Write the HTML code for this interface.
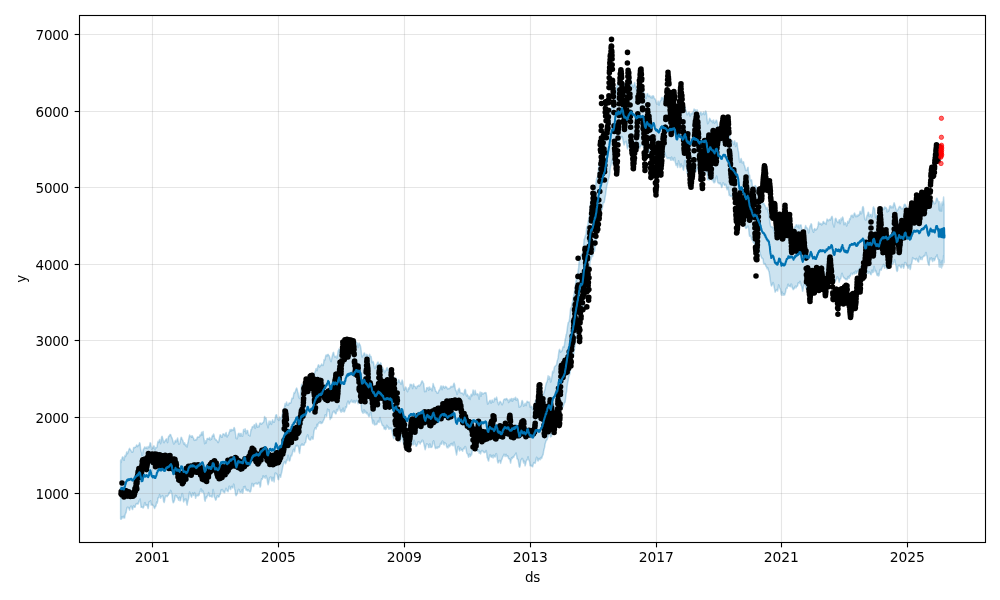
<!DOCTYPE html>
<html><head><meta charset="utf-8"><title>forecast</title>
<style>
html,body{margin:0;padding:0;background:#fff;}
svg{display:block;}
text{font-family:"DejaVu Sans","Liberation Sans",sans-serif;font-size:13.5px;letter-spacing:-0.22px;fill:#000;}
</style></head><body>
<svg width="1000" height="600" viewBox="0 0 1000 600">
<rect width="1000" height="600" fill="#fff"/>
<path d="M120.6,459.9 121.1,462.6 121.6,460.1 122.1,458.1 122.6,456.9 123.1,457.1 123.6,459.7 124.1,460.3 124.6,457.2 125.1,455.3 125.6,456.5 126.1,455.4 126.6,452.1 127.1,453.1 127.6,453.6 128.1,451.9 128.6,450.8 129.1,449.1 129.6,448.4 130.1,449.2 130.6,449.9 131.1,450.7 131.6,451.8 132.1,452.2 132.6,452.3 133.1,450.9 133.6,447.7 134.1,447.4 134.6,447.8 135.1,447.1 135.6,447.3 136.1,446.2 136.6,444.9 137.1,445.7 137.6,446.6 138.1,445.5 138.6,445.1 139.1,444.8 139.6,442.8 140.1,443.9 140.6,449.1 141.1,451.2 141.6,452.7 142.1,455.5 142.6,454.7 143.1,450.2 143.6,448.8 144.1,449.0 144.6,446.9 145.1,447.2 145.6,448.3 146.1,448.3 146.6,447.1 147.1,448.5 147.6,448.6 148.1,446.5 148.6,447.4 149.1,447.6 149.6,445.8 150.1,442.8 150.6,443.1 151.1,446.5 151.6,449.2 152.1,448.7 152.6,447.4 153.1,448.1 153.6,446.0 154.1,445.9 154.6,449.4 155.1,449.9 155.6,447.5 156.1,447.6 156.6,447.8 157.1,446.4 157.6,443.3 158.1,441.3 158.6,442.6 159.1,441.5 159.6,439.5 160.1,441.1 160.6,443.7 161.1,441.6 161.6,436.9 162.1,436.3 162.6,438.1 163.1,439.9 163.6,442.3 164.1,442.8 164.6,441.3 165.1,441.1 165.6,440.0 166.1,439.1 166.6,438.9 167.1,441.4 167.6,442.6 168.1,438.6 168.6,436.3 169.1,436.5 169.6,435.4 170.1,434.4 170.6,434.6 171.1,436.1 171.6,437.5 172.1,438.1 172.6,440.0 173.1,441.8 173.6,443.9 174.1,443.8 174.6,443.0 175.1,440.9 175.6,440.4 176.1,441.9 176.6,441.5 177.1,439.5 177.6,437.9 178.1,440.7 178.6,443.9 179.1,444.0 179.6,443.7 180.1,442.4 180.6,439.5 181.1,437.3 181.6,437.7 182.1,439.4 182.6,440.0 183.1,441.3 183.6,443.5 184.1,444.5 184.6,442.8 185.1,444.2 185.6,445.8 186.1,444.7 186.6,446.4 187.1,447.0 187.6,444.1 188.1,442.0 188.6,439.5 189.1,437.2 189.6,435.1 190.1,436.5 190.6,436.6 191.1,436.0 191.6,437.3 192.1,435.7 192.6,436.5 193.1,437.6 193.6,438.3 194.1,440.1 194.6,440.4 195.1,440.2 195.6,439.7 196.1,439.5 196.6,439.8 197.1,437.8 197.6,436.9 198.1,437.0 198.6,437.0 199.1,437.2 199.6,436.2 200.1,434.7 200.6,435.8 201.1,434.3 201.6,432.2 202.1,435.0 202.6,432.7 203.1,431.5 203.6,437.6 204.1,439.5 204.6,443.7 205.1,443.2 205.6,440.7 206.1,443.0 206.6,440.8 207.1,438.5 207.6,438.5 208.1,438.5 208.6,439.2 209.1,438.7 209.6,437.4 210.1,440.0 210.6,439.7 211.1,438.6 211.6,439.1 212.1,436.3 212.6,435.4 213.1,436.3 213.6,434.1 214.1,435.5 214.6,438.3 215.1,438.9 215.6,440.0 216.1,439.6 216.6,440.5 217.1,440.9 217.6,441.6 218.1,442.6 218.6,441.8 219.1,440.0 219.6,436.9 220.1,434.8 220.6,434.9 221.1,436.3 221.6,437.3 222.1,437.3 222.6,435.3 223.1,433.8 223.6,434.1 224.1,434.3 224.6,435.2 225.1,436.0 225.6,433.7 226.1,432.5 226.6,435.5 227.1,437.0 227.6,435.2 228.1,435.5 228.6,434.5 229.1,432.3 229.6,431.8 230.1,429.6 230.6,430.7 231.1,431.1 231.6,429.4 232.1,429.6 232.6,430.5 233.1,430.5 233.6,429.0 234.1,427.4 234.6,428.5 235.1,431.2 235.6,434.5 236.1,438.5 236.6,438.5 237.1,438.8 237.6,437.3 238.1,434.2 238.6,433.4 239.1,433.2 239.6,434.7 240.1,436.3 240.6,433.6 241.1,433.3 241.6,435.6 242.1,436.1 242.6,436.3 243.1,433.0 243.6,429.4 244.1,430.7 244.6,431.4 245.1,428.7 245.6,430.7 246.1,433.8 246.6,432.5 247.1,430.6 247.6,430.5 248.1,433.2 248.6,435.3 249.1,435.3 249.6,435.8 250.1,436.0 250.6,432.1 251.1,429.5 251.6,429.4 252.1,427.2 252.6,426.5 253.1,426.9 253.6,426.7 254.1,425.0 254.6,424.8 255.1,428.4 255.6,427.6 256.1,423.2 256.6,424.3 257.1,426.7 257.6,427.3 258.1,426.0 258.6,426.8 259.1,426.8 259.6,423.7 260.1,423.0 260.6,423.3 261.1,424.1 261.6,424.3 262.1,423.0 262.6,422.9 263.1,422.6 263.6,422.1 264.1,419.9 264.6,416.4 265.1,417.9 265.6,418.0 266.1,418.1 266.6,421.9 267.1,424.4 267.6,425.8 268.1,427.8 268.6,423.9 269.1,421.1 269.6,424.6 270.1,423.2 270.6,421.2 271.1,422.5 271.6,424.4 272.1,421.9 272.6,419.8 273.1,421.1 273.6,422.0 274.1,422.3 274.6,421.3 275.1,418.6 275.6,415.9 276.1,414.8 276.6,414.8 277.1,417.1 277.6,419.4 278.1,418.9 278.6,420.3 279.1,420.5 279.6,416.9 280.1,418.1 280.6,418.9 281.1,417.8 281.6,417.4 282.1,415.1 282.6,413.2 283.1,410.4 283.6,408.6 284.1,410.1 284.6,406.5 285.1,403.6 285.6,405.9 286.1,404.3 286.6,402.0 287.1,404.8 287.6,405.1 288.1,404.3 288.6,404.9 289.1,402.9 289.6,402.9 290.1,403.3 290.6,403.3 291.1,402.0 291.6,399.6 292.1,398.1 292.6,398.5 293.1,398.3 293.6,394.9 294.1,392.5 294.6,393.2 295.1,392.4 295.6,390.6 296.1,389.0 296.6,388.0 297.1,389.1 297.6,391.5 298.1,393.1 298.6,396.6 299.1,397.8 299.6,398.4 300.1,397.4 300.6,392.0 301.1,388.5 301.6,384.3 302.1,384.8 302.6,388.1 303.1,389.8 303.6,387.4 304.1,386.7 304.6,387.9 305.1,386.8 305.6,383.9 306.1,381.7 306.6,381.6 307.1,379.9 307.6,379.3 308.1,378.0 308.6,380.4 309.1,383.7 309.6,383.8 310.1,383.6 310.6,383.4 311.1,381.9 311.6,379.3 312.1,378.0 312.6,380.4 313.1,381.4 313.6,378.1 314.1,374.8 314.6,372.9 315.1,371.8 315.6,370.2 316.1,368.4 316.6,370.3 317.1,370.8 317.6,367.5 318.1,365.5 318.6,364.8 319.1,366.2 319.6,367.2 320.1,366.0 320.6,365.4 321.1,365.5 321.6,364.0 322.1,365.0 322.6,365.4 323.1,365.4 323.6,363.2 324.1,359.5 324.6,360.4 325.1,359.5 325.6,356.3 326.1,354.9 326.6,355.7 327.1,356.0 327.6,354.6 328.1,354.3 328.6,355.3 329.1,355.7 329.6,356.9 330.1,358.7 330.6,360.7 331.1,361.6 331.6,359.3 332.1,356.6 332.6,354.8 333.1,352.6 333.6,352.4 334.1,355.2 334.6,356.7 335.1,357.1 335.6,356.5 336.1,356.1 336.6,357.9 337.1,357.9 337.6,354.5 338.1,351.1 338.6,350.1 339.1,348.7 339.6,350.0 340.1,354.1 340.6,354.7 341.1,356.4 341.6,356.5 342.1,353.7 342.6,353.7 343.1,353.6 343.6,354.8 344.1,355.4 344.6,355.7 345.1,354.7 345.6,351.8 346.1,349.4 346.6,346.2 347.1,345.4 347.6,345.4 348.1,346.1 348.6,346.8 349.1,347.6 349.6,348.4 350.1,347.2 350.6,346.3 351.1,345.4 351.6,346.0 352.1,347.3 352.6,346.3 353.1,346.0 353.6,349.1 354.1,347.7 354.6,343.7 355.1,342.4 355.6,340.6 356.1,342.1 356.6,343.5 357.1,342.8 357.6,345.0 358.1,347.6 358.6,344.7 359.1,343.0 359.6,344.6 360.1,344.9 360.6,347.0 361.1,349.9 361.6,354.4 362.1,357.1 362.6,356.0 363.1,355.5 363.6,354.6 364.1,353.1 364.6,353.1 365.1,355.7 365.6,357.0 366.1,355.6 366.6,354.4 367.1,354.7 367.6,355.5 368.1,357.1 368.6,358.9 369.1,355.9 369.6,354.2 370.1,355.9 370.6,356.4 371.1,356.5 371.6,360.2 372.1,362.8 372.6,361.4 373.1,361.5 373.6,363.0 374.1,365.9 374.6,368.3 375.1,368.5 375.6,366.5 376.1,365.2 376.6,364.5 377.1,364.0 377.6,362.3 378.1,362.1 378.6,364.5 379.1,364.3 379.6,364.4 380.1,364.1 380.6,362.8 381.1,363.7 381.6,366.9 382.1,369.0 382.6,367.7 383.1,368.7 383.6,369.9 384.1,371.3 384.6,372.8 385.1,370.8 385.6,370.9 386.1,370.2 386.6,368.3 387.1,367.6 387.6,369.0 388.1,370.6 388.6,370.4 389.1,370.2 389.6,371.9 390.1,371.8 390.6,369.2 391.1,371.0 391.6,374.2 392.1,375.5 392.6,375.4 393.1,377.6 393.6,381.9 394.1,382.5 394.6,382.1 395.1,379.1 395.6,377.5 396.1,378.9 396.6,380.8 397.1,382.3 397.6,382.4 398.1,381.9 398.6,379.8 399.1,380.3 399.6,382.2 400.1,382.5 400.6,383.5 401.1,384.4 401.6,382.3 402.1,380.1 402.6,381.4 403.1,384.3 403.6,388.1 404.1,390.3 404.6,389.5 405.1,389.0 405.6,386.9 406.1,387.6 406.6,389.5 407.1,391.0 407.6,391.7 408.1,389.4 408.6,387.7 409.1,389.1 409.6,387.6 410.1,384.3 410.6,384.7 411.1,384.7 411.6,384.6 412.1,386.2 412.6,388.6 413.1,386.0 413.6,384.0 414.1,385.9 414.6,386.2 415.1,386.7 415.6,387.1 416.1,388.6 416.6,388.1 417.1,386.2 417.6,386.1 418.1,385.8 418.6,385.3 419.1,386.0 419.6,385.9 420.1,384.8 420.6,384.6 421.1,383.0 421.6,381.7 422.1,380.9 422.6,381.7 423.1,382.7 423.6,383.4 424.1,387.3 424.6,391.7 425.1,390.9 425.6,391.5 426.1,391.6 426.6,387.8 427.1,388.0 427.6,388.4 428.1,387.4 428.6,390.2 429.1,389.7 429.6,387.0 430.1,389.2 430.6,388.8 431.1,388.4 431.6,389.7 432.1,390.9 432.6,387.6 433.1,383.6 433.6,385.3 434.1,386.9 434.6,387.1 435.1,389.1 435.6,391.2 436.1,391.2 436.6,392.2 437.1,393.2 437.6,393.2 438.1,393.1 438.6,391.4 439.1,390.1 439.6,390.0 440.1,388.4 440.6,387.1 441.1,385.9 441.6,386.9 442.1,389.7 442.6,387.6 443.1,386.0 443.6,386.5 444.1,387.6 444.6,388.3 445.1,387.0 445.6,386.4 446.1,387.0 446.6,387.0 447.1,388.3 447.6,388.9 448.1,388.5 448.6,388.8 449.1,388.8 449.6,388.3 450.1,388.0 450.6,386.9 451.1,386.3 451.6,386.9 452.1,386.4 452.6,386.5 453.1,386.8 453.6,384.1 454.1,383.2 454.6,384.7 455.1,387.8 455.6,390.4 456.1,390.7 456.6,392.3 457.1,394.5 457.6,393.1 458.1,389.7 458.6,389.8 459.1,388.2 459.6,389.4 460.1,392.6 460.6,392.8 461.1,392.9 461.6,393.1 462.1,392.9 462.6,393.6 463.1,393.8 463.6,394.9 464.1,393.1 464.6,390.1 465.1,389.4 465.6,390.2 466.1,394.7 466.6,396.0 467.1,394.2 467.6,395.3 468.1,395.8 468.6,398.5 469.1,397.3 469.6,396.3 470.1,399.4 470.6,397.0 471.1,394.2 471.6,394.5 472.1,395.9 472.6,393.7 473.1,389.9 473.6,391.6 474.1,395.0 474.6,393.9 475.1,390.3 475.6,392.5 476.1,394.6 476.6,394.3 477.1,394.7 477.6,393.7 478.1,394.2 478.6,396.9 479.1,399.2 479.6,395.1 480.1,392.1 480.6,395.8 481.1,396.1 481.6,392.6 482.1,392.9 482.6,394.1 483.1,394.0 483.6,393.5 484.1,393.2 484.6,392.8 485.1,393.0 485.6,392.5 486.1,392.9 486.6,396.0 487.1,400.8 487.6,404.1 488.1,403.6 488.6,403.1 489.1,401.8 489.6,400.7 490.1,400.2 490.6,401.4 491.1,403.2 491.6,401.8 492.1,400.0 492.6,400.8 493.1,402.2 493.6,401.9 494.1,400.4 494.6,398.2 495.1,398.6 495.6,399.5 496.1,398.9 496.6,397.1 497.1,399.2 497.6,402.2 498.1,403.1 498.6,404.7 499.1,403.3 499.6,402.2 500.1,401.4 500.6,401.8 501.1,402.7 501.6,403.9 502.1,404.8 502.6,403.9 503.1,402.8 503.6,400.1 504.1,399.4 504.6,399.1 505.1,399.1 505.6,399.9 506.1,398.5 506.6,398.5 507.1,399.7 507.6,399.4 508.1,400.2 508.6,402.5 509.1,401.8 509.6,400.4 510.1,399.1 510.6,399.5 511.1,401.1 511.6,398.4 512.1,398.6 512.6,401.2 513.1,399.9 513.6,398.7 514.1,398.2 514.6,399.3 515.1,398.6 515.6,397.2 516.1,400.3 516.6,400.1 517.1,398.4 517.6,399.3 518.1,399.9 518.6,403.1 519.1,407.2 519.6,407.1 520.1,406.1 520.6,406.5 521.1,405.6 521.6,402.1 522.1,400.5 522.6,401.3 523.1,403.9 523.6,406.2 524.1,405.7 524.6,404.5 525.1,403.2 525.6,404.7 526.1,405.6 526.6,403.0 527.1,401.2 527.6,401.7 528.1,402.3 528.6,402.3 529.1,402.0 529.6,404.3 530.1,407.2 530.6,407.0 531.1,406.3 531.6,406.4 532.1,408.3 532.6,409.5 533.1,408.5 533.6,406.4 534.1,404.1 534.6,403.9 535.1,402.4 535.6,400.2 536.1,400.4 536.6,402.7 537.1,403.2 537.6,403.7 538.1,403.6 538.6,401.9 539.1,400.4 539.6,400.0 540.1,402.4 540.6,402.7 541.1,401.4 541.6,401.1 542.1,399.1 542.6,396.4 543.1,394.6 543.6,393.6 544.1,392.3 544.6,390.6 545.1,388.7 545.6,385.9 546.1,384.0 546.6,382.3 547.1,382.1 547.6,379.0 548.1,375.8 548.6,379.2 549.1,378.9 549.6,376.4 550.1,378.4 550.6,382.1 551.1,381.3 551.6,378.2 552.1,375.3 552.6,371.3 553.1,372.8 553.6,372.5 554.1,368.2 554.6,366.7 555.1,366.2 555.6,365.8 556.1,365.2 556.6,364.4 557.1,361.2 557.6,359.7 558.1,357.9 558.6,353.9 559.1,350.4 559.6,349.4 560.1,350.8 560.6,352.2 561.1,351.5 561.6,350.7 562.1,350.8 562.6,348.3 563.1,346.7 563.6,346.4 564.1,347.1 564.6,343.6 565.1,339.8 565.6,337.9 566.1,334.9 566.6,333.8 567.1,330.1 567.6,326.2 568.1,323.0 568.6,322.2 569.1,321.6 569.6,318.4 570.1,313.4 570.6,308.2 571.1,308.0 571.6,306.5 572.1,303.0 572.6,301.7 573.1,298.5 573.6,296.3 574.1,294.5 574.6,290.8 575.1,286.9 575.6,283.9 576.1,280.9 576.6,278.5 577.1,277.5 577.6,274.6 578.1,271.2 578.6,267.9 579.1,261.2 579.6,258.1 580.1,258.1 580.6,255.9 581.1,255.8 581.6,254.5 582.1,253.8 582.6,253.9 583.1,252.1 583.6,246.1 584.1,239.4 584.6,238.6 585.1,236.6 585.6,235.4 586.1,234.0 586.6,228.1 587.1,226.3 587.6,226.8 588.1,222.3 588.6,219.8 589.1,217.6 589.6,213.2 590.1,208.5 590.6,201.8 591.1,200.8 591.6,202.7 592.1,203.8 592.6,203.6 593.1,200.1 593.6,195.6 594.1,192.0 594.6,190.2 595.1,188.4 595.6,186.4 596.1,181.8 596.6,178.8 597.1,177.7 597.6,176.6 598.1,174.1 598.6,167.8 599.1,164.9 599.6,161.5 600.1,158.0 600.6,155.3 601.1,155.4 601.6,155.8 602.1,150.6 602.6,147.6 603.1,147.8 603.6,146.7 604.1,144.6 604.6,141.4 605.1,138.1 605.6,136.3 606.1,135.0 606.6,131.2 607.1,126.4 607.6,126.0 608.1,123.7 608.6,121.1 609.1,119.9 609.6,117.3 610.1,116.2 610.6,113.1 611.1,109.3 611.6,105.4 612.1,103.0 612.6,105.0 613.1,108.1 613.6,108.7 614.1,107.7 614.6,102.9 615.1,96.4 615.6,93.4 616.1,90.7 616.6,88.0 617.1,85.4 617.6,84.5 618.1,82.1 618.6,80.2 619.1,80.6 619.6,82.2 620.1,83.1 620.6,82.3 621.1,80.2 621.6,77.3 622.1,79.7 622.6,80.5 623.1,81.6 623.6,84.2 624.1,83.2 624.6,84.4 625.1,87.4 625.6,86.2 626.1,87.2 626.6,88.5 627.1,87.3 627.6,87.9 628.1,87.2 628.6,88.3 629.1,86.3 629.6,83.9 630.1,86.2 630.6,83.0 631.1,80.1 631.6,83.1 632.1,85.0 632.6,85.3 633.1,87.3 633.6,86.6 634.1,84.4 634.6,82.4 635.1,84.7 635.6,87.6 636.1,88.5 636.6,89.9 637.1,87.8 637.6,89.0 638.1,91.3 638.6,90.3 639.1,87.9 639.6,86.6 640.1,87.3 640.6,87.4 641.1,86.9 641.6,87.6 642.1,88.7 642.6,88.4 643.1,88.1 643.6,90.8 644.1,94.5 644.6,93.4 645.1,94.7 645.6,98.0 646.1,98.5 646.6,96.4 647.1,93.9 647.6,93.6 648.1,95.4 648.6,96.6 649.1,95.7 649.6,95.4 650.1,96.7 650.6,97.6 651.1,96.2 651.6,97.8 652.1,98.1 652.6,96.1 653.1,95.7 653.6,96.2 654.1,98.1 654.6,98.4 655.1,99.3 655.6,99.9 656.1,102.1 656.6,103.9 657.1,103.9 657.6,103.9 658.1,101.1 658.6,103.4 659.1,105.2 659.6,102.6 660.1,101.2 660.6,100.6 661.1,100.3 661.6,97.4 662.1,97.7 662.6,98.8 663.1,97.4 663.6,100.2 664.1,102.1 664.6,100.1 665.1,97.1 665.6,97.8 666.1,100.8 666.6,101.4 667.1,100.5 667.6,100.3 668.1,100.4 668.6,101.1 669.1,102.8 669.6,103.3 670.1,101.5 670.6,100.6 671.1,101.9 671.6,101.1 672.1,100.3 672.6,103.1 673.1,103.2 673.6,101.5 674.1,100.5 674.6,100.0 675.1,100.5 675.6,103.3 676.1,109.5 676.6,113.8 677.1,114.0 677.6,111.2 678.1,108.2 678.6,105.7 679.1,105.6 679.6,107.8 680.1,108.0 680.6,108.7 681.1,108.5 681.6,105.8 682.1,106.5 682.6,107.5 683.1,107.4 683.6,109.5 684.1,109.1 684.6,106.6 685.1,107.7 685.6,110.1 686.1,110.6 686.6,112.8 687.1,114.9 687.6,113.8 688.1,113.8 688.6,112.6 689.1,112.1 689.6,114.3 690.1,116.1 690.6,115.3 691.1,113.3 691.6,113.4 692.1,113.9 692.6,112.9 693.1,112.2 693.6,110.7 694.1,109.0 694.6,110.0 695.1,110.4 695.6,109.9 696.1,112.1 696.6,112.5 697.1,109.8 697.6,111.1 698.1,115.0 698.6,115.6 699.1,115.6 699.6,115.1 700.1,112.9 700.6,112.2 701.1,112.3 701.6,114.9 702.1,113.8 702.6,113.6 703.1,113.8 703.6,111.9 704.1,113.9 704.6,114.6 705.1,113.6 705.6,111.0 706.1,111.7 706.6,114.3 707.1,119.7 707.6,123.7 708.1,123.1 708.6,122.3 709.1,120.2 709.6,118.3 710.1,118.9 710.6,120.3 711.1,120.9 711.6,121.4 712.1,120.6 712.6,122.7 713.1,122.5 713.6,120.0 714.1,122.4 714.6,123.4 715.1,121.6 715.6,122.1 716.1,120.3 716.6,120.2 717.1,121.8 717.6,124.8 718.1,129.1 718.6,128.2 719.1,126.8 719.6,126.4 720.1,127.3 720.6,130.3 721.1,129.4 721.6,129.5 722.1,129.1 722.6,126.0 723.1,124.2 723.6,126.9 724.1,128.8 724.6,127.1 725.1,126.8 725.6,128.3 726.1,127.8 726.6,127.9 727.1,133.5 727.6,134.0 728.1,132.4 728.6,134.4 729.1,134.8 729.6,135.7 730.1,139.2 730.6,140.6 731.1,140.7 731.6,140.4 732.1,140.6 732.6,141.4 733.1,143.2 733.6,144.6 734.1,143.5 734.6,140.8 735.1,142.6 735.6,146.6 736.1,145.3 736.6,142.7 737.1,142.9 737.6,147.4 738.1,150.2 738.6,152.5 739.1,157.6 739.6,161.9 740.1,162.3 740.6,160.1 741.1,158.5 741.6,160.2 742.1,162.9 742.6,162.8 743.1,161.8 743.6,162.0 744.1,164.8 744.6,165.8 745.1,167.7 745.6,170.4 746.1,170.6 746.6,170.6 747.1,169.8 747.6,167.6 748.1,167.4 748.6,173.0 749.1,175.1 749.6,175.0 750.1,179.4 750.6,180.8 751.1,179.8 751.6,179.9 752.1,183.1 752.6,187.4 753.1,189.5 753.6,188.7 754.1,188.1 754.6,186.5 755.1,185.5 755.6,186.1 756.1,186.6 756.6,188.9 757.1,190.8 757.6,190.2 758.1,191.8 758.6,193.7 759.1,192.3 759.6,193.6 760.1,194.3 760.6,196.0 761.1,199.8 761.6,201.4 762.1,203.1 762.6,203.9 763.1,203.8 763.6,203.1 764.1,203.8 764.6,205.3 765.1,205.7 765.6,207.4 766.1,209.0 766.6,208.4 767.1,207.4 767.6,209.5 768.1,212.1 768.6,213.6 769.1,215.8 769.6,219.9 770.1,223.5 770.6,226.0 771.1,227.0 771.6,226.8 772.1,226.8 772.6,227.3 773.1,228.2 773.6,229.3 774.1,230.8 774.6,233.3 775.1,234.8 775.6,235.4 776.1,235.5 776.6,235.2 777.1,234.3 777.6,235.1 778.1,235.3 778.6,232.4 779.1,230.0 779.6,232.4 780.1,233.4 780.6,232.8 781.1,235.6 781.6,235.2 782.1,234.9 782.6,237.7 783.1,238.7 783.6,238.1 784.1,238.2 784.6,237.5 785.1,236.8 785.6,235.0 786.1,231.9 786.6,230.8 787.1,231.3 787.6,230.8 788.1,230.0 788.6,227.3 789.1,227.8 789.6,232.6 790.1,232.8 790.6,229.8 791.1,227.2 791.6,227.8 792.1,227.9 792.6,229.1 793.1,230.1 793.6,230.5 794.1,232.1 794.6,228.2 795.1,226.3 795.6,227.1 796.1,224.9 796.6,224.7 797.1,225.6 797.6,227.0 798.1,225.4 798.6,225.0 799.1,228.2 799.6,226.9 800.1,224.9 800.6,224.9 801.1,225.0 801.6,228.4 802.1,232.7 802.6,234.1 803.1,235.7 803.6,233.8 804.1,229.6 804.6,229.5 805.1,227.8 805.6,225.6 806.1,227.1 806.6,227.5 807.1,228.3 807.6,228.8 808.1,230.4 808.6,232.9 809.1,231.5 809.6,228.0 810.1,225.8 810.6,225.5 811.1,223.7 811.6,224.6 812.1,228.6 812.6,230.0 813.1,231.5 813.6,232.3 814.1,229.5 814.6,228.6 815.1,229.2 815.6,230.1 816.1,229.8 816.6,229.1 817.1,228.8 817.6,227.3 818.1,225.4 818.6,221.9 819.1,223.2 819.6,224.0 820.1,223.4 820.6,224.1 821.1,223.5 821.6,225.0 822.1,224.4 822.6,223.7 823.1,221.7 823.6,221.5 824.1,223.5 824.6,223.0 825.1,223.3 825.6,223.4 826.1,224.4 826.6,221.3 827.1,219.0 827.6,219.9 828.1,220.7 828.6,220.7 829.1,219.6 829.6,219.4 830.1,219.2 830.6,220.1 831.1,218.2 831.6,216.8 832.1,216.4 832.6,218.7 833.1,224.0 833.6,225.6 834.1,227.0 834.6,224.5 835.1,219.4 835.6,218.2 836.1,218.8 836.6,220.5 837.1,221.7 837.6,222.0 838.1,222.7 838.6,222.0 839.1,220.0 839.6,219.7 840.1,223.8 840.6,222.2 841.1,218.2 841.6,220.1 842.1,219.4 842.6,217.1 843.1,218.1 843.6,222.0 844.1,224.8 844.6,223.4 845.1,222.6 845.6,223.6 846.1,224.2 846.6,226.0 847.1,224.9 847.6,221.6 848.1,221.2 848.6,223.0 849.1,221.7 849.6,218.8 850.1,219.7 850.6,217.7 851.1,215.6 851.6,215.9 852.1,215.1 852.6,215.9 853.1,217.5 853.6,216.2 854.1,213.7 854.6,213.0 855.1,214.5 855.6,216.4 856.1,216.8 856.6,216.2 857.1,214.9 857.6,216.4 858.1,215.8 858.6,214.8 859.1,215.2 859.6,213.8 860.1,211.2 860.6,212.4 861.1,213.9 861.6,213.5 862.1,210.6 862.6,207.0 863.1,206.6 863.6,208.2 864.1,213.7 864.6,218.2 865.1,219.5 865.6,219.9 866.1,219.8 866.6,217.3 867.1,215.1 867.6,214.8 868.1,212.3 868.6,212.5 869.1,216.6 869.6,216.5 870.1,214.6 870.6,214.5 871.1,214.7 871.6,217.0 872.1,216.7 872.6,212.7 873.1,207.7 873.6,206.9 874.1,208.3 874.6,208.6 875.1,213.6 875.6,217.7 876.1,215.2 876.6,215.1 877.1,217.4 877.6,215.9 878.1,216.8 878.6,216.3 879.1,213.8 879.6,212.8 880.1,211.3 880.6,212.2 881.1,210.7 881.6,207.7 882.1,207.4 882.6,208.4 883.1,208.8 883.6,209.6 884.1,209.4 884.6,207.1 885.1,207.1 885.6,208.2 886.1,207.8 886.6,208.5 887.1,212.0 887.6,211.6 888.1,209.7 888.6,211.2 889.1,209.7 889.6,206.7 890.1,205.7 890.6,206.6 891.1,208.0 891.6,207.0 892.1,206.3 892.6,207.5 893.1,207.9 893.6,204.4 894.1,202.8 894.6,204.1 895.1,205.8 895.6,207.7 896.1,209.2 896.6,211.3 897.1,210.8 897.6,210.2 898.1,209.4 898.6,208.1 899.1,207.0 899.6,206.4 900.1,207.2 900.6,206.8 901.1,208.4 901.6,208.8 902.1,208.7 902.6,208.6 903.1,208.6 903.6,207.3 904.1,205.0 904.6,204.2 905.1,204.2 905.6,205.3 906.1,206.1 906.6,208.9 907.1,210.6 907.6,210.6 908.1,210.9 908.6,210.1 909.1,209.3 909.6,210.3 910.1,210.5 910.6,210.1 911.1,210.4 911.6,209.3 912.1,206.2 912.6,202.7 913.1,202.2 913.6,202.7 914.1,203.5 914.6,203.1 915.1,201.8 915.6,203.1 916.1,202.8 916.6,201.6 917.1,203.7 917.6,205.5 918.1,204.8 918.6,204.2 919.1,202.9 919.6,203.2 920.1,203.7 920.6,202.6 921.1,201.3 921.6,200.5 922.1,200.5 922.6,200.5 923.1,201.8 923.6,201.6 924.1,198.1 924.6,196.2 925.1,195.6 925.6,195.1 926.1,197.2 926.6,199.5 927.1,200.6 927.6,203.3 928.1,205.4 928.6,204.2 929.1,202.3 929.6,200.8 930.1,202.1 930.6,201.0 931.1,201.3 931.6,204.8 932.1,203.6 932.6,201.9 933.1,201.2 933.6,201.5 934.1,203.4 934.6,203.8 935.1,203.4 935.6,202.8 936.1,200.1 936.6,198.2 937.1,198.2 937.6,200.0 938.1,201.0 938.6,202.4 939.1,209.9 939.6,201.8 940.1,211.1 940.6,207.3 941.1,203.9 941.6,211.1 942.1,202.0 942.6,205.1 943.1,203.0 943.6,197.1 944.1,204.6 944.1,262.8 943.6,255.5 943.1,262.3 942.6,265.9 942.1,260.4 941.6,268.0 941.1,262.2 940.6,263.1 940.1,267.2 939.6,260.1 939.1,266.7 938.6,259.4 938.1,259.2 937.6,257.6 937.1,254.8 936.6,256.4 936.1,256.5 935.6,257.0 935.1,259.0 934.6,260.2 934.1,260.6 933.6,258.4 933.1,259.7 932.6,261.6 932.1,258.5 931.6,257.9 931.1,259.7 930.6,259.6 930.1,257.9 929.6,260.4 929.1,265.4 928.6,264.5 928.1,263.4 927.6,261.1 927.1,256.8 926.6,254.9 926.1,252.5 925.6,252.8 925.1,255.6 924.6,256.0 924.1,255.5 923.6,256.7 923.1,256.7 922.6,257.2 922.1,259.7 921.6,258.1 921.1,257.3 920.6,259.4 920.1,258.9 919.6,256.3 919.1,258.1 918.6,262.1 918.1,261.7 917.6,261.0 917.1,259.4 916.6,258.4 916.1,258.9 915.6,259.9 915.1,259.4 914.6,258.7 914.1,258.7 913.6,258.9 913.1,258.0 912.6,257.6 912.1,261.6 911.6,263.7 911.1,264.3 910.6,268.1 910.1,269.5 909.6,266.5 909.1,265.4 908.6,266.7 908.1,268.2 907.6,266.4 907.1,265.3 906.6,265.5 906.1,263.2 905.6,262.8 905.1,262.4 904.6,262.8 904.1,266.8 903.6,268.2 903.1,266.5 902.6,264.4 902.1,264.5 901.6,266.8 901.1,267.9 900.6,267.3 900.1,266.1 899.6,265.4 899.1,266.0 898.6,265.5 898.1,266.2 897.6,270.5 897.1,271.5 896.6,270.5 896.1,266.7 895.6,264.3 895.1,261.6 894.6,259.8 894.1,261.9 893.6,262.3 893.1,263.7 892.6,264.2 892.1,264.2 891.6,265.0 891.1,265.0 890.6,264.3 890.1,264.7 889.6,264.8 889.1,263.9 888.6,264.7 888.1,266.9 887.6,267.9 887.1,269.0 886.6,268.2 886.1,266.1 885.6,265.4 885.1,266.6 884.6,268.3 884.1,265.3 883.6,264.3 883.1,266.2 882.6,266.3 882.1,267.7 881.6,268.8 881.1,270.2 880.6,269.4 880.1,269.5 879.6,271.4 879.1,275.3 878.6,275.9 878.1,273.6 877.6,275.4 877.1,275.4 876.6,273.7 876.1,271.0 875.6,270.6 875.1,271.7 874.6,268.5 874.1,266.3 873.6,270.0 873.1,272.4 872.6,272.7 872.1,269.9 871.6,271.3 871.1,274.7 870.6,274.4 870.1,273.5 869.6,272.0 869.1,272.1 868.6,272.0 868.1,273.4 867.6,272.1 867.1,270.5 866.6,273.1 866.1,275.0 865.6,275.5 865.1,274.0 864.6,272.7 864.1,273.4 863.6,270.6 863.1,267.6 862.6,268.0 862.1,268.4 861.6,268.1 861.1,266.8 860.6,267.6 860.1,268.1 859.6,268.4 859.1,270.3 858.6,270.3 858.1,271.8 857.6,271.4 857.1,271.1 856.6,273.2 856.1,273.3 855.6,271.1 855.1,271.8 854.6,273.9 854.1,272.4 853.6,272.7 853.1,273.7 852.6,274.6 852.1,274.0 851.6,273.2 851.1,273.3 850.6,275.4 850.1,276.5 849.6,275.5 849.1,278.3 848.6,277.7 848.1,276.4 847.6,278.8 847.1,279.8 846.6,279.7 846.1,278.5 845.6,279.5 845.1,279.0 844.6,278.1 844.1,278.2 843.6,277.2 843.1,276.9 842.6,275.0 842.1,273.2 841.6,274.1 841.1,277.4 840.6,278.9 840.1,278.7 839.6,280.8 839.1,282.2 838.6,279.6 838.1,278.1 837.6,277.2 837.1,276.9 836.6,278.9 836.1,279.3 835.6,280.8 835.1,282.0 834.6,280.0 834.1,281.1 833.6,280.9 833.1,278.3 832.6,277.4 832.1,277.4 831.6,277.3 831.1,277.9 830.6,277.8 830.1,275.5 829.6,274.0 829.1,273.8 828.6,275.2 828.1,276.5 827.6,277.5 827.1,277.4 826.6,277.8 826.1,278.7 825.6,281.9 825.1,281.6 824.6,277.7 824.1,278.0 823.6,279.3 823.1,278.6 822.6,278.7 822.1,282.3 821.6,282.9 821.1,282.3 820.6,282.9 820.1,280.4 819.6,280.4 819.1,281.9 818.6,279.1 818.1,281.2 817.6,282.4 817.1,280.0 816.6,281.9 816.1,285.3 815.6,286.6 815.1,287.1 814.6,287.4 814.1,286.6 813.6,286.5 813.1,287.1 812.6,285.3 812.1,282.9 811.6,281.6 811.1,280.0 810.6,280.4 810.1,282.7 809.6,285.6 809.1,286.4 808.6,287.4 808.1,288.5 807.6,287.7 807.1,287.7 806.6,288.9 806.1,288.8 805.6,286.7 805.1,284.3 804.6,283.3 804.1,284.5 803.6,286.1 803.1,289.3 802.6,291.2 802.1,288.5 801.6,285.9 801.1,285.3 800.6,282.9 800.1,281.3 799.6,281.9 799.1,283.5 798.6,282.8 798.1,282.9 797.6,286.0 797.1,286.2 796.6,286.5 796.1,287.8 795.6,286.1 795.1,286.5 794.6,288.4 794.1,287.9 793.6,289.2 793.1,289.6 792.6,288.3 792.1,287.4 791.6,284.4 791.1,284.0 790.6,286.6 790.1,286.7 789.6,285.5 789.1,286.3 788.6,285.9 788.1,284.1 787.6,285.6 787.1,288.4 786.6,288.1 786.1,288.7 785.6,292.0 785.1,293.5 784.6,295.1 784.1,294.8 783.6,293.7 783.1,295.3 782.6,293.5 782.1,291.9 781.6,295.3 781.1,293.9 780.6,289.9 780.1,288.8 779.6,287.7 779.1,285.8 778.6,284.9 778.1,288.4 777.6,291.0 777.1,289.5 776.6,290.2 776.1,290.2 775.6,291.3 775.1,292.2 774.6,289.2 774.1,286.8 773.6,283.7 773.1,282.4 772.6,283.9 772.1,284.9 771.6,286.0 771.1,285.2 770.6,282.1 770.1,279.1 769.6,275.2 769.1,271.7 768.6,270.8 768.1,269.0 767.6,267.6 767.1,268.8 766.6,266.9 766.1,266.6 765.6,265.4 765.1,263.4 764.6,263.7 764.1,264.1 763.6,263.4 763.1,259.4 762.6,258.3 762.1,258.5 761.6,257.7 761.1,256.2 760.6,254.9 760.1,253.7 759.6,252.0 759.1,248.8 758.6,247.7 758.1,247.7 757.6,245.0 757.1,244.0 756.6,244.7 756.1,246.3 755.6,246.7 755.1,244.8 754.6,243.9 754.1,242.5 753.6,242.8 753.1,242.1 752.6,239.5 752.1,240.0 751.6,239.4 751.1,237.4 750.6,236.2 750.1,235.5 749.6,236.3 749.1,233.6 748.6,228.1 748.1,226.1 747.6,226.3 747.1,227.3 746.6,227.9 746.1,228.5 745.6,228.0 745.1,226.5 744.6,225.1 744.1,222.5 743.6,220.4 743.1,220.6 742.6,219.1 742.1,216.6 741.6,214.4 741.1,214.3 740.6,217.6 740.1,218.3 739.6,217.5 739.1,214.5 738.6,210.7 738.1,206.0 737.6,201.5 737.1,201.8 736.6,202.4 736.1,200.1 735.6,199.9 735.1,200.9 734.6,200.7 734.1,200.2 733.6,197.4 733.1,196.4 732.6,197.1 732.1,197.0 731.6,196.0 731.1,195.5 730.6,196.2 730.1,195.8 729.6,194.8 729.1,195.2 728.6,190.7 728.1,187.0 727.6,189.2 727.1,189.8 726.6,188.0 726.1,185.6 725.6,184.2 725.1,184.8 724.6,185.5 724.1,184.4 723.6,183.2 723.1,182.9 722.6,183.1 722.1,186.8 721.6,187.4 721.1,185.0 720.6,184.4 720.1,182.8 719.6,183.7 719.1,183.7 718.6,183.1 718.1,183.0 717.6,182.0 717.1,177.3 716.6,176.0 716.1,178.8 715.6,177.9 715.1,181.6 714.6,182.8 714.1,181.4 713.6,182.6 713.1,179.4 712.6,177.8 712.1,180.6 711.6,178.5 711.1,176.5 710.6,175.9 710.1,175.5 709.6,178.2 709.1,180.1 708.6,179.3 708.1,179.4 707.6,179.4 707.1,174.1 706.6,170.5 706.1,170.2 705.6,171.5 705.1,173.0 704.6,170.7 704.1,167.5 703.6,169.2 703.1,170.9 702.6,170.9 702.1,171.5 701.6,170.1 701.1,170.0 700.6,170.8 700.1,171.4 699.6,172.1 699.1,172.0 698.6,169.6 698.1,167.3 697.6,168.9 697.1,168.9 696.6,169.5 696.1,171.7 695.6,170.2 695.1,166.7 694.6,166.7 694.1,168.8 693.6,167.5 693.1,167.1 692.6,167.9 692.1,166.9 691.6,168.4 691.1,171.9 690.6,172.7 690.1,172.1 689.6,171.6 689.1,171.3 688.6,169.8 688.1,169.0 687.6,173.4 687.1,173.3 686.6,168.5 686.1,166.9 685.6,164.8 685.1,160.3 684.6,161.3 684.1,167.0 683.6,170.2 683.1,169.6 682.6,165.9 682.1,165.9 681.6,166.7 681.1,163.7 680.6,165.4 680.1,167.6 679.6,165.2 679.1,163.1 678.6,160.8 678.1,164.4 677.6,167.5 677.1,163.8 676.6,164.4 676.1,165.5 675.6,163.4 675.1,161.6 674.6,157.6 674.1,157.9 673.6,160.5 673.1,159.9 672.6,159.9 672.1,158.0 671.6,157.0 671.1,160.3 670.6,160.0 670.1,157.7 669.6,158.4 669.1,158.4 668.6,157.7 668.1,158.7 667.6,158.3 667.1,158.4 666.6,157.1 666.1,156.0 665.6,156.0 665.1,153.0 664.6,155.5 664.1,157.3 663.6,156.2 663.1,156.1 662.6,155.7 662.1,155.3 661.6,155.0 661.1,154.6 660.6,155.2 660.1,158.6 659.6,160.9 659.1,159.2 658.6,159.3 658.1,160.3 657.6,158.7 657.1,157.3 656.6,155.6 656.1,157.6 655.6,159.7 655.1,157.0 654.6,155.2 654.1,153.2 653.6,150.3 653.1,150.6 652.6,151.5 652.1,154.5 651.6,155.5 651.1,154.3 650.6,155.2 650.1,154.7 649.6,152.1 649.1,150.2 648.6,152.9 648.1,152.1 647.6,150.7 647.1,149.7 646.6,149.9 646.1,154.7 645.6,156.2 645.1,156.6 644.6,153.6 644.1,148.5 643.6,147.7 643.1,145.8 642.6,144.6 642.1,145.2 641.6,144.5 641.1,145.3 640.6,146.1 640.1,146.9 639.6,148.4 639.1,145.3 638.6,142.6 638.1,143.3 637.6,145.3 637.1,146.3 636.6,144.4 636.1,146.8 635.6,149.0 635.1,147.9 634.6,144.9 634.1,142.1 633.6,142.5 633.1,143.6 632.6,141.2 632.1,140.5 631.6,142.7 631.1,141.2 630.6,140.9 630.1,142.8 629.6,141.7 629.1,141.1 628.6,143.3 628.1,146.9 627.6,148.9 627.1,147.4 626.6,144.2 626.1,141.3 625.6,141.6 625.1,141.8 624.6,142.8 624.1,145.1 623.6,143.3 623.1,140.6 622.6,138.1 622.1,136.6 621.6,137.6 621.1,136.4 620.6,137.0 620.1,139.1 619.6,141.3 619.1,141.5 618.6,138.7 618.1,139.3 617.6,141.3 617.1,141.4 616.6,141.6 616.1,146.8 615.6,150.4 615.1,152.4 614.6,156.0 614.1,158.8 613.6,162.7 613.1,164.9 612.6,162.4 612.1,159.9 611.6,161.1 611.1,164.7 610.6,166.5 610.1,169.7 609.6,174.5 609.1,177.0 608.6,178.7 608.1,179.9 607.6,182.9 607.1,184.8 606.6,186.7 606.1,190.5 605.6,194.4 605.1,197.4 604.6,200.4 604.1,202.5 603.6,202.3 603.1,203.2 602.6,206.4 602.1,209.5 601.6,209.4 601.1,210.9 600.6,215.8 600.1,216.7 599.6,215.6 599.1,216.7 598.6,222.5 598.1,227.7 597.6,230.1 597.1,233.0 596.6,237.4 596.1,240.8 595.6,241.4 595.1,246.2 594.6,251.2 594.1,250.5 593.6,249.8 593.1,253.8 592.6,256.6 592.1,255.3 591.6,256.2 591.1,258.8 590.6,259.8 590.1,261.9 589.6,267.3 589.1,272.4 588.6,274.7 588.1,278.8 587.6,283.3 587.1,283.8 586.6,285.9 586.1,288.3 585.6,290.0 585.1,293.1 584.6,296.2 584.1,297.8 583.6,303.1 583.1,308.8 582.6,309.9 582.1,313.7 581.6,313.9 581.1,313.3 580.6,316.3 580.1,318.1 579.6,319.7 579.1,320.0 578.6,322.4 578.1,326.2 577.6,329.0 577.1,332.5 576.6,335.2 576.1,339.2 575.6,343.2 575.1,345.1 574.6,348.2 574.1,351.5 573.6,354.9 573.1,357.6 572.6,357.6 572.1,361.8 571.6,365.2 571.1,365.0 570.6,368.8 570.1,372.9 569.6,374.9 569.1,375.7 568.6,377.7 568.1,381.1 567.6,382.9 567.1,386.7 566.6,391.6 566.1,393.9 565.6,398.5 565.1,402.2 564.6,402.6 564.1,403.7 563.6,405.1 563.1,406.9 562.6,406.8 562.1,406.4 561.6,406.8 561.1,408.1 560.6,410.1 560.1,408.6 559.6,407.4 559.1,408.8 558.6,410.7 558.1,413.3 557.6,414.8 557.1,417.2 556.6,423.4 556.1,423.6 555.6,420.6 555.1,422.8 554.6,425.5 554.1,424.4 553.6,424.0 553.1,427.0 552.6,427.0 552.1,431.1 551.6,436.3 551.1,436.3 550.6,437.0 550.1,434.9 549.6,433.3 549.1,430.8 548.6,431.5 548.1,436.7 547.6,437.7 547.1,439.6 546.6,440.2 546.1,440.8 545.6,442.4 545.1,444.0 544.6,447.4 544.1,449.1 543.6,451.2 543.1,454.8 542.6,455.3 542.1,457.0 541.6,458.5 541.1,457.4 540.6,458.1 540.1,459.8 539.6,459.2 539.1,458.4 538.6,459.6 538.1,461.1 537.6,460.2 537.1,457.8 536.6,457.2 536.1,458.7 535.6,461.7 535.1,463.4 534.6,462.7 534.1,462.5 533.6,463.2 533.1,464.7 532.6,466.7 532.1,466.6 531.6,465.9 531.1,465.2 530.6,465.7 530.1,465.7 529.6,461.8 529.1,460.5 528.6,459.4 528.1,456.8 527.6,458.5 527.1,459.9 526.6,460.2 526.1,461.5 525.6,464.0 525.1,465.8 524.6,462.1 524.1,461.0 523.6,463.0 523.1,460.8 522.6,458.6 522.1,458.4 521.6,459.6 521.1,459.7 520.6,461.9 520.1,465.9 519.6,467.2 519.1,466.3 518.6,462.7 518.1,459.9 517.6,458.9 517.1,458.9 516.6,455.3 516.1,452.9 515.6,453.9 515.1,454.5 514.6,455.5 514.1,456.0 513.6,457.4 513.1,456.6 512.6,457.7 512.1,458.7 511.6,457.6 511.1,460.2 510.6,463.0 510.1,460.8 509.6,458.7 509.1,459.0 508.6,458.5 508.1,456.7 507.6,455.7 507.1,456.5 506.6,456.0 506.1,454.2 505.6,455.1 505.1,456.6 504.6,454.8 504.1,454.2 503.6,455.7 503.1,456.1 502.6,457.1 502.1,458.9 501.6,459.5 501.1,461.6 500.6,463.4 500.1,460.8 499.6,460.4 499.1,460.4 498.6,461.9 498.1,463.0 497.6,461.6 497.1,457.8 496.6,454.0 496.1,453.6 495.6,455.0 495.1,457.0 494.6,456.8 494.1,455.7 493.6,455.0 493.1,458.0 492.6,456.6 492.1,455.3 491.6,457.2 491.1,456.9 490.6,456.4 490.1,454.6 489.6,455.5 489.1,458.3 488.6,461.1 488.1,460.3 487.6,458.3 487.1,457.4 486.6,452.5 486.1,450.5 485.6,452.2 485.1,452.1 484.6,452.6 484.1,452.7 483.6,451.5 483.1,451.9 482.6,450.6 482.1,450.4 481.6,450.8 481.1,452.0 480.6,453.9 480.1,451.6 479.6,452.0 479.1,453.1 478.6,449.7 478.1,451.2 477.6,451.3 477.1,448.6 476.6,449.6 476.1,449.7 475.6,450.8 475.1,450.6 474.6,448.2 474.1,447.4 473.6,448.5 473.1,449.4 472.6,449.2 472.1,451.8 471.6,454.9 471.1,454.2 470.6,455.9 470.1,456.5 469.6,454.0 469.1,455.4 468.6,457.2 468.1,455.5 467.6,453.6 467.1,453.8 466.6,452.4 466.1,449.5 465.6,446.8 465.1,446.5 464.6,447.5 464.1,448.9 463.6,448.4 463.1,449.2 462.6,451.3 462.1,449.7 461.6,450.0 461.1,450.0 460.6,447.9 460.1,448.8 459.6,450.9 459.1,449.4 458.6,446.4 458.1,446.5 457.6,447.9 457.1,451.8 456.6,455.0 456.1,452.8 455.6,450.0 455.1,447.3 454.6,444.1 454.1,442.0 453.6,442.6 453.1,445.8 452.6,445.1 452.1,443.3 451.6,444.9 451.1,443.6 450.6,443.9 450.1,445.7 449.6,446.7 449.1,445.3 448.6,445.3 448.1,447.8 447.6,447.1 447.1,447.6 446.6,446.6 446.1,443.9 445.6,443.5 445.1,443.1 444.6,442.6 444.1,444.9 443.6,444.0 443.1,441.8 442.6,441.1 442.1,441.4 441.6,444.2 441.1,443.5 440.6,443.3 440.1,445.0 439.6,446.5 439.1,447.3 438.6,447.6 438.1,446.8 437.6,447.4 437.1,448.4 436.6,447.3 436.1,447.8 435.6,448.7 435.1,447.6 434.6,445.1 434.1,442.3 433.6,440.8 433.1,441.7 432.6,444.1 432.1,446.8 431.6,447.3 431.1,447.4 430.6,447.3 430.1,443.9 429.6,444.0 429.1,447.5 428.6,447.6 428.1,444.7 427.6,444.2 427.1,444.1 426.6,443.8 426.1,445.5 425.6,448.2 425.1,449.7 424.6,447.0 424.1,444.8 423.6,442.7 423.1,441.0 422.6,440.3 422.1,440.2 421.6,441.9 421.1,441.9 420.6,442.5 420.1,443.9 419.6,442.5 419.1,442.0 418.6,442.1 418.1,441.9 417.6,444.4 417.1,444.8 416.6,445.9 416.1,446.3 415.6,444.0 415.1,444.5 414.6,441.7 414.1,440.2 413.6,444.5 413.1,444.9 412.6,444.5 412.1,443.3 411.6,440.9 411.1,441.2 410.6,442.1 410.1,444.9 409.6,443.1 409.1,440.2 408.6,443.2 408.1,448.2 407.6,449.0 407.1,448.8 406.6,450.0 406.1,447.4 405.6,445.3 405.1,443.0 404.6,443.4 404.1,444.4 403.6,443.6 403.1,441.9 402.6,438.8 402.1,438.8 401.6,437.5 401.1,435.5 400.6,439.3 400.1,441.6 399.6,441.3 399.1,440.1 398.6,438.2 398.1,438.6 397.6,438.4 397.1,437.9 396.6,436.8 396.1,435.6 395.6,436.4 395.1,435.9 394.6,435.1 394.1,437.9 393.6,438.4 393.1,436.2 392.6,433.8 392.1,431.3 391.6,428.8 391.1,428.0 390.6,428.8 390.1,428.4 389.6,428.1 389.1,429.3 388.6,428.5 388.1,426.8 387.6,427.2 387.1,425.4 386.6,425.3 386.1,429.2 385.6,429.5 385.1,427.4 384.6,428.9 384.1,428.9 383.6,425.8 383.1,425.4 382.6,425.7 382.1,424.8 381.6,423.3 381.1,421.9 380.6,420.6 380.1,417.4 379.6,418.6 379.1,422.4 378.6,422.0 378.1,421.0 377.6,421.8 377.1,423.8 376.6,424.5 376.1,424.3 375.6,424.3 375.1,424.8 374.6,425.0 374.1,422.4 373.6,420.3 373.1,423.8 372.6,423.1 372.1,419.7 371.6,417.7 371.1,413.3 370.6,412.3 370.1,414.1 369.6,415.5 369.1,416.8 368.6,416.1 368.1,414.7 367.6,413.7 367.1,412.4 366.6,413.8 366.1,412.7 365.6,411.1 365.1,412.8 364.6,412.6 364.1,409.7 363.6,410.2 363.1,413.3 362.6,412.6 362.1,411.8 361.6,410.4 361.1,404.9 360.6,397.9 360.1,397.0 359.6,400.0 359.1,399.8 358.6,402.2 358.1,403.8 357.6,401.8 357.1,401.3 356.6,400.2 356.1,400.7 355.6,401.9 355.1,403.0 354.6,402.1 354.1,400.4 353.6,402.2 353.1,402.5 352.6,401.9 352.1,401.9 351.6,399.9 351.1,400.8 350.6,402.1 350.1,401.8 349.6,403.4 349.1,404.1 348.6,402.7 348.1,401.0 347.6,402.0 347.1,403.6 346.6,406.9 346.1,407.8 345.6,406.9 345.1,409.9 344.6,411.3 344.1,411.9 343.6,411.6 343.1,408.0 342.6,410.0 342.1,411.4 341.6,410.0 341.1,412.3 340.6,411.2 340.1,410.3 339.6,408.2 339.1,405.7 338.6,407.5 338.1,409.6 337.6,411.0 337.1,409.5 336.6,409.6 336.1,413.7 335.6,413.8 335.1,412.8 334.6,412.6 334.1,410.9 333.6,411.3 333.1,412.0 332.6,412.8 332.1,415.0 331.6,417.9 331.1,417.6 330.6,417.9 330.1,419.6 329.6,415.5 329.1,409.7 328.6,409.9 328.1,411.2 327.6,408.9 327.1,412.6 326.6,416.5 326.1,415.7 325.6,414.8 325.1,414.9 324.6,417.8 324.1,419.1 323.6,420.2 323.1,421.1 322.6,422.6 322.1,422.9 321.6,423.5 321.1,422.4 320.6,421.9 320.1,423.4 319.6,422.1 319.1,422.5 318.6,423.0 318.1,424.2 317.6,426.4 317.1,424.3 316.6,426.1 316.1,429.1 315.6,427.7 315.1,428.0 314.6,429.1 314.1,430.7 313.6,434.2 313.1,439.1 312.6,439.1 312.1,437.3 311.6,437.0 311.1,438.5 310.6,439.9 310.1,439.9 309.6,439.8 309.1,439.1 308.6,438.9 308.1,435.4 307.6,434.8 307.1,436.5 306.6,436.3 306.1,439.7 305.6,442.6 305.1,442.5 304.6,443.3 304.1,445.1 303.6,445.1 303.1,445.3 302.6,444.9 302.1,443.8 301.6,445.1 301.1,445.4 300.6,445.2 300.1,449.6 299.6,453.4 299.1,451.7 298.6,447.7 298.1,446.5 297.6,445.4 297.1,445.2 296.6,446.2 296.1,445.6 295.6,446.2 295.1,448.8 294.6,451.8 294.1,450.8 293.6,449.3 293.1,450.6 292.6,452.2 292.1,454.5 291.6,455.9 291.1,455.3 290.6,456.8 290.1,459.9 289.6,461.0 289.1,460.6 288.6,457.8 288.1,455.2 287.6,458.8 287.1,460.5 286.6,460.0 286.1,462.5 285.6,463.7 285.1,462.3 284.6,461.9 284.1,462.6 283.6,463.3 283.1,465.5 282.6,467.4 282.1,470.6 281.6,472.8 281.1,474.6 280.6,477.3 280.1,476.1 279.6,474.9 279.1,476.2 278.6,479.7 278.1,479.4 277.6,477.0 277.1,474.7 276.6,473.5 276.1,473.9 275.6,473.0 275.1,473.2 274.6,477.6 274.1,481.9 273.6,479.7 273.1,477.2 272.6,478.8 272.1,481.1 271.6,480.2 271.1,477.1 270.6,476.9 270.1,477.5 269.6,477.8 269.1,480.4 268.6,483.0 268.1,484.8 267.6,482.7 267.1,479.0 266.6,477.2 266.1,475.6 265.6,476.1 265.1,478.4 264.6,476.8 264.1,476.4 263.6,477.5 263.1,475.8 262.6,478.2 262.1,479.4 261.6,478.8 261.1,481.2 260.6,486.0 260.1,487.2 259.6,483.7 259.1,482.3 258.6,483.0 258.1,483.7 257.6,483.5 257.1,484.2 256.6,483.1 256.1,483.7 255.6,483.3 255.1,483.5 254.6,484.1 254.1,484.0 253.6,486.5 253.1,485.9 252.6,483.6 252.1,483.4 251.6,485.6 251.1,489.3 250.6,491.4 250.1,492.0 249.6,491.7 249.1,491.1 248.6,490.4 248.1,489.8 247.6,490.9 247.1,490.3 246.6,489.3 246.1,490.4 245.6,488.3 245.1,486.2 244.6,488.1 244.1,486.7 243.6,486.7 243.1,492.1 242.6,493.2 242.1,489.6 241.6,491.2 241.1,492.5 240.6,491.7 240.1,492.7 239.6,491.0 239.1,489.6 238.6,489.3 238.1,490.1 237.6,492.7 237.1,494.1 236.6,494.6 236.1,495.8 235.6,494.6 235.1,490.8 234.6,488.9 234.1,485.1 233.6,484.1 233.1,486.5 232.6,487.9 232.1,487.6 231.6,486.4 231.1,487.3 230.6,489.6 230.1,488.6 229.6,486.3 229.1,486.2 228.6,488.9 228.1,491.7 227.6,491.1 227.1,491.1 226.6,489.3 226.1,488.2 225.6,489.8 225.1,490.8 224.6,492.7 224.1,492.5 223.6,491.2 223.1,491.9 222.6,489.8 222.1,489.5 221.6,490.7 221.1,489.9 220.6,493.1 220.1,494.5 219.6,494.5 219.1,496.9 218.6,497.1 218.1,497.1 217.6,495.6 217.1,496.1 216.6,497.7 216.1,499.7 215.6,500.1 215.1,498.2 214.6,497.5 214.1,496.1 213.6,491.8 213.1,489.6 212.6,494.1 212.1,497.1 211.6,496.8 211.1,496.1 210.6,496.3 210.1,496.3 209.6,496.5 209.1,494.5 208.6,492.4 208.1,495.1 207.6,495.5 207.1,496.2 206.6,498.0 206.1,496.8 205.6,498.7 205.1,501.3 204.6,499.8 204.1,495.0 203.6,492.7 203.1,491.5 202.6,490.3 202.1,492.2 201.6,491.8 201.1,488.7 200.6,489.5 200.1,491.8 199.6,492.2 199.1,495.0 198.6,495.6 198.1,495.1 197.6,495.8 197.1,495.5 196.6,495.2 196.1,496.6 195.6,498.3 195.1,494.4 194.6,492.5 194.1,493.9 193.6,495.4 193.1,494.1 192.6,492.9 192.1,495.1 191.6,497.2 191.1,496.2 190.6,494.8 190.1,493.2 189.6,491.9 189.1,494.5 188.6,498.4 188.1,500.2 187.6,502.2 187.1,505.2 186.6,503.0 186.1,499.1 185.6,499.0 185.1,500.1 184.6,499.2 184.1,500.7 183.6,501.9 183.1,498.4 182.6,494.0 182.1,493.5 181.6,495.9 181.1,497.7 180.6,500.2 180.1,500.9 179.6,497.0 179.1,497.9 178.6,500.3 178.1,498.4 177.6,497.9 177.1,497.2 176.6,495.8 176.1,496.7 175.6,495.2 175.1,496.2 174.6,499.9 174.1,501.2 173.6,502.5 173.1,502.7 172.6,500.5 172.1,495.7 171.6,492.8 171.1,491.3 170.6,490.3 170.1,492.9 169.6,493.4 169.1,492.6 168.6,494.4 168.1,495.4 167.6,495.6 167.1,496.7 166.6,496.1 166.1,495.8 165.6,496.1 165.1,497.7 164.6,500.7 164.1,502.5 163.6,501.4 163.1,497.1 162.6,495.4 162.1,496.1 161.6,496.8 161.1,496.6 160.6,498.3 160.1,496.8 159.6,494.5 159.1,496.9 158.6,497.9 158.1,497.7 157.6,501.5 157.1,503.2 156.6,502.1 156.1,505.3 155.6,506.8 155.1,506.7 154.6,508.5 154.1,507.6 153.6,505.7 153.1,505.2 152.6,505.3 152.1,504.3 151.6,504.7 151.1,505.0 150.6,500.7 150.1,501.2 149.6,501.9 149.1,501.7 148.6,506.0 148.1,508.6 147.6,506.5 147.1,504.4 146.6,505.0 146.1,505.4 145.6,505.2 145.1,502.6 144.6,502.9 144.1,505.6 143.6,507.2 143.1,508.0 142.6,507.6 142.1,507.0 141.6,507.2 141.1,507.3 140.6,503.1 140.1,499.1 139.6,500.0 139.1,500.9 138.6,502.3 138.1,504.1 137.6,504.1 137.1,503.4 136.6,504.1 136.1,503.9 135.6,505.0 135.1,507.2 134.6,507.1 134.1,507.3 133.6,505.6 133.1,506.8 132.6,509.6 132.1,508.9 131.6,506.5 131.1,506.1 130.6,506.6 130.1,507.5 129.6,510.2 129.1,509.0 128.6,507.7 128.1,507.2 127.6,507.2 127.1,507.6 126.6,509.4 126.1,512.7 125.6,513.3 125.1,515.0 124.6,518.1 124.1,517.9 123.6,516.3 123.1,517.9 122.6,517.4 122.1,516.6 121.6,518.7 121.1,519.3 120.6,519.0Z" fill="#0072B2" fill-opacity="0.2" stroke="#0072B2" stroke-opacity="0.25" stroke-width="1.5" stroke-linejoin="round"/>
<g stroke="#808080" stroke-opacity="0.2" stroke-width="1.15" fill="none"><path d="M79.5,493.50H985.5"/><path d="M79.5,417.50H985.5"/><path d="M79.5,340.50H985.5"/><path d="M79.5,264.50H985.5"/><path d="M79.5,187.50H985.5"/><path d="M79.5,111.50H985.5"/><path d="M79.5,34.50H985.5"/><path d="M152.50,15.5V542.5"/><path d="M278.50,15.5V542.5"/><path d="M404.50,15.5V542.5"/><path d="M530.50,15.5V542.5"/><path d="M656.50,15.5V542.5"/><path d="M781.50,15.5V542.5"/><path d="M907.50,15.5V542.5"/></g>
<path d="M121.0,493.7h0M121.1,493.2h0M121.2,491.6h0M121.4,492.6h0M121.5,492.9h0M121.6,494.4h0M121.8,492.9h0M121.9,495.1h0M122.0,494.5h0M122.1,493.1h0M122.2,492.9h0M122.4,491.0h0M122.5,492.1h0M122.6,493.3h0M122.8,492.0h0M122.9,492.6h0M123.0,491.1h0M123.1,493.2h0M123.2,490.7h0M123.4,492.4h0M123.5,493.0h0M123.6,492.2h0M123.8,492.7h0M123.9,495.0h0M124.0,497.0h0M124.1,495.0h0M124.2,494.9h0M124.4,494.8h0M124.5,494.4h0M124.6,496.5h0M124.8,494.3h0M124.9,494.2h0M125.0,494.8h0M125.1,495.7h0M125.2,494.3h0M125.4,492.1h0M125.5,495.2h0M125.6,491.6h0M125.8,493.8h0M125.9,493.0h0M126.0,490.7h0M126.1,492.6h0M126.2,490.7h0M126.4,491.3h0M126.5,492.5h0M126.6,494.0h0M126.8,491.9h0M126.9,491.9h0M127.0,495.3h0M127.1,494.6h0M127.2,494.6h0M127.4,494.1h0M127.5,495.1h0M127.6,496.0h0M127.8,495.9h0M127.9,496.1h0M128.0,494.8h0M128.1,495.5h0M128.2,494.2h0M128.4,494.9h0M128.5,494.0h0M128.6,493.0h0M128.8,491.8h0M128.9,492.2h0M129.0,493.2h0M129.1,493.2h0M129.2,492.4h0M129.4,493.8h0M129.5,493.9h0M129.6,495.0h0M129.8,496.1h0M129.9,495.1h0M130.0,496.3h0M130.1,495.8h0M130.2,494.1h0M130.4,496.4h0M130.5,495.4h0M130.6,495.3h0M130.8,494.6h0M130.9,496.2h0M131.0,494.3h0M131.1,495.6h0M131.2,494.2h0M131.4,494.6h0M131.5,495.7h0M131.6,493.7h0M131.8,494.4h0M131.9,494.2h0M132.0,493.8h0M132.1,493.5h0M132.2,495.7h0M132.4,494.2h0M132.5,494.6h0M132.6,495.8h0M132.8,494.4h0M132.9,495.8h0M133.0,496.2h0M133.1,495.6h0M133.2,495.6h0M133.4,493.5h0M133.5,492.6h0M133.6,493.9h0M133.8,492.4h0M133.9,495.3h0M134.0,493.6h0M134.1,494.6h0M134.2,495.2h0M134.4,494.2h0M134.5,493.0h0M134.6,493.8h0M134.8,490.5h0M134.9,489.0h0M135.0,488.5h0M135.1,491.0h0M135.2,491.1h0M135.4,490.0h0M135.5,491.0h0M135.6,489.1h0M135.8,488.7h0M135.9,486.2h0M136.0,487.4h0M136.1,483.8h0M136.2,482.0h0M136.4,482.2h0M136.5,484.3h0M136.6,487.7h0M136.8,489.1h0M136.9,483.3h0M137.0,483.2h0M137.1,481.8h0M137.2,479.0h0M137.4,476.3h0M137.5,476.3h0M137.6,475.5h0M137.8,474.8h0M137.9,476.2h0M138.0,472.6h0M138.1,474.1h0M138.2,471.6h0M138.4,472.3h0M138.5,472.4h0M138.6,471.4h0M138.8,469.5h0M138.9,468.6h0M139.0,473.3h0M139.1,476.9h0M139.2,475.1h0M139.4,473.9h0M139.5,470.4h0M139.6,472.5h0M139.8,472.2h0M139.9,476.7h0M140.0,476.3h0M140.1,475.7h0M140.2,475.9h0M140.4,477.3h0M140.5,476.7h0M140.6,476.7h0M140.8,476.2h0M140.9,472.7h0M141.0,475.3h0M141.1,472.5h0M141.2,469.0h0M141.4,470.5h0M141.5,471.6h0M141.6,472.2h0M141.8,466.8h0M141.9,468.1h0M142.0,464.9h0M142.1,465.1h0M142.2,461.5h0M142.4,461.8h0M142.5,462.6h0M142.6,460.2h0M142.8,459.9h0M142.9,460.8h0M143.0,463.5h0M143.1,464.4h0M143.2,462.6h0M143.4,462.0h0M143.5,462.0h0M143.6,461.1h0M143.8,463.0h0M143.9,462.5h0M144.0,464.2h0M144.1,465.4h0M144.2,463.3h0M144.4,462.8h0M144.5,461.4h0M144.6,459.9h0M144.8,461.7h0M144.9,459.0h0M145.0,460.3h0M145.1,459.5h0M145.2,461.5h0M145.4,459.8h0M145.5,459.2h0M145.6,462.3h0M145.8,460.9h0M145.9,461.0h0M146.0,469.0h0M146.1,468.5h0M146.2,466.9h0M146.4,469.6h0M146.5,469.6h0M146.6,465.5h0M146.8,466.8h0M146.9,464.2h0M147.0,463.9h0M147.1,465.3h0M147.2,464.5h0M147.4,463.2h0M147.5,459.6h0M147.6,457.4h0M147.8,458.7h0M147.9,456.7h0M148.0,458.6h0M148.1,456.3h0M148.2,456.4h0M148.4,453.5h0M148.5,457.0h0M148.6,456.7h0M148.8,454.9h0M148.9,457.4h0M149.0,456.0h0M149.1,454.9h0M149.2,455.5h0M149.4,455.0h0M149.5,455.5h0M149.6,456.1h0M149.8,455.3h0M149.9,455.9h0M150.0,459.4h0M150.1,457.0h0M150.2,459.3h0M150.4,458.1h0M150.5,458.7h0M150.6,454.9h0M150.8,455.9h0M150.9,455.8h0M151.0,454.8h0M151.1,457.6h0M151.2,455.5h0M151.4,456.0h0M151.5,456.9h0M151.6,455.4h0M151.8,454.4h0M151.9,457.0h0M152.0,455.0h0M152.1,454.1h0M152.2,457.4h0M152.4,458.0h0M152.5,461.3h0M152.6,460.6h0M152.8,461.7h0M152.9,461.6h0M153.0,460.2h0M153.1,462.6h0M153.2,457.6h0M153.4,455.7h0M153.5,457.7h0M153.6,456.1h0M153.8,461.0h0M153.9,462.2h0M154.0,461.3h0M154.1,458.5h0M154.2,459.5h0M154.4,455.9h0M154.5,457.1h0M154.6,457.5h0M154.8,460.0h0M154.9,454.1h0M155.0,458.4h0M155.1,459.9h0M155.2,464.1h0M155.4,463.2h0M155.5,466.8h0M155.6,461.4h0M155.8,459.9h0M155.9,459.4h0M156.0,457.1h0M156.1,459.1h0M156.2,455.9h0M156.4,458.4h0M156.5,454.2h0M156.6,454.7h0M156.8,460.6h0M156.9,461.1h0M157.0,458.1h0M157.1,459.2h0M157.2,458.4h0M157.4,459.7h0M157.5,457.5h0M157.6,458.8h0M157.8,456.0h0M157.9,455.0h0M158.0,455.0h0M158.1,455.2h0M158.2,458.6h0M158.4,460.6h0M158.5,460.1h0M158.6,455.6h0M158.8,459.5h0M158.9,456.6h0M159.0,458.7h0M159.1,457.7h0M159.2,456.1h0M159.4,455.9h0M159.5,457.8h0M159.6,456.7h0M159.8,454.9h0M159.9,459.9h0M160.0,459.2h0M160.1,465.4h0M160.2,466.5h0M160.4,463.5h0M160.5,464.3h0M160.6,460.8h0M160.8,463.1h0M160.9,455.8h0M161.0,459.6h0M161.1,459.8h0M161.2,462.8h0M161.4,458.9h0M161.5,465.6h0M161.6,461.8h0M161.8,463.2h0M161.9,456.9h0M162.0,456.9h0M162.1,458.5h0M162.2,457.0h0M162.4,457.5h0M162.5,458.3h0M162.6,455.8h0M162.8,460.1h0M162.9,458.8h0M163.0,456.5h0M163.1,455.7h0M163.2,457.2h0M163.4,457.0h0M163.5,459.4h0M163.6,460.3h0M163.8,460.5h0M163.9,460.3h0M164.0,461.7h0M164.1,467.0h0M164.2,464.2h0M164.4,458.6h0M164.5,459.8h0M164.6,458.4h0M164.8,461.0h0M164.9,463.9h0M165.0,461.0h0M165.1,459.2h0M165.2,455.3h0M165.4,457.4h0M165.5,457.9h0M165.6,457.1h0M165.8,458.6h0M165.9,461.1h0M166.0,457.6h0M166.1,461.0h0M166.2,457.1h0M166.4,464.1h0M166.5,464.8h0M166.6,464.1h0M166.8,458.0h0M166.9,461.8h0M167.0,465.2h0M167.1,462.3h0M167.2,462.6h0M167.4,460.6h0M167.5,463.7h0M167.6,465.7h0M167.8,460.1h0M167.9,456.0h0M168.0,457.9h0M168.1,457.7h0M168.2,460.3h0M168.4,459.7h0M168.5,461.0h0M168.6,463.3h0M168.8,464.2h0M168.9,468.4h0M169.0,465.1h0M169.1,461.0h0M169.2,460.4h0M169.4,456.9h0M169.5,456.5h0M169.6,457.9h0M169.8,458.7h0M169.9,461.6h0M170.0,455.6h0M170.1,458.8h0M170.2,461.6h0M170.4,467.5h0M170.5,467.1h0M170.6,467.1h0M170.8,467.7h0M170.9,467.7h0M171.0,463.0h0M171.1,462.9h0M171.2,464.4h0M171.4,464.0h0M171.5,465.0h0M171.6,465.1h0M171.8,468.6h0M171.9,461.4h0M172.0,464.4h0M172.1,467.5h0M172.2,466.2h0M172.4,467.4h0M172.5,466.4h0M172.6,466.2h0M172.8,465.7h0M172.9,460.4h0M173.0,460.7h0M173.1,461.2h0M173.2,459.6h0M173.4,459.5h0M173.5,459.1h0M173.6,465.2h0M173.8,464.6h0M173.9,464.7h0M174.0,469.0h0M174.1,469.5h0M174.2,469.4h0M174.4,469.6h0M174.5,466.9h0M174.6,462.4h0M174.8,464.2h0M174.9,459.3h0M175.0,459.6h0M175.1,461.0h0M175.2,461.3h0M175.4,462.7h0M175.5,462.7h0M175.6,465.4h0M175.8,466.2h0M175.9,466.1h0M176.0,463.9h0M176.1,463.1h0M176.2,467.0h0M176.4,464.9h0M176.5,468.6h0M176.6,472.5h0M176.8,471.1h0M176.9,469.0h0M177.0,470.9h0M177.1,472.7h0M177.2,472.0h0M177.4,470.1h0M177.5,469.5h0M177.6,472.5h0M177.8,472.2h0M177.9,472.7h0M178.0,476.9h0M178.1,475.0h0M178.2,473.4h0M178.4,475.4h0M178.5,475.1h0M178.6,477.8h0M178.8,480.1h0M178.9,477.5h0M179.0,473.9h0M179.1,475.4h0M179.2,479.7h0M179.4,477.3h0M179.5,475.2h0M179.6,473.8h0M179.8,474.2h0M179.9,475.1h0M180.0,474.4h0M180.1,477.3h0M180.2,480.8h0M180.4,473.4h0M180.5,474.2h0M180.6,475.0h0M180.8,476.1h0M180.9,477.1h0M181.0,474.1h0M181.1,474.1h0M181.2,473.6h0M181.4,476.2h0M181.5,480.3h0M181.6,474.5h0M181.8,476.1h0M181.9,478.0h0M182.0,477.1h0M182.1,477.6h0M182.2,481.6h0M182.4,483.7h0M182.5,481.0h0M182.6,481.0h0M182.8,479.7h0M182.9,477.7h0M183.0,476.6h0M183.1,477.2h0M183.2,478.4h0M183.4,482.2h0M183.5,477.3h0M183.6,481.3h0M183.8,479.8h0M183.9,479.9h0M184.0,474.1h0M184.1,475.8h0M184.2,477.4h0M184.4,474.8h0M184.5,473.1h0M184.6,471.7h0M184.8,479.7h0M184.9,478.6h0M185.0,477.7h0M185.1,479.5h0M185.2,475.4h0M185.4,471.0h0M185.5,478.4h0M185.6,477.6h0M185.8,479.2h0M185.9,479.2h0M186.0,476.3h0M186.1,470.1h0M186.2,471.9h0M186.4,468.4h0M186.5,468.9h0M186.6,469.1h0M186.8,474.4h0M186.9,468.2h0M187.0,468.2h0M187.1,473.6h0M187.2,472.4h0M187.4,468.5h0M187.5,468.5h0M187.6,468.4h0M187.8,468.6h0M187.9,469.4h0M188.0,469.1h0M188.1,468.5h0M188.2,468.5h0M188.4,468.1h0M188.5,466.2h0M188.6,468.1h0M188.8,468.1h0M188.9,468.4h0M189.0,469.7h0M189.1,472.1h0M189.2,472.8h0M189.4,472.3h0M189.5,472.0h0M189.6,468.5h0M189.8,469.8h0M189.9,469.7h0M190.0,470.6h0M190.1,471.5h0M190.2,468.4h0M190.4,468.2h0M190.5,466.8h0M190.6,468.5h0M190.8,466.0h0M190.9,466.6h0M191.0,468.8h0M191.1,471.9h0M191.2,475.2h0M191.4,474.2h0M191.5,473.5h0M191.6,471.6h0M191.8,471.4h0M191.9,473.3h0M192.0,472.9h0M192.1,469.5h0M192.2,468.4h0M192.4,468.6h0M192.5,469.7h0M192.6,470.8h0M192.8,470.2h0M192.9,467.7h0M193.0,467.5h0M193.1,468.4h0M193.2,468.2h0M193.4,465.8h0M193.5,468.2h0M193.6,466.6h0M193.8,467.5h0M193.9,466.8h0M194.0,465.0h0M194.1,465.6h0M194.2,467.2h0M194.4,468.7h0M194.5,466.7h0M194.6,468.0h0M194.8,466.1h0M194.9,468.2h0M195.0,467.1h0M195.1,465.0h0M195.2,467.0h0M195.4,468.0h0M195.5,466.2h0M195.6,466.5h0M195.8,469.3h0M195.9,470.0h0M196.0,470.8h0M196.1,471.2h0M196.2,472.0h0M196.4,472.2h0M196.5,471.4h0M196.6,470.7h0M196.8,469.3h0M196.9,472.2h0M197.0,470.8h0M197.1,471.1h0M197.2,470.0h0M197.4,468.7h0M197.5,465.7h0M197.6,465.9h0M197.8,468.1h0M197.9,469.6h0M198.0,468.2h0M198.1,464.8h0M198.2,466.5h0M198.4,467.0h0M198.5,469.7h0M198.6,469.1h0M198.8,470.3h0M198.9,470.3h0M199.0,468.3h0M199.1,467.7h0M199.2,466.5h0M199.4,468.6h0M199.5,467.0h0M199.6,467.4h0M199.8,469.3h0M199.9,469.3h0M200.0,468.8h0M200.1,469.0h0M200.2,470.8h0M200.4,474.1h0M200.5,473.8h0M200.6,474.9h0M200.8,474.4h0M200.9,474.2h0M201.0,474.9h0M201.1,474.4h0M201.2,470.7h0M201.4,469.1h0M201.5,467.8h0M201.6,468.1h0M201.8,469.9h0M201.9,469.8h0M202.0,472.7h0M202.1,477.4h0M202.2,475.9h0M202.4,479.2h0M202.5,477.3h0M202.6,478.7h0M202.8,478.5h0M202.9,471.6h0M203.0,475.2h0M203.1,469.8h0M203.2,475.6h0M203.4,474.6h0M203.5,477.4h0M203.6,479.8h0M203.8,476.8h0M203.9,473.3h0M204.0,472.3h0M204.1,474.6h0M204.2,477.5h0M204.4,479.9h0M204.5,479.1h0M204.6,479.2h0M204.8,477.8h0M204.9,478.5h0M205.0,474.7h0M205.1,472.3h0M205.2,473.7h0M205.4,471.4h0M205.5,474.3h0M205.6,480.2h0M205.8,480.2h0M205.9,478.9h0M206.0,478.0h0M206.1,478.2h0M206.2,475.2h0M206.4,476.1h0M206.5,480.8h0M206.6,481.5h0M206.8,477.7h0M206.9,474.4h0M207.0,473.8h0M207.1,474.8h0M207.2,474.1h0M207.4,477.0h0M207.5,476.9h0M207.6,475.1h0M207.8,476.8h0M207.9,477.3h0M208.0,477.1h0M208.1,476.7h0M208.2,475.3h0M208.4,477.0h0M208.5,474.6h0M208.6,470.9h0M208.8,471.0h0M208.9,468.6h0M209.0,466.6h0M209.1,466.2h0M209.2,467.3h0M209.4,471.4h0M209.5,469.1h0M209.6,467.1h0M209.8,472.0h0M209.9,469.2h0M210.0,471.9h0M210.1,467.1h0M210.2,465.1h0M210.4,466.3h0M210.5,464.3h0M210.6,464.6h0M210.8,467.0h0M210.9,466.8h0M211.0,465.4h0M211.1,468.7h0M211.2,471.0h0M211.4,468.2h0M211.5,465.4h0M211.6,465.0h0M211.8,462.6h0M211.9,463.9h0M212.0,465.4h0M212.1,464.3h0M212.2,464.6h0M212.4,464.1h0M212.5,464.0h0M212.6,464.9h0M212.8,466.7h0M212.9,469.3h0M213.0,467.5h0M213.1,468.1h0M213.2,465.4h0M213.4,463.9h0M213.5,466.1h0M213.6,466.3h0M213.8,467.2h0M213.9,466.7h0M214.0,462.7h0M214.1,463.4h0M214.2,462.8h0M214.4,462.6h0M214.5,460.8h0M214.6,464.5h0M214.8,464.6h0M214.9,462.1h0M215.0,465.0h0M215.1,465.3h0M215.2,464.3h0M215.4,464.5h0M215.5,463.0h0M215.6,464.9h0M215.8,464.1h0M215.9,465.4h0M216.0,465.9h0M216.1,466.2h0M216.2,463.1h0M216.4,470.5h0M216.5,470.0h0M216.6,471.9h0M216.8,466.6h0M216.9,473.5h0M217.0,469.5h0M217.1,474.0h0M217.2,474.8h0M217.4,473.5h0M217.5,475.0h0M217.6,471.4h0M217.8,476.8h0M217.9,473.0h0M218.0,474.0h0M218.1,468.4h0M218.2,471.3h0M218.4,467.9h0M218.5,472.8h0M218.6,473.9h0M218.8,475.1h0M218.9,474.0h0M219.0,475.1h0M219.1,478.8h0M219.2,477.0h0M219.4,472.8h0M219.5,476.6h0M219.6,470.0h0M219.8,474.0h0M219.9,470.7h0M220.0,470.7h0M220.1,474.4h0M220.2,478.5h0M220.4,473.7h0M220.5,473.2h0M220.6,475.7h0M220.8,477.2h0M220.9,470.5h0M221.0,471.7h0M221.1,471.6h0M221.2,475.8h0M221.4,473.4h0M221.5,477.4h0M221.6,477.7h0M221.8,475.4h0M221.9,477.5h0M222.0,477.5h0M222.1,475.3h0M222.2,474.3h0M222.4,472.3h0M222.5,469.1h0M222.6,468.5h0M222.8,468.7h0M222.9,466.8h0M223.0,470.4h0M223.1,469.5h0M223.2,471.9h0M223.4,474.3h0M223.5,474.9h0M223.6,475.0h0M223.8,473.2h0M223.9,475.1h0M224.0,474.4h0M224.1,474.0h0M224.2,470.8h0M224.4,471.2h0M224.5,471.9h0M224.6,474.4h0M224.8,470.5h0M224.9,469.3h0M225.0,470.9h0M225.1,474.7h0M225.2,472.7h0M225.4,473.6h0M225.5,469.8h0M225.6,470.1h0M225.8,470.2h0M225.9,470.6h0M226.0,471.4h0M226.1,471.0h0M226.2,471.8h0M226.4,470.6h0M226.5,470.0h0M226.6,469.9h0M226.8,472.2h0M226.9,468.9h0M227.0,470.1h0M227.1,466.3h0M227.2,465.8h0M227.4,466.4h0M227.5,464.2h0M227.6,462.8h0M227.8,462.9h0M227.9,460.2h0M228.0,464.1h0M228.1,468.4h0M228.2,470.6h0M228.4,462.8h0M228.5,467.2h0M228.6,465.7h0M228.8,463.3h0M228.9,466.9h0M229.0,468.2h0M229.1,464.7h0M229.2,465.5h0M229.4,463.9h0M229.5,461.6h0M229.6,461.8h0M229.8,463.3h0M229.9,461.2h0M230.0,463.4h0M230.1,462.7h0M230.2,467.2h0M230.4,465.3h0M230.5,467.1h0M230.6,463.6h0M230.8,466.4h0M230.9,464.9h0M231.0,465.9h0M231.1,465.4h0M231.2,464.5h0M231.4,459.7h0M231.5,459.0h0M231.6,460.8h0M231.8,460.2h0M231.9,464.0h0M232.0,463.8h0M232.1,464.0h0M232.2,464.5h0M232.4,464.7h0M232.5,463.7h0M232.6,461.7h0M232.8,461.6h0M232.9,463.1h0M233.0,460.7h0M233.1,459.9h0M233.2,460.2h0M233.4,459.4h0M233.5,460.7h0M233.6,463.0h0M233.8,462.3h0M233.9,464.2h0M234.0,465.4h0M234.1,465.8h0M234.2,466.0h0M234.4,463.4h0M234.5,464.7h0M234.6,464.8h0M234.8,460.0h0M234.9,460.9h0M235.0,459.0h0M235.1,458.3h0M235.2,458.4h0M235.4,457.5h0M235.5,458.1h0M235.6,458.7h0M235.8,459.7h0M235.9,458.2h0M236.0,459.8h0M236.1,459.6h0M236.2,458.0h0M236.4,462.8h0M236.5,463.3h0M236.6,464.5h0M236.8,460.9h0M236.9,462.9h0M237.0,462.6h0M237.1,464.3h0M237.2,465.9h0M237.4,466.1h0M237.5,464.5h0M237.6,460.1h0M237.8,462.0h0M237.9,466.2h0M238.0,467.4h0M238.1,466.7h0M238.2,466.4h0M238.4,464.5h0M238.5,465.0h0M238.6,462.5h0M238.8,465.5h0M238.9,463.2h0M239.0,462.1h0M239.1,463.0h0M239.2,462.7h0M239.4,461.1h0M239.5,462.7h0M239.6,464.6h0M239.8,466.0h0M239.9,465.8h0M240.0,465.1h0M240.1,466.3h0M240.2,467.5h0M240.4,465.9h0M240.5,468.5h0M240.6,468.0h0M240.8,469.1h0M240.9,467.5h0M241.0,463.0h0M241.1,464.7h0M241.2,464.8h0M241.4,464.6h0M241.5,468.7h0M241.6,468.0h0M241.8,468.3h0M241.9,468.8h0M242.0,464.8h0M242.1,465.7h0M242.2,465.5h0M242.4,467.2h0M242.5,466.9h0M242.6,465.3h0M242.8,467.0h0M242.9,462.3h0M243.0,463.8h0M243.1,464.4h0M243.2,465.9h0M243.4,464.7h0M243.5,466.5h0M243.6,465.9h0M243.8,464.7h0M243.9,463.3h0M244.0,461.8h0M244.1,464.6h0M244.2,466.8h0M244.4,464.6h0M244.5,466.5h0M244.6,461.8h0M244.8,463.2h0M244.9,461.8h0M245.0,458.9h0M245.1,460.3h0M245.2,462.0h0M245.4,461.7h0M245.5,459.8h0M245.6,460.7h0M245.8,462.4h0M245.9,460.1h0M246.0,463.1h0M246.1,459.8h0M246.2,461.4h0M246.4,460.5h0M246.5,459.9h0M246.6,461.7h0M246.8,460.8h0M246.9,464.2h0M247.0,461.8h0M247.1,460.7h0M247.2,462.5h0M247.4,462.8h0M247.5,460.3h0M247.6,461.4h0M247.8,461.9h0M247.9,460.6h0M248.0,461.2h0M248.1,461.3h0M248.2,459.8h0M248.4,458.3h0M248.5,457.5h0M248.6,458.8h0M248.8,459.6h0M248.9,457.9h0M249.0,457.2h0M249.1,456.3h0M249.2,458.3h0M249.4,457.6h0M249.5,459.7h0M249.6,460.2h0M249.8,460.1h0M249.9,459.2h0M250.0,457.9h0M250.1,456.7h0M250.2,455.0h0M250.4,453.4h0M250.5,452.7h0M250.6,453.6h0M250.8,453.0h0M250.9,451.9h0M251.0,454.5h0M251.1,454.4h0M251.2,456.6h0M251.4,455.1h0M251.5,455.5h0M251.6,455.7h0M251.8,453.5h0M251.9,451.1h0M252.0,449.4h0M252.1,449.6h0M252.2,448.3h0M252.4,450.8h0M252.5,452.1h0M252.6,451.9h0M252.8,451.3h0M252.9,453.9h0M253.0,453.3h0M253.1,456.2h0M253.2,451.6h0M253.4,451.5h0M253.5,450.8h0M253.6,451.1h0M253.8,449.8h0M253.9,451.9h0M254.0,453.7h0M254.1,451.8h0M254.2,454.9h0M254.4,453.7h0M254.5,455.3h0M254.6,459.1h0M254.8,456.5h0M254.9,455.2h0M255.0,454.3h0M255.1,452.5h0M255.2,456.3h0M255.4,455.4h0M255.5,456.1h0M255.6,455.2h0M255.8,458.7h0M255.9,459.5h0M256.0,461.6h0M256.1,460.4h0M256.2,459.4h0M256.4,462.1h0M256.5,461.3h0M256.6,457.7h0M256.8,456.0h0M256.9,457.9h0M257.0,456.6h0M257.1,460.1h0M257.2,457.1h0M257.4,458.7h0M257.5,461.0h0M257.6,463.0h0M257.8,462.7h0M257.9,464.0h0M258.0,462.3h0M258.1,461.5h0M258.2,462.2h0M258.4,461.7h0M258.5,462.8h0M258.6,461.8h0M258.8,462.6h0M258.9,462.3h0M259.0,460.2h0M259.1,455.9h0M259.2,457.5h0M259.4,458.7h0M259.5,458.8h0M259.6,458.6h0M259.8,456.1h0M259.9,454.0h0M260.0,456.6h0M260.1,457.0h0M260.2,455.0h0M260.4,454.2h0M260.5,459.7h0M260.6,457.1h0M260.8,458.0h0M260.9,455.4h0M261.0,459.9h0M261.1,454.9h0M261.2,454.1h0M261.4,454.6h0M261.5,452.1h0M261.6,452.9h0M261.8,452.0h0M261.9,450.6h0M262.0,450.4h0M262.1,452.9h0M262.2,450.6h0M262.4,451.3h0M262.5,452.9h0M262.6,450.3h0M262.8,451.2h0M262.9,450.7h0M263.0,450.5h0M263.1,451.0h0M263.2,453.0h0M263.4,453.0h0M263.5,454.8h0M263.6,451.3h0M263.8,452.4h0M263.9,452.5h0M264.0,450.7h0M264.1,452.3h0M264.2,453.3h0M264.4,453.3h0M264.5,452.9h0M264.6,451.5h0M264.8,449.3h0M264.9,451.7h0M265.0,450.1h0M265.1,449.9h0M265.2,452.6h0M265.4,451.2h0M265.5,455.0h0M265.6,453.4h0M265.8,454.4h0M265.9,455.9h0M266.0,455.9h0M266.1,453.6h0M266.2,456.8h0M266.4,457.2h0M266.5,454.8h0M266.6,452.3h0M266.8,453.8h0M266.9,456.2h0M267.0,457.0h0M267.1,459.9h0M267.2,458.5h0M267.4,460.4h0M267.5,456.3h0M267.6,459.5h0M267.8,460.7h0M267.9,459.4h0M268.0,455.6h0M268.1,453.7h0M268.2,456.0h0M268.4,454.0h0M268.5,454.2h0M268.6,457.2h0M268.8,456.3h0M268.9,456.5h0M269.0,458.7h0M269.1,461.0h0M269.2,462.4h0M269.4,461.2h0M269.5,461.7h0M269.6,462.7h0M269.8,460.5h0M269.9,464.4h0M270.0,461.9h0M270.1,462.7h0M270.2,456.4h0M270.4,456.2h0M270.5,456.2h0M270.6,455.7h0M270.8,455.7h0M270.9,461.0h0M271.0,460.3h0M271.1,464.1h0M271.2,457.0h0M271.4,460.0h0M271.5,459.9h0M271.6,457.7h0M271.8,455.5h0M271.9,456.9h0M272.0,459.8h0M272.1,460.0h0M272.2,460.5h0M272.4,463.9h0M272.5,462.9h0M272.6,463.8h0M272.8,462.8h0M272.9,463.7h0M273.0,464.8h0M273.1,461.9h0M273.2,457.9h0M273.4,457.9h0M273.5,457.0h0M273.6,455.3h0M273.8,456.1h0M273.9,457.5h0M274.0,459.5h0M274.1,455.8h0M274.2,455.5h0M274.4,456.7h0M274.5,455.0h0M274.6,463.1h0M274.8,463.7h0M274.9,461.5h0M275.0,462.2h0M275.1,463.1h0M275.2,455.9h0M275.4,458.9h0M275.5,458.6h0M275.6,455.4h0M275.8,455.0h0M275.9,454.6h0M276.0,457.0h0M276.1,454.5h0M276.2,463.1h0M276.4,463.1h0M276.5,458.4h0M276.6,452.8h0M276.8,454.0h0M276.9,455.2h0M277.0,453.9h0M277.1,452.8h0M277.2,457.0h0M277.4,459.6h0M277.5,456.9h0M277.6,456.5h0M277.8,454.9h0M277.9,453.6h0M278.0,462.8h0M278.1,461.4h0M278.2,460.9h0M278.4,459.2h0M278.5,462.2h0M278.6,461.9h0M278.8,460.8h0M278.9,455.5h0M279.0,455.7h0M279.1,458.0h0M279.2,456.2h0M279.4,458.5h0M279.5,460.3h0M279.6,460.0h0M279.8,454.8h0M279.9,455.6h0M280.0,453.2h0M280.1,453.3h0M280.2,455.3h0M280.4,458.1h0M280.5,455.8h0M280.6,457.7h0M280.8,456.1h0M280.9,456.1h0M281.0,450.8h0M281.1,451.4h0M281.2,452.9h0M281.4,447.8h0M281.5,451.5h0M281.6,451.8h0M281.8,449.5h0M281.9,449.2h0M282.0,449.4h0M282.1,451.4h0M282.2,451.0h0M282.4,454.1h0M282.5,453.5h0M282.6,452.7h0M282.8,454.1h0M282.9,453.3h0M283.0,449.6h0M283.1,451.4h0M283.2,450.1h0M283.4,450.6h0M283.5,451.2h0M283.6,449.0h0M283.8,449.5h0M283.9,449.0h0M284.0,444.1h0M284.1,440.2h0M284.2,428.7h0M284.4,429.1h0M284.5,421.1h0M284.6,422.4h0M284.8,420.5h0M284.9,417.1h0M285.0,415.4h0M285.1,415.0h0M285.2,412.8h0M285.4,411.3h0M285.5,411.7h0M285.6,412.8h0M285.8,415.4h0M285.9,414.0h0M286.0,416.1h0M286.1,417.5h0M286.2,417.4h0M286.4,419.5h0M286.5,424.6h0M286.6,424.9h0M286.8,431.2h0M286.9,435.7h0M287.0,441.9h0M287.1,444.8h0M287.2,442.7h0M287.4,442.4h0M287.5,444.8h0M287.6,444.0h0M287.8,444.3h0M287.9,445.4h0M288.0,440.7h0M288.1,443.1h0M288.2,442.4h0M288.4,439.7h0M288.5,436.4h0M288.6,439.8h0M288.8,437.9h0M288.9,442.7h0M289.0,441.1h0M289.1,441.4h0M289.2,442.0h0M289.4,439.9h0M289.5,437.9h0M289.6,437.6h0M289.8,436.8h0M289.9,442.4h0M290.0,440.1h0M290.1,442.2h0M290.2,441.5h0M290.4,442.2h0M290.5,441.9h0M290.6,437.6h0M290.8,442.3h0M290.9,439.9h0M291.0,442.0h0M291.1,440.5h0M291.2,438.3h0M291.4,442.5h0M291.5,440.0h0M291.6,440.0h0M291.8,434.2h0M291.9,432.1h0M292.0,431.5h0M292.1,431.2h0M292.2,434.3h0M292.4,433.1h0M292.5,433.7h0M292.6,432.4h0M292.8,431.4h0M292.9,433.3h0M293.0,433.6h0M293.1,433.5h0M293.2,434.7h0M293.4,435.0h0M293.5,434.1h0M293.6,430.1h0M293.8,434.0h0M293.9,433.9h0M294.0,434.6h0M294.1,434.4h0M294.2,432.3h0M294.4,433.8h0M294.5,436.2h0M294.6,432.1h0M294.8,429.2h0M294.9,428.3h0M295.0,433.9h0M295.1,430.5h0M295.2,433.3h0M295.4,437.1h0M295.5,438.1h0M295.6,437.4h0M295.8,438.0h0M295.9,434.4h0M296.0,433.8h0M296.1,435.0h0M296.2,430.3h0M296.4,429.2h0M296.5,428.5h0M296.6,430.3h0M296.8,427.4h0M296.9,431.5h0M297.0,433.0h0M297.1,430.0h0M297.2,430.0h0M297.4,430.9h0M297.5,433.8h0M297.6,431.9h0M297.8,428.0h0M297.9,431.2h0M298.0,432.6h0M298.1,433.0h0M298.2,430.4h0M298.4,431.1h0M298.5,428.4h0M298.6,430.5h0M298.8,430.7h0M298.9,431.7h0M299.0,426.6h0M299.1,427.0h0M299.2,423.1h0M299.4,419.6h0M299.5,421.9h0M299.6,423.4h0M299.8,423.6h0M299.9,421.0h0M300.0,423.5h0M300.1,419.6h0M300.2,418.5h0M300.4,416.8h0M300.5,418.0h0M300.6,418.6h0M300.8,419.2h0M300.9,415.2h0M301.0,413.9h0M301.1,413.0h0M301.2,412.6h0M301.4,410.7h0M301.5,413.2h0M301.6,411.6h0M301.8,410.5h0M301.9,413.7h0M302.0,413.1h0M302.1,409.2h0M302.2,410.5h0M302.4,415.1h0M302.5,415.9h0M302.6,414.1h0M302.8,415.9h0M302.9,416.2h0M303.0,413.6h0M303.1,411.5h0M303.2,405.6h0M303.4,402.6h0M303.5,399.9h0M303.6,398.6h0M303.8,393.9h0M303.9,388.6h0M304.0,389.2h0M304.1,392.5h0M304.2,390.3h0M304.4,387.3h0M304.5,388.6h0M304.6,389.0h0M304.8,388.3h0M304.9,392.3h0M305.0,390.8h0M305.1,391.1h0M305.2,386.8h0M305.4,384.5h0M305.5,382.9h0M305.6,387.7h0M305.8,383.8h0M305.9,387.4h0M306.0,381.4h0M306.1,379.3h0M306.2,379.1h0M306.4,379.6h0M306.5,380.5h0M306.6,381.8h0M306.8,383.4h0M306.9,383.8h0M307.0,381.3h0M307.1,385.5h0M307.2,382.7h0M307.4,384.8h0M307.5,383.4h0M307.6,384.6h0M307.8,391.5h0M307.9,390.3h0M308.0,386.0h0M308.1,383.9h0M308.2,383.6h0M308.4,384.8h0M308.5,384.3h0M308.6,385.8h0M308.8,388.8h0M308.9,388.1h0M309.0,387.1h0M309.1,386.5h0M309.2,384.5h0M309.4,379.3h0M309.5,380.5h0M309.6,379.7h0M309.8,380.3h0M309.9,380.1h0M310.0,377.8h0M310.1,378.2h0M310.2,376.2h0M310.4,376.7h0M310.5,377.2h0M310.6,377.3h0M310.8,379.4h0M310.9,376.1h0M311.0,375.6h0M311.1,379.6h0M311.2,380.9h0M311.4,381.1h0M311.5,377.6h0M311.6,377.4h0M311.8,377.3h0M311.9,377.9h0M312.0,376.6h0M312.1,375.4h0M312.2,378.5h0M312.4,379.8h0M312.5,382.2h0M312.6,385.8h0M312.8,386.7h0M312.9,388.6h0M313.0,389.0h0M313.1,386.4h0M313.2,385.5h0M313.4,384.7h0M313.5,383.6h0M313.6,378.7h0M313.8,384.3h0M313.9,387.1h0M314.0,392.3h0M314.1,392.2h0M314.2,393.7h0M314.4,395.5h0M314.5,399.8h0M314.6,401.9h0M314.8,402.6h0M314.9,409.4h0M315.0,411.9h0M315.1,409.7h0M315.2,409.5h0M315.4,408.2h0M315.5,407.8h0M315.6,402.0h0M315.8,399.9h0M315.9,398.1h0M316.0,395.9h0M316.1,393.6h0M316.2,391.1h0M316.4,388.6h0M316.5,387.0h0M316.6,386.2h0M316.8,382.5h0M316.9,381.7h0M317.0,381.3h0M317.1,381.2h0M317.2,382.3h0M317.4,386.3h0M317.5,379.6h0M317.6,384.8h0M317.8,389.7h0M317.9,386.9h0M318.0,386.2h0M318.1,388.9h0M318.2,395.1h0M318.4,399.0h0M318.5,399.3h0M318.6,400.2h0M318.8,397.6h0M318.9,399.8h0M319.0,398.3h0M319.1,388.5h0M319.2,381.7h0M319.4,383.5h0M319.5,380.4h0M319.6,380.5h0M319.8,381.2h0M319.9,386.9h0M320.0,386.8h0M320.1,389.1h0M320.2,393.5h0M320.4,390.8h0M320.5,386.6h0M320.6,390.1h0M320.8,384.9h0M320.9,380.6h0M321.0,383.3h0M321.1,385.9h0M321.2,389.0h0M321.4,392.2h0M321.5,394.8h0M321.6,392.5h0M321.8,392.1h0M321.9,390.5h0M322.0,390.7h0M322.1,391.1h0M322.2,387.7h0M322.4,388.5h0M322.5,391.3h0M322.6,393.6h0M322.8,392.1h0M322.9,393.9h0M323.0,394.7h0M323.1,387.0h0M323.2,392.1h0M323.4,395.4h0M323.5,393.4h0M323.6,393.3h0M323.8,393.4h0M323.9,395.0h0M324.0,395.4h0M324.1,395.7h0M324.2,396.2h0M324.4,392.9h0M324.5,393.0h0M324.6,392.7h0M324.8,398.2h0M324.9,395.7h0M325.0,397.2h0M325.1,397.2h0M325.2,398.6h0M325.4,398.1h0M325.5,398.8h0M325.6,398.4h0M325.8,399.4h0M325.9,396.6h0M326.0,395.7h0M326.1,399.4h0M326.2,399.1h0M326.4,397.1h0M326.5,399.0h0M326.6,399.3h0M326.8,398.2h0M326.9,398.8h0M327.0,395.5h0M327.1,395.5h0M327.2,395.2h0M327.4,396.4h0M327.5,400.4h0M327.6,395.9h0M327.8,394.3h0M327.9,393.3h0M328.0,395.3h0M328.1,391.5h0M328.2,396.3h0M328.4,391.1h0M328.5,393.2h0M328.6,395.4h0M328.8,397.3h0M328.9,397.2h0M329.0,395.6h0M329.1,394.4h0M329.2,396.3h0M329.4,393.5h0M329.5,398.3h0M329.6,395.0h0M329.8,394.1h0M329.9,392.0h0M330.0,392.3h0M330.1,390.4h0M330.2,392.6h0M330.4,391.7h0M330.5,391.2h0M330.6,392.4h0M330.8,393.2h0M330.9,394.6h0M331.0,395.5h0M331.1,393.7h0M331.2,392.2h0M331.4,393.2h0M331.5,395.8h0M331.6,398.3h0M331.8,398.5h0M331.9,399.0h0M332.0,397.9h0M332.1,398.4h0M332.2,398.2h0M332.4,395.7h0M332.5,393.2h0M332.6,393.3h0M332.8,390.6h0M332.9,398.8h0M333.0,397.6h0M333.1,396.3h0M333.2,395.6h0M333.4,396.0h0M333.5,395.4h0M333.6,395.5h0M333.8,393.3h0M333.9,392.4h0M334.0,390.1h0M334.1,388.2h0M334.2,388.3h0M334.4,385.9h0M334.5,386.7h0M334.6,385.7h0M334.8,383.1h0M334.9,383.3h0M335.0,380.6h0M335.1,381.4h0M335.2,381.2h0M335.4,379.1h0M335.5,378.6h0M335.6,377.9h0M335.8,375.6h0M335.9,374.3h0M336.0,374.2h0M336.1,376.6h0M336.2,379.4h0M336.4,382.9h0M336.5,387.5h0M336.6,390.9h0M336.8,393.8h0M336.9,399.0h0M337.0,398.7h0M337.1,400.4h0M337.2,398.0h0M337.4,397.7h0M337.5,396.3h0M337.6,395.2h0M337.8,393.8h0M337.9,393.4h0M338.0,391.1h0M338.1,388.2h0M338.2,387.7h0M338.4,385.7h0M338.5,382.2h0M338.6,382.9h0M338.8,379.6h0M338.9,379.6h0M339.0,379.9h0M339.1,379.2h0M339.2,377.7h0M339.4,373.5h0M339.5,371.2h0M339.6,369.6h0M339.8,368.9h0M339.9,366.8h0M340.0,362.3h0M340.1,362.4h0M340.2,362.8h0M340.4,366.5h0M340.5,368.2h0M340.6,366.7h0M340.8,368.3h0M340.9,372.3h0M341.0,373.7h0M341.1,371.4h0M341.2,368.7h0M341.4,365.2h0M341.5,362.7h0M341.6,362.1h0M341.8,360.7h0M341.9,361.2h0M342.0,362.4h0M342.1,355.5h0M342.2,355.0h0M342.4,352.4h0M342.5,350.2h0M342.6,347.5h0M342.8,342.0h0M342.9,344.3h0M343.0,344.4h0M343.1,343.6h0M343.2,344.4h0M343.4,345.2h0M343.5,348.8h0M343.6,353.2h0M343.8,352.9h0M343.9,355.7h0M344.0,356.5h0M344.1,358.2h0M344.2,359.7h0M344.4,357.3h0M344.5,359.0h0M344.6,356.2h0M344.8,349.2h0M344.9,339.7h0M345.0,343.0h0M345.1,343.3h0M345.2,344.5h0M345.4,341.9h0M345.5,342.7h0M345.6,340.4h0M345.8,345.7h0M345.9,343.6h0M346.0,342.1h0M346.1,339.9h0M346.2,341.8h0M346.4,343.4h0M346.5,339.8h0M346.6,340.3h0M346.8,341.0h0M346.9,339.8h0M347.0,339.4h0M347.1,342.1h0M347.2,344.0h0M347.4,347.9h0M347.5,350.8h0M347.6,354.3h0M347.8,355.4h0M347.9,356.9h0M348.0,352.3h0M348.1,351.3h0M348.2,356.1h0M348.4,348.6h0M348.5,349.1h0M348.6,349.6h0M348.8,343.3h0M348.9,344.5h0M349.0,340.9h0M349.1,339.9h0M349.2,343.1h0M349.4,342.1h0M349.5,348.8h0M349.6,347.2h0M349.8,342.0h0M349.9,343.7h0M350.0,349.4h0M350.1,347.1h0M350.2,350.6h0M350.4,351.8h0M350.5,348.8h0M350.6,343.0h0M350.8,341.1h0M350.9,340.0h0M351.0,342.2h0M351.1,344.0h0M351.2,342.4h0M351.4,340.8h0M351.5,342.0h0M351.6,342.0h0M351.8,340.7h0M351.9,340.9h0M352.0,346.5h0M352.1,341.8h0M352.2,344.4h0M352.4,341.8h0M352.5,344.2h0M352.6,343.1h0M352.8,342.4h0M352.9,343.9h0M353.0,341.5h0M353.1,342.7h0M353.2,340.9h0M353.4,342.2h0M353.5,345.1h0M353.6,346.9h0M353.8,346.7h0M353.9,346.9h0M354.0,349.5h0M354.1,353.6h0M354.2,354.6h0M354.4,361.8h0M354.5,362.4h0M354.6,361.1h0M354.8,363.0h0M354.9,365.8h0M355.0,373.9h0M355.1,372.0h0M355.2,371.6h0M355.4,370.3h0M355.5,368.8h0M355.6,369.8h0M355.8,372.6h0M355.9,371.5h0M356.0,369.2h0M356.1,371.0h0M356.2,369.9h0M356.4,373.2h0M356.5,373.3h0M356.6,374.0h0M356.8,373.2h0M356.9,370.1h0M357.0,374.1h0M357.1,374.1h0M357.2,375.4h0M357.4,371.9h0M357.5,371.0h0M357.6,370.6h0M357.8,370.8h0M357.9,367.1h0M358.0,366.0h0M358.1,368.2h0M358.2,368.0h0M358.4,374.4h0M358.5,373.9h0M358.6,374.6h0M358.8,378.4h0M358.9,379.4h0M359.0,382.2h0M359.1,389.3h0M359.2,387.8h0M359.4,389.5h0M359.5,390.6h0M359.6,388.0h0M359.8,388.3h0M359.9,388.8h0M360.0,387.9h0M360.1,389.9h0M360.2,389.0h0M360.4,385.5h0M360.5,389.0h0M360.6,396.3h0M360.8,389.7h0M360.9,394.0h0M361.0,401.2h0M361.1,397.3h0M361.2,393.2h0M361.4,396.0h0M361.5,390.5h0M361.6,384.5h0M361.8,383.6h0M361.9,384.2h0M362.0,386.3h0M362.1,383.7h0M362.2,385.7h0M362.4,385.9h0M362.5,384.2h0M362.6,385.7h0M362.8,386.1h0M362.9,385.2h0M363.0,387.1h0M363.1,382.4h0M363.2,382.5h0M363.4,383.7h0M363.5,385.2h0M363.6,386.0h0M363.8,386.3h0M363.9,385.7h0M364.0,387.0h0M364.1,384.9h0M364.2,384.5h0M364.4,386.9h0M364.5,393.6h0M364.6,392.7h0M364.8,393.3h0M364.9,398.4h0M365.0,401.8h0M365.1,394.4h0M365.2,393.6h0M365.4,393.2h0M365.5,391.1h0M365.6,390.2h0M365.8,386.1h0M365.9,383.9h0M366.0,378.8h0M366.1,372.2h0M366.2,370.9h0M366.4,371.3h0M366.5,369.3h0M366.6,365.5h0M366.8,361.8h0M366.9,360.5h0M367.0,359.3h0M367.1,361.1h0M367.2,363.8h0M367.4,364.7h0M367.5,365.6h0M367.6,367.0h0M367.8,367.9h0M367.9,369.0h0M368.0,371.1h0M368.1,374.1h0M368.2,377.6h0M368.4,381.3h0M368.5,386.1h0M368.6,391.0h0M368.8,390.4h0M368.9,393.0h0M369.0,393.4h0M369.1,393.8h0M369.2,393.9h0M369.4,396.5h0M369.5,392.6h0M369.6,392.2h0M369.8,391.3h0M369.9,387.3h0M370.0,385.2h0M370.1,382.9h0M370.2,383.2h0M370.4,384.0h0M370.5,384.4h0M370.6,387.7h0M370.8,386.7h0M370.9,389.0h0M371.0,390.9h0M371.1,390.6h0M371.2,390.5h0M371.4,391.9h0M371.5,395.4h0M371.6,396.4h0M371.8,396.7h0M371.9,397.1h0M372.0,397.0h0M372.1,399.4h0M372.2,400.0h0M372.4,403.3h0M372.5,402.3h0M372.6,403.0h0M372.8,404.0h0M372.9,406.8h0M373.0,407.5h0M373.1,408.9h0M373.2,408.1h0M373.4,406.8h0M373.5,405.3h0M373.6,405.1h0M373.8,404.9h0M373.9,401.9h0M374.0,399.2h0M374.1,398.4h0M374.2,396.9h0M374.4,400.0h0M374.5,397.6h0M374.6,393.9h0M374.8,394.3h0M374.9,392.8h0M375.0,393.8h0M375.1,392.2h0M375.2,389.8h0M375.4,388.1h0M375.5,389.7h0M375.6,390.1h0M375.8,389.2h0M375.9,389.8h0M376.0,392.3h0M376.1,393.4h0M376.2,391.9h0M376.4,393.3h0M376.5,395.0h0M376.6,395.1h0M376.8,397.2h0M376.9,398.7h0M377.0,397.8h0M377.1,403.0h0M377.2,403.7h0M377.4,404.7h0M377.5,404.1h0M377.6,399.5h0M377.8,399.2h0M377.9,394.1h0M378.0,389.6h0M378.1,393.8h0M378.2,390.4h0M378.4,385.4h0M378.5,384.2h0M378.6,383.5h0M378.8,383.6h0M378.9,377.7h0M379.0,373.1h0M379.1,373.3h0M379.2,371.3h0M379.4,370.5h0M379.5,367.4h0M379.6,370.3h0M379.8,370.1h0M379.9,371.2h0M380.0,375.1h0M380.1,378.5h0M380.2,379.7h0M380.4,382.5h0M380.5,383.4h0M380.6,385.8h0M380.8,388.9h0M380.9,392.9h0M381.0,391.5h0M381.1,392.2h0M381.2,396.2h0M381.4,398.1h0M381.5,397.2h0M381.6,394.8h0M381.8,394.6h0M381.9,394.7h0M382.0,393.0h0M382.1,392.4h0M382.2,390.0h0M382.4,389.4h0M382.5,390.1h0M382.6,388.7h0M382.8,390.1h0M382.9,389.1h0M383.0,387.2h0M383.1,383.8h0M383.2,382.0h0M383.4,382.6h0M383.5,381.5h0M383.6,383.8h0M383.8,389.3h0M383.9,392.0h0M384.0,393.1h0M384.1,393.8h0M384.2,394.4h0M384.4,393.7h0M384.5,395.6h0M384.6,397.4h0M384.8,397.1h0M384.9,398.1h0M385.0,400.3h0M385.1,398.8h0M385.2,402.4h0M385.4,405.9h0M385.5,407.2h0M385.6,406.4h0M385.8,405.6h0M385.9,402.9h0M386.0,404.0h0M386.1,401.1h0M386.2,398.9h0M386.4,396.7h0M386.5,394.0h0M386.6,392.6h0M386.8,389.3h0M386.9,390.2h0M387.0,385.2h0M387.1,381.6h0M387.2,381.4h0M387.4,379.7h0M387.5,380.7h0M387.6,383.3h0M387.8,386.6h0M387.9,385.9h0M388.0,385.9h0M388.1,390.0h0M388.2,391.2h0M388.4,394.2h0M388.5,397.1h0M388.6,396.4h0M388.8,399.3h0M388.9,400.4h0M389.0,402.4h0M389.1,402.4h0M389.2,404.5h0M389.4,406.2h0M389.5,407.1h0M389.6,405.3h0M389.8,404.7h0M389.9,401.3h0M390.0,399.2h0M390.1,396.2h0M390.2,397.2h0M390.4,393.7h0M390.5,391.9h0M390.6,387.8h0M390.8,383.3h0M390.9,383.2h0M391.0,379.4h0M391.1,374.9h0M391.2,372.7h0M391.4,372.7h0M391.5,369.9h0M391.6,373.3h0M391.8,373.7h0M391.9,378.6h0M392.0,382.5h0M392.1,382.3h0M392.2,382.4h0M392.4,387.4h0M392.5,388.5h0M392.6,392.2h0M392.8,398.8h0M392.9,400.2h0M393.0,398.4h0M393.1,396.6h0M393.2,395.7h0M393.4,395.3h0M393.5,389.8h0M393.6,387.1h0M393.8,385.7h0M393.9,381.8h0M394.0,381.7h0M394.1,383.2h0M394.2,380.4h0M394.4,383.6h0M394.5,388.8h0M394.6,393.2h0M394.8,399.5h0M394.9,406.3h0M395.0,408.7h0M395.1,414.7h0M395.2,421.0h0M395.4,421.9h0M395.5,423.6h0M395.6,430.8h0M395.8,433.3h0M395.9,433.9h0M396.0,424.9h0M396.1,423.0h0M396.2,418.7h0M396.4,417.1h0M396.5,413.0h0M396.6,410.8h0M396.8,409.0h0M396.9,403.2h0M397.0,402.0h0M397.1,398.0h0M397.2,393.1h0M397.4,400.5h0M397.5,409.1h0M397.6,415.8h0M397.8,426.1h0M397.9,434.1h0M398.0,438.6h0M398.1,436.9h0M398.2,435.9h0M398.4,435.0h0M398.5,433.4h0M398.6,432.0h0M398.8,430.8h0M398.9,432.1h0M399.0,432.9h0M399.1,430.0h0M399.2,428.9h0M399.4,429.4h0M399.5,428.4h0M399.6,426.1h0M399.8,423.3h0M399.9,423.7h0M400.0,421.4h0M400.1,420.4h0M400.2,420.3h0M400.4,417.0h0M400.5,415.9h0M400.6,413.5h0M400.8,413.0h0M400.9,414.4h0M401.0,417.2h0M401.1,420.1h0M401.2,422.2h0M401.4,421.7h0M401.5,420.1h0M401.6,421.3h0M401.8,425.3h0M401.9,426.0h0M402.0,427.3h0M402.1,429.5h0M402.2,427.4h0M402.4,426.8h0M402.5,426.1h0M402.6,425.6h0M402.8,420.5h0M402.9,423.4h0M403.0,424.3h0M403.1,423.9h0M403.2,423.3h0M403.4,425.9h0M403.5,421.2h0M403.6,422.8h0M403.8,425.5h0M403.9,427.6h0M404.0,427.8h0M404.1,424.7h0M404.2,425.1h0M404.4,424.5h0M404.5,424.8h0M404.6,433.0h0M404.8,435.7h0M404.9,434.8h0M405.0,433.4h0M405.1,432.5h0M405.2,431.3h0M405.4,430.3h0M405.5,430.3h0M405.6,435.8h0M405.8,437.3h0M405.9,439.2h0M406.0,443.6h0M406.1,444.2h0M406.2,442.0h0M406.4,446.8h0M406.5,445.4h0M406.6,445.0h0M406.8,444.4h0M406.9,445.1h0M407.0,448.6h0M407.1,443.5h0M407.2,446.4h0M407.4,444.1h0M407.5,447.3h0M407.6,445.5h0M407.8,446.4h0M407.9,447.9h0M408.0,449.0h0M408.1,443.9h0M408.2,444.1h0M408.4,444.5h0M408.5,449.6h0M408.6,444.2h0M408.8,449.4h0M408.9,444.9h0M409.0,449.8h0M409.1,443.9h0M409.2,440.2h0M409.4,440.6h0M409.5,438.8h0M409.6,436.2h0M409.8,439.1h0M409.9,438.2h0M410.0,434.1h0M410.1,436.4h0M410.2,434.6h0M410.4,429.0h0M410.5,429.7h0M410.6,428.6h0M410.8,426.0h0M410.9,426.4h0M411.0,424.7h0M411.1,424.5h0M411.2,422.9h0M411.4,419.8h0M411.5,421.6h0M411.6,422.7h0M411.8,420.2h0M411.9,420.0h0M412.0,423.2h0M412.1,421.2h0M412.2,422.2h0M412.4,419.1h0M412.5,420.6h0M412.6,422.4h0M412.8,420.0h0M412.9,419.5h0M413.0,420.0h0M413.1,420.7h0M413.2,420.4h0M413.4,420.7h0M413.5,419.2h0M413.6,421.0h0M413.8,424.3h0M413.9,422.6h0M414.0,424.6h0M414.1,426.4h0M414.2,426.1h0M414.4,428.6h0M414.5,429.4h0M414.6,429.9h0M414.8,430.5h0M414.9,432.2h0M415.0,432.0h0M415.1,430.3h0M415.2,427.4h0M415.4,426.9h0M415.5,424.9h0M415.6,427.0h0M415.8,421.4h0M415.9,422.0h0M416.0,421.1h0M416.1,418.4h0M416.2,422.3h0M416.4,419.5h0M416.5,417.5h0M416.6,423.0h0M416.8,420.5h0M416.9,421.0h0M417.0,423.3h0M417.1,420.1h0M417.2,418.9h0M417.4,417.5h0M417.5,419.5h0M417.6,421.9h0M417.8,421.7h0M417.9,421.7h0M418.0,417.9h0M418.1,418.2h0M418.2,417.7h0M418.4,415.3h0M418.5,418.8h0M418.6,421.9h0M418.8,422.4h0M418.9,422.1h0M419.0,421.7h0M419.1,423.8h0M419.2,422.6h0M419.4,420.9h0M419.5,416.8h0M419.6,415.4h0M419.8,419.9h0M419.9,418.1h0M420.0,415.6h0M420.1,415.4h0M420.2,417.7h0M420.4,415.1h0M420.5,420.7h0M420.6,423.8h0M420.8,424.8h0M420.9,426.5h0M421.0,425.9h0M421.1,424.6h0M421.2,424.6h0M421.4,421.8h0M421.5,421.0h0M421.6,417.9h0M421.8,418.2h0M421.9,414.6h0M422.0,415.1h0M422.1,415.6h0M422.2,414.4h0M422.4,416.9h0M422.5,415.1h0M422.6,416.8h0M422.8,415.8h0M422.9,413.7h0M423.0,418.0h0M423.1,419.3h0M423.2,413.4h0M423.4,416.1h0M423.5,415.3h0M423.6,416.2h0M423.8,413.9h0M423.9,412.9h0M424.0,414.3h0M424.1,422.1h0M424.2,422.3h0M424.4,422.7h0M424.5,418.2h0M424.6,419.8h0M424.8,411.9h0M424.9,412.4h0M425.0,413.2h0M425.1,415.2h0M425.2,414.0h0M425.4,416.8h0M425.5,418.3h0M425.6,417.2h0M425.8,416.3h0M425.9,415.8h0M426.0,416.8h0M426.1,417.3h0M426.2,417.5h0M426.4,418.6h0M426.5,417.2h0M426.6,415.6h0M426.8,415.6h0M426.9,414.6h0M427.0,421.0h0M427.1,421.5h0M427.2,418.0h0M427.4,416.9h0M427.5,416.4h0M427.6,413.4h0M427.8,417.1h0M427.9,412.1h0M428.0,416.1h0M428.1,415.2h0M428.2,413.5h0M428.4,413.0h0M428.5,411.7h0M428.6,414.6h0M428.8,413.2h0M428.9,414.1h0M429.0,413.7h0M429.1,413.2h0M429.2,414.3h0M429.4,418.8h0M429.5,419.1h0M429.6,423.3h0M429.8,422.1h0M429.9,425.4h0M430.0,423.6h0M430.1,425.0h0M430.2,422.1h0M430.4,422.3h0M430.5,424.2h0M430.6,425.8h0M430.8,425.2h0M430.9,422.8h0M431.0,421.1h0M431.1,421.0h0M431.2,421.6h0M431.4,417.9h0M431.5,415.1h0M431.6,415.4h0M431.8,414.7h0M431.9,413.6h0M432.0,412.7h0M432.1,412.0h0M432.2,412.5h0M432.4,411.5h0M432.5,413.7h0M432.6,411.1h0M432.8,414.6h0M432.9,417.3h0M433.0,418.8h0M433.1,415.3h0M433.2,419.6h0M433.4,420.6h0M433.5,420.6h0M433.6,422.6h0M433.8,421.0h0M433.9,418.9h0M434.0,416.8h0M434.1,413.5h0M434.2,414.1h0M434.4,411.9h0M434.5,412.5h0M434.6,410.1h0M434.8,410.0h0M434.9,409.8h0M435.0,411.6h0M435.1,412.1h0M435.2,416.9h0M435.4,417.7h0M435.5,415.9h0M435.6,420.0h0M435.8,418.9h0M435.9,417.9h0M436.0,420.7h0M436.1,416.6h0M436.2,416.3h0M436.4,413.4h0M436.5,417.5h0M436.6,418.3h0M436.8,416.5h0M436.9,413.2h0M437.0,411.6h0M437.1,412.4h0M437.2,411.0h0M437.4,411.8h0M437.5,413.0h0M437.6,410.0h0M437.8,412.5h0M437.9,409.9h0M438.0,408.3h0M438.1,410.3h0M438.2,412.8h0M438.4,415.6h0M438.5,410.0h0M438.6,409.2h0M438.8,409.9h0M438.9,410.0h0M439.0,411.3h0M439.1,408.2h0M439.2,411.0h0M439.4,412.2h0M439.5,411.1h0M439.6,410.9h0M439.8,412.0h0M439.9,412.1h0M440.0,412.2h0M440.1,408.9h0M440.2,412.2h0M440.4,412.0h0M440.5,410.9h0M440.6,414.2h0M440.8,417.5h0M440.9,415.3h0M441.0,415.8h0M441.1,418.7h0M441.2,415.3h0M441.4,413.6h0M441.5,411.3h0M441.6,415.0h0M441.8,412.7h0M441.9,413.3h0M442.0,413.3h0M442.1,413.5h0M442.2,412.8h0M442.4,410.3h0M442.5,406.9h0M442.6,407.3h0M442.8,409.2h0M442.9,403.8h0M443.0,407.8h0M443.1,412.4h0M443.2,410.6h0M443.4,409.5h0M443.5,407.3h0M443.6,409.8h0M443.8,414.9h0M443.9,415.1h0M444.0,411.8h0M444.1,415.4h0M444.2,410.0h0M444.4,411.1h0M444.5,411.4h0M444.6,410.9h0M444.8,410.8h0M444.9,408.2h0M445.0,407.2h0M445.1,410.0h0M445.2,410.1h0M445.4,410.5h0M445.5,407.3h0M445.6,405.6h0M445.8,403.1h0M445.9,406.0h0M446.0,407.4h0M446.1,407.3h0M446.2,405.9h0M446.4,404.7h0M446.5,404.2h0M446.6,405.9h0M446.8,401.6h0M446.9,401.0h0M447.0,401.8h0M447.1,401.5h0M447.2,404.5h0M447.4,407.6h0M447.5,406.7h0M447.6,408.2h0M447.8,404.9h0M447.9,401.6h0M448.0,402.9h0M448.1,406.5h0M448.2,409.0h0M448.4,417.8h0M448.5,412.7h0M448.6,414.3h0M448.8,414.4h0M448.9,412.0h0M449.0,412.3h0M449.1,410.1h0M449.2,413.3h0M449.4,408.4h0M449.5,407.9h0M449.6,404.2h0M449.8,405.7h0M449.9,401.1h0M450.0,407.1h0M450.1,409.4h0M450.2,409.7h0M450.4,416.7h0M450.5,409.1h0M450.6,411.7h0M450.8,411.1h0M450.9,416.7h0M451.0,411.2h0M451.1,406.8h0M451.2,407.8h0M451.4,404.9h0M451.5,403.0h0M451.6,402.2h0M451.8,401.7h0M451.9,400.9h0M452.0,401.3h0M452.1,404.9h0M452.2,400.8h0M452.4,401.6h0M452.5,402.7h0M452.6,400.7h0M452.8,401.4h0M452.9,405.8h0M453.0,403.7h0M453.1,405.9h0M453.2,403.3h0M453.4,403.1h0M453.5,400.8h0M453.6,403.1h0M453.8,404.8h0M453.9,405.1h0M454.0,404.6h0M454.1,401.8h0M454.2,403.1h0M454.4,401.8h0M454.5,402.7h0M454.6,401.4h0M454.8,406.3h0M454.9,402.6h0M455.0,400.0h0M455.1,403.6h0M455.2,406.0h0M455.4,406.6h0M455.5,407.2h0M455.6,406.0h0M455.8,408.0h0M455.9,406.1h0M456.0,406.4h0M456.1,408.3h0M456.2,406.9h0M456.4,406.0h0M456.5,406.6h0M456.6,408.0h0M456.8,405.4h0M456.9,400.8h0M457.0,405.2h0M457.1,402.6h0M457.2,403.0h0M457.4,402.9h0M457.5,402.2h0M457.6,404.2h0M457.8,406.5h0M457.9,402.5h0M458.0,402.6h0M458.1,404.3h0M458.2,403.8h0M458.4,407.6h0M458.5,406.8h0M458.6,405.3h0M458.8,401.5h0M458.9,400.4h0M459.0,404.2h0M459.1,403.0h0M459.2,400.8h0M459.4,403.8h0M459.5,405.2h0M459.6,401.3h0M459.8,402.1h0M459.9,402.1h0M460.0,403.0h0M460.1,406.1h0M460.2,407.9h0M460.4,406.2h0M460.5,406.4h0M460.6,406.9h0M460.8,405.5h0M460.9,406.6h0M461.0,409.1h0M461.1,409.4h0M461.2,409.8h0M461.4,411.4h0M461.5,410.4h0M461.6,412.3h0M461.8,416.3h0M461.9,416.3h0M462.0,415.9h0M462.1,418.8h0M462.2,415.3h0M462.4,413.7h0M462.5,419.0h0M462.6,418.9h0M462.8,422.6h0M462.9,415.5h0M463.0,413.4h0M463.1,413.6h0M463.2,420.5h0M463.4,421.3h0M463.5,417.1h0M463.6,417.0h0M463.8,416.5h0M463.9,416.8h0M464.0,419.3h0M464.1,413.6h0M464.2,419.1h0M464.4,420.1h0M464.5,417.3h0M464.6,418.1h0M464.8,416.5h0M464.9,421.3h0M465.0,420.0h0M465.1,418.5h0M465.2,421.5h0M465.4,419.9h0M465.5,416.6h0M465.6,420.1h0M465.8,418.8h0M465.9,420.7h0M466.0,419.3h0M466.1,421.7h0M466.2,419.6h0M466.4,423.5h0M466.5,420.0h0M466.6,421.7h0M466.8,421.2h0M466.9,424.0h0M467.0,422.9h0M467.1,423.8h0M467.2,423.9h0M467.4,426.2h0M467.5,424.8h0M467.6,423.2h0M467.8,423.9h0M467.9,423.7h0M468.0,422.0h0M468.1,423.4h0M468.2,423.9h0M468.4,423.3h0M468.5,424.3h0M468.6,425.9h0M468.8,425.4h0M468.9,422.4h0M469.0,421.6h0M469.1,424.8h0M469.2,426.9h0M469.4,427.7h0M469.5,425.7h0M469.6,427.0h0M469.8,424.0h0M469.9,423.3h0M470.0,423.0h0M470.1,426.0h0M470.2,423.1h0M470.4,425.3h0M470.5,422.6h0M470.6,423.9h0M470.8,423.8h0M470.9,423.1h0M471.0,424.1h0M471.1,425.5h0M471.2,426.0h0M471.4,427.9h0M471.5,425.5h0M471.6,426.5h0M471.8,429.9h0M471.9,428.4h0M472.0,427.8h0M472.1,431.1h0M472.2,431.6h0M472.4,434.8h0M472.5,434.6h0M472.6,434.1h0M472.8,433.3h0M472.9,434.2h0M473.0,434.2h0M473.1,430.8h0M473.2,435.3h0M473.4,429.8h0M473.5,432.2h0M473.6,434.4h0M473.8,429.1h0M473.9,432.1h0M474.0,429.5h0M474.1,431.0h0M474.2,434.5h0M474.4,434.4h0M474.5,442.5h0M474.6,444.9h0M474.8,444.6h0M474.9,446.6h0M475.0,448.7h0M475.1,446.5h0M475.2,445.5h0M475.4,445.4h0M475.5,443.7h0M475.6,443.6h0M475.8,441.2h0M475.9,440.0h0M476.0,441.5h0M476.1,446.0h0M476.2,443.2h0M476.4,441.0h0M476.5,441.5h0M476.6,437.8h0M476.8,436.1h0M476.9,435.0h0M477.0,432.0h0M477.1,430.1h0M477.2,434.9h0M477.4,435.5h0M477.5,435.5h0M477.6,431.3h0M477.8,438.1h0M477.9,431.5h0M478.0,431.7h0M478.1,430.3h0M478.2,426.0h0M478.4,424.6h0M478.5,421.2h0M478.6,423.8h0M478.8,422.6h0M478.9,426.0h0M479.0,423.9h0M479.1,428.6h0M479.2,428.5h0M479.4,430.0h0M479.5,431.0h0M479.6,432.9h0M479.8,434.9h0M479.9,439.2h0M480.0,437.2h0M480.1,435.3h0M480.2,436.2h0M480.4,439.6h0M480.5,438.4h0M480.6,439.6h0M480.8,439.2h0M480.9,436.7h0M481.0,437.0h0M481.1,433.8h0M481.2,438.0h0M481.4,439.7h0M481.5,435.9h0M481.6,432.9h0M481.8,439.8h0M481.9,441.7h0M482.0,432.0h0M482.1,436.9h0M482.2,432.1h0M482.4,432.0h0M482.5,431.5h0M482.6,432.2h0M482.8,432.4h0M482.9,432.5h0M483.0,435.8h0M483.1,436.5h0M483.2,436.2h0M483.4,433.0h0M483.5,433.9h0M483.6,431.7h0M483.8,434.7h0M483.9,435.4h0M484.0,434.5h0M484.1,436.0h0M484.2,438.7h0M484.4,435.0h0M484.5,436.6h0M484.6,432.5h0M484.8,436.3h0M484.9,438.1h0M485.0,439.6h0M485.1,437.2h0M485.2,438.2h0M485.4,432.1h0M485.5,438.1h0M485.6,435.6h0M485.8,434.5h0M485.9,435.2h0M486.0,436.3h0M486.1,432.5h0M486.2,432.5h0M486.4,435.1h0M486.5,435.0h0M486.6,437.6h0M486.8,438.9h0M486.9,437.0h0M487.0,435.1h0M487.1,435.3h0M487.2,436.6h0M487.4,436.4h0M487.5,435.6h0M487.6,432.8h0M487.8,433.4h0M487.9,433.1h0M488.0,433.9h0M488.1,432.8h0M488.2,434.1h0M488.4,433.9h0M488.5,432.5h0M488.6,434.0h0M488.8,432.9h0M488.9,434.5h0M489.0,434.6h0M489.1,432.8h0M489.2,432.5h0M489.4,433.2h0M489.5,433.7h0M489.6,433.9h0M489.8,433.7h0M489.9,437.7h0M490.0,436.0h0M490.1,432.1h0M490.2,430.9h0M490.4,427.4h0M490.5,426.9h0M490.6,427.5h0M490.8,427.8h0M490.9,423.9h0M491.0,423.1h0M491.1,422.8h0M491.2,424.1h0M491.4,425.3h0M491.5,421.9h0M491.6,421.4h0M491.8,421.5h0M491.9,421.8h0M492.0,422.1h0M492.1,425.4h0M492.2,424.2h0M492.4,424.7h0M492.5,424.4h0M492.6,420.6h0M492.8,423.1h0M492.9,421.2h0M493.0,421.1h0M493.1,415.9h0M493.2,418.8h0M493.4,417.5h0M493.5,416.6h0M493.6,418.1h0M493.8,418.5h0M493.9,416.3h0M494.0,418.6h0M494.1,418.7h0M494.2,419.9h0M494.4,427.2h0M494.5,432.1h0M494.6,430.7h0M494.8,434.5h0M494.9,433.0h0M495.0,433.5h0M495.1,436.1h0M495.2,438.5h0M495.4,438.4h0M495.5,437.6h0M495.6,436.8h0M495.8,436.4h0M495.9,439.0h0M496.0,434.9h0M496.1,435.9h0M496.2,438.0h0M496.4,437.4h0M496.5,434.7h0M496.6,435.1h0M496.8,434.1h0M496.9,432.9h0M497.0,430.4h0M497.1,432.2h0M497.2,430.8h0M497.4,431.3h0M497.5,430.3h0M497.6,428.3h0M497.8,427.3h0M497.9,427.2h0M498.0,428.9h0M498.1,431.0h0M498.2,431.8h0M498.4,430.1h0M498.5,430.0h0M498.6,428.2h0M498.8,430.2h0M498.9,431.6h0M499.0,430.0h0M499.1,430.1h0M499.2,429.6h0M499.4,429.2h0M499.5,430.6h0M499.6,429.6h0M499.8,427.4h0M499.9,427.4h0M500.0,425.7h0M500.1,431.3h0M500.2,434.8h0M500.4,436.2h0M500.5,433.2h0M500.6,431.4h0M500.8,430.0h0M500.9,431.6h0M501.0,430.3h0M501.1,432.2h0M501.2,429.1h0M501.4,430.5h0M501.5,432.2h0M501.6,434.6h0M501.8,434.0h0M501.9,432.8h0M502.0,436.5h0M502.1,434.6h0M502.2,436.2h0M502.4,436.1h0M502.5,433.7h0M502.6,436.9h0M502.8,434.4h0M502.9,432.5h0M503.0,429.4h0M503.1,430.3h0M503.2,429.0h0M503.4,429.9h0M503.5,431.7h0M503.6,429.0h0M503.8,429.1h0M503.9,428.2h0M504.0,433.7h0M504.1,426.6h0M504.2,429.2h0M504.4,429.4h0M504.5,430.1h0M504.6,433.0h0M504.8,432.7h0M504.9,431.4h0M505.0,427.6h0M505.1,426.9h0M505.2,426.8h0M505.4,423.4h0M505.5,427.1h0M505.6,430.8h0M505.8,427.4h0M505.9,429.4h0M506.0,432.3h0M506.1,432.0h0M506.2,430.9h0M506.4,432.1h0M506.5,430.0h0M506.6,427.5h0M506.8,429.4h0M506.9,428.8h0M507.0,428.8h0M507.1,429.9h0M507.2,431.0h0M507.4,429.2h0M507.5,429.1h0M507.6,429.6h0M507.8,432.4h0M507.9,432.6h0M508.0,432.1h0M508.1,430.4h0M508.2,433.9h0M508.4,429.7h0M508.5,433.0h0M508.6,428.0h0M508.8,433.0h0M508.9,429.9h0M509.0,432.8h0M509.1,426.6h0M509.2,426.4h0M509.4,418.8h0M509.5,417.2h0M509.6,417.5h0M509.8,415.8h0M509.9,415.2h0M510.0,416.3h0M510.1,417.3h0M510.2,419.1h0M510.4,420.0h0M510.5,421.4h0M510.6,426.1h0M510.8,426.2h0M510.9,428.0h0M511.0,430.8h0M511.1,432.8h0M511.2,434.9h0M511.4,437.0h0M511.5,429.1h0M511.6,427.6h0M511.8,427.4h0M511.9,431.5h0M512.0,432.0h0M512.1,431.9h0M512.2,436.3h0M512.4,432.1h0M512.5,436.9h0M512.6,436.0h0M512.8,436.6h0M512.9,437.2h0M513.0,436.4h0M513.1,435.8h0M513.2,434.3h0M513.4,436.2h0M513.5,436.1h0M513.6,437.8h0M513.8,435.8h0M513.9,433.6h0M514.0,435.9h0M514.1,432.8h0M514.2,434.0h0M514.4,428.2h0M514.5,427.6h0M514.6,431.1h0M514.8,428.7h0M514.9,427.9h0M515.0,430.0h0M515.1,430.3h0M515.2,431.4h0M515.4,430.6h0M515.5,429.4h0M515.6,427.6h0M515.8,429.2h0M515.9,431.6h0M516.0,432.1h0M516.1,428.2h0M516.2,428.3h0M516.4,429.2h0M516.5,432.6h0M516.6,433.0h0M516.8,429.6h0M516.9,429.9h0M517.0,434.2h0M517.1,435.7h0M517.2,432.8h0M517.4,433.6h0M517.5,431.8h0M517.6,432.1h0M517.8,431.6h0M517.9,431.4h0M518.0,431.6h0M518.1,433.2h0M518.2,430.9h0M518.4,432.3h0M518.5,432.6h0M518.6,434.5h0M518.8,434.2h0M518.9,435.7h0M519.0,433.0h0M519.1,430.7h0M519.2,430.9h0M519.4,432.2h0M519.5,435.1h0M519.6,433.8h0M519.8,434.0h0M519.9,434.1h0M520.0,433.8h0M520.1,434.3h0M520.2,429.6h0M520.4,429.4h0M520.5,427.0h0M520.6,428.9h0M520.8,431.9h0M520.9,430.3h0M521.0,430.6h0M521.1,428.8h0M521.2,424.3h0M521.4,423.8h0M521.5,425.2h0M521.6,428.3h0M521.8,425.4h0M521.9,421.7h0M522.0,425.6h0M522.1,423.6h0M522.2,426.0h0M522.4,430.0h0M522.5,429.5h0M522.6,429.6h0M522.8,430.5h0M522.9,428.5h0M523.0,427.3h0M523.1,431.3h0M523.2,420.8h0M523.4,421.9h0M523.5,422.7h0M523.6,422.7h0M523.8,421.8h0M523.9,423.8h0M524.0,428.0h0M524.1,429.1h0M524.2,429.9h0M524.4,432.9h0M524.5,431.3h0M524.6,434.5h0M524.8,433.7h0M524.9,434.1h0M525.0,432.9h0M525.1,434.0h0M525.2,431.9h0M525.4,432.6h0M525.5,433.4h0M525.6,434.6h0M525.8,435.0h0M525.9,436.7h0M526.0,435.2h0M526.1,433.1h0M526.2,433.0h0M526.4,432.6h0M526.5,433.7h0M526.6,434.1h0M526.8,434.4h0M526.9,434.5h0M527.0,435.4h0M527.1,435.0h0M527.2,434.3h0M527.4,433.1h0M527.5,435.1h0M527.6,433.3h0M527.8,434.5h0M527.9,433.0h0M528.0,434.2h0M528.1,434.5h0M528.2,434.7h0M528.4,434.1h0M528.5,431.5h0M528.6,431.7h0M528.8,433.0h0M528.9,431.6h0M529.0,430.4h0M529.1,431.4h0M529.2,431.8h0M529.4,434.9h0M529.5,434.4h0M529.6,433.2h0M529.8,432.3h0M529.9,432.5h0M530.0,431.0h0M530.1,432.1h0M530.2,432.8h0M530.4,434.1h0M530.5,432.5h0M530.6,432.2h0M530.8,430.7h0M530.9,431.9h0M531.0,432.0h0M531.1,433.6h0M531.2,433.3h0M531.4,433.3h0M531.5,431.1h0M531.6,434.1h0M531.8,434.3h0M531.9,431.7h0M532.0,430.5h0M532.1,431.0h0M532.2,432.4h0M532.4,433.0h0M532.5,433.6h0M532.6,432.4h0M532.8,432.5h0M532.9,434.3h0M533.0,431.2h0M533.1,432.1h0M533.2,432.7h0M533.4,434.0h0M533.5,433.0h0M533.6,430.7h0M533.8,430.3h0M533.9,430.6h0M534.0,429.6h0M534.1,430.0h0M534.2,430.0h0M534.4,431.5h0M534.5,432.2h0M534.6,431.4h0M534.8,427.3h0M534.9,425.2h0M535.0,426.2h0M535.1,425.3h0M535.2,423.3h0M535.4,416.6h0M535.5,415.8h0M535.6,413.1h0M535.8,408.6h0M535.9,406.2h0M536.0,405.2h0M536.1,409.6h0M536.2,409.4h0M536.4,408.8h0M536.5,409.1h0M536.6,409.7h0M536.8,409.3h0M536.9,408.0h0M537.0,409.1h0M537.1,412.3h0M537.2,414.2h0M537.4,415.2h0M537.5,414.4h0M537.6,412.4h0M537.8,411.9h0M537.9,407.7h0M538.0,406.5h0M538.1,405.8h0M538.2,401.1h0M538.4,399.9h0M538.5,397.0h0M538.6,395.9h0M538.8,394.8h0M538.9,391.8h0M539.0,389.3h0M539.1,386.3h0M539.2,385.2h0M539.4,386.4h0M539.5,385.8h0M539.6,384.7h0M539.8,384.7h0M539.9,388.2h0M540.0,391.9h0M540.1,394.9h0M540.2,396.6h0M540.4,401.1h0M540.5,403.6h0M540.6,406.8h0M540.8,407.6h0M540.9,411.3h0M541.0,414.6h0M541.1,418.5h0M541.2,417.3h0M541.4,413.5h0M541.5,410.1h0M541.6,411.0h0M541.8,407.5h0M541.9,406.7h0M542.0,405.0h0M542.1,401.8h0M542.2,401.9h0M542.4,399.6h0M542.5,400.6h0M542.6,398.9h0M542.8,398.9h0M542.9,398.8h0M543.0,402.7h0M543.1,406.6h0M543.2,410.3h0M543.4,412.4h0M543.5,415.3h0M543.6,417.0h0M543.8,419.9h0M543.9,425.4h0M544.0,427.2h0M544.1,428.9h0M544.2,433.5h0M544.4,432.7h0M544.5,435.6h0M544.6,433.3h0M544.8,431.4h0M544.9,429.8h0M545.0,426.9h0M545.1,426.3h0M545.2,422.2h0M545.4,421.1h0M545.5,418.8h0M545.6,418.2h0M545.8,415.4h0M545.9,413.0h0M546.0,410.6h0M546.1,411.4h0M546.2,409.7h0M546.4,406.6h0M546.5,407.1h0M546.6,409.0h0M546.8,409.0h0M546.9,411.9h0M547.0,415.4h0M547.1,416.5h0M547.2,418.0h0M547.4,419.9h0M547.5,422.7h0M547.6,425.6h0M547.8,425.5h0M547.9,426.8h0M548.0,431.6h0M548.1,431.3h0M548.2,431.8h0M548.4,431.0h0M548.5,428.4h0M548.6,426.1h0M548.8,423.9h0M548.9,422.8h0M549.0,418.0h0M549.1,417.1h0M549.2,415.7h0M549.4,410.5h0M549.5,410.7h0M549.6,409.5h0M549.8,408.3h0M549.9,404.2h0M550.0,401.7h0M550.1,401.6h0M550.2,399.7h0M550.4,401.5h0M550.5,403.8h0M550.6,403.5h0M550.8,404.6h0M550.9,406.2h0M551.0,409.1h0M551.1,408.8h0M551.2,408.5h0M551.4,409.4h0M551.5,409.3h0M551.6,407.6h0M551.8,409.7h0M551.9,410.9h0M552.0,411.6h0M552.1,414.4h0M552.2,412.2h0M552.4,412.7h0M552.5,415.0h0M552.6,416.7h0M552.8,419.4h0M552.9,419.1h0M553.0,421.1h0M553.1,424.6h0M553.2,425.8h0M553.4,426.5h0M553.5,430.0h0M553.6,429.5h0M553.8,430.6h0M553.9,431.2h0M554.0,431.8h0M554.1,432.5h0M554.2,430.1h0M554.4,429.3h0M554.5,426.4h0M554.6,425.1h0M554.8,423.0h0M554.9,421.3h0M555.0,419.5h0M555.1,417.2h0M555.2,416.7h0M555.4,415.3h0M555.5,413.6h0M555.6,412.7h0M555.8,414.4h0M555.9,416.5h0M556.0,416.0h0M556.1,418.0h0M556.2,416.5h0M556.4,417.1h0M556.5,413.9h0M556.6,414.4h0M556.8,414.6h0M556.9,414.3h0M557.0,421.1h0M557.1,419.9h0M557.2,418.8h0M557.4,416.9h0M557.5,411.9h0M557.6,408.9h0M557.8,403.7h0M557.9,401.3h0M558.0,399.7h0M558.1,395.7h0M558.2,394.3h0M558.4,391.5h0M558.5,388.3h0M558.6,395.0h0M558.8,402.1h0M558.9,406.7h0M559.0,412.8h0M559.1,418.8h0M559.2,425.6h0M559.4,424.2h0M559.5,424.3h0M559.6,423.2h0M559.8,419.5h0M559.9,417.9h0M560.0,415.3h0M560.1,408.3h0M560.2,404.1h0M560.4,394.5h0M560.5,391.5h0M560.6,386.8h0M560.8,381.1h0M560.9,376.5h0M561.0,371.9h0M561.1,368.9h0M561.2,366.6h0M561.4,365.8h0M561.5,365.5h0M561.6,365.4h0M561.8,366.2h0M561.9,366.1h0M562.0,370.2h0M562.1,367.5h0M562.2,371.8h0M562.4,366.7h0M562.5,370.7h0M562.6,369.3h0M562.8,375.2h0M562.9,374.1h0M563.0,377.4h0M563.1,377.1h0M563.2,375.3h0M563.4,367.8h0M563.5,370.0h0M563.6,366.9h0M563.8,363.1h0M563.9,366.0h0M564.0,364.4h0M564.1,371.0h0M564.2,371.6h0M564.4,365.9h0M564.5,366.3h0M564.6,367.4h0M564.8,361.4h0M564.9,365.0h0M565.0,362.2h0M565.1,360.4h0M565.2,365.0h0M565.4,365.9h0M565.5,364.4h0M565.6,367.5h0M565.8,370.9h0M565.9,370.1h0M566.0,369.6h0M566.1,368.6h0M566.2,367.8h0M566.4,370.5h0M566.5,372.6h0M566.6,370.9h0M566.8,369.0h0M566.9,366.6h0M567.0,371.7h0M567.1,368.9h0M567.2,371.9h0M567.4,362.6h0M567.5,363.2h0M567.6,362.9h0M567.8,367.3h0M567.9,362.7h0M568.0,357.7h0M568.1,356.8h0M568.2,359.4h0M568.4,363.7h0M568.5,366.6h0M568.6,368.4h0M568.8,365.8h0M568.9,356.9h0M569.0,358.3h0M569.1,357.5h0M569.2,351.7h0M569.4,355.8h0M569.5,356.7h0M569.6,359.7h0M569.8,359.8h0M569.9,360.7h0M570.0,354.0h0M570.1,361.4h0M570.2,365.5h0M570.4,364.2h0M570.5,364.1h0M570.6,360.5h0M570.8,365.2h0M570.9,366.1h0M571.0,361.7h0M571.1,362.6h0M571.2,361.9h0M571.4,355.9h0M571.5,349.5h0M571.6,349.8h0M571.8,345.9h0M571.9,343.3h0M572.0,341.4h0M572.1,336.2h0M572.2,336.1h0M572.4,338.2h0M572.5,342.9h0M572.6,342.2h0M572.8,341.1h0M572.9,340.1h0M573.0,341.5h0M573.1,339.8h0M573.2,337.7h0M573.4,331.1h0M573.5,328.5h0M573.6,321.4h0M573.8,325.5h0M573.9,323.8h0M574.0,326.5h0M574.1,320.5h0M574.2,319.5h0M574.4,322.1h0M574.5,310.1h0M574.6,309.3h0M574.8,313.7h0M574.9,325.0h0M575.0,321.4h0M575.1,317.4h0M575.2,304.9h0M575.4,312.5h0M575.5,305.0h0M575.6,307.6h0M575.8,303.5h0M575.9,299.0h0M576.0,303.1h0M576.1,309.0h0M576.2,319.5h0M576.4,327.5h0M576.5,327.1h0M576.6,305.7h0M576.8,305.5h0M576.9,310.0h0M577.0,301.5h0M577.1,297.6h0M577.2,292.1h0M577.4,288.0h0M577.5,298.1h0M577.6,292.6h0M577.8,286.3h0M577.9,276.5h0M578.0,276.2h0M578.1,258.2h0M578.2,285.0h0M578.4,299.1h0M578.5,305.1h0M578.6,306.1h0M578.8,328.5h0M578.9,331.4h0M579.0,331.9h0M579.1,330.8h0M579.2,337.5h0M579.4,328.2h0M579.5,336.5h0M579.6,341.6h0M579.8,338.3h0M579.9,330.1h0M580.0,322.9h0M580.1,322.3h0M580.2,313.0h0M580.4,312.4h0M580.5,302.9h0M580.6,311.2h0M580.8,311.3h0M580.9,310.8h0M581.0,318.4h0M581.1,316.4h0M581.2,310.0h0M581.4,308.9h0M581.5,302.8h0M581.6,310.1h0M581.8,298.2h0M581.9,278.6h0M582.0,275.2h0M582.1,282.8h0M582.2,279.0h0M582.4,284.7h0M582.5,302.8h0M582.6,295.8h0M582.8,290.7h0M582.9,309.8h0M583.0,297.3h0M583.1,282.2h0M583.2,281.0h0M583.4,293.2h0M583.5,291.4h0M583.6,288.6h0M583.8,288.7h0M583.9,294.8h0M584.0,285.8h0M584.1,284.3h0M584.2,277.5h0M584.4,275.8h0M584.5,271.3h0M584.6,255.6h0M584.8,258.1h0M584.9,249.8h0M585.0,250.0h0M585.1,248.4h0M585.2,253.9h0M585.4,248.9h0M585.5,252.4h0M585.6,262.8h0M585.8,259.4h0M585.9,266.0h0M586.0,268.7h0M586.1,264.9h0M586.2,276.8h0M586.4,282.7h0M586.5,280.1h0M586.6,282.0h0M586.8,306.9h0M586.9,291.7h0M587.0,270.6h0M587.1,281.6h0M587.2,272.1h0M587.4,259.1h0M587.5,257.4h0M587.6,274.1h0M587.8,284.3h0M587.9,272.8h0M588.0,290.6h0M588.1,274.4h0M588.2,285.4h0M588.4,282.4h0M588.5,298.3h0M588.6,300.3h0M588.8,297.4h0M588.9,289.5h0M589.0,277.8h0M589.1,269.4h0M589.2,246.4h0M589.4,251.8h0M589.5,247.0h0M589.6,238.1h0M589.8,233.3h0M589.9,231.7h0M590.0,227.8h0M590.1,233.9h0M590.2,246.3h0M590.4,240.5h0M590.5,235.8h0M590.6,234.3h0M590.8,244.5h0M590.9,246.4h0M591.0,252.2h0M591.1,252.3h0M591.2,249.2h0M591.4,221.0h0M591.5,218.4h0M591.6,213.6h0M591.8,212.8h0M591.9,212.7h0M592.0,210.1h0M592.1,207.2h0M592.2,210.3h0M592.4,216.0h0M592.5,209.1h0M592.6,211.0h0M592.8,202.9h0M592.9,193.4h0M593.0,187.4h0M593.1,198.3h0M593.2,203.6h0M593.4,201.0h0M593.5,199.1h0M593.6,209.9h0M593.8,195.4h0M593.9,206.3h0M594.0,193.7h0M594.1,202.9h0M594.2,206.3h0M594.4,198.3h0M594.5,205.9h0M594.6,214.7h0M594.8,225.7h0M594.9,235.4h0M595.0,243.1h0M595.1,229.8h0M595.2,219.1h0M595.4,223.2h0M595.5,226.7h0M595.6,229.8h0M595.8,228.8h0M595.9,236.3h0M596.0,230.2h0M596.1,231.4h0M596.2,225.1h0M596.4,209.1h0M596.5,206.9h0M596.6,210.1h0M596.8,226.8h0M596.9,226.8h0M597.0,231.1h0M597.1,226.8h0M597.2,226.4h0M597.4,213.3h0M597.5,210.1h0M597.6,225.4h0M597.8,229.3h0M597.9,219.3h0M598.0,216.0h0M598.1,212.6h0M598.2,219.4h0M598.4,224.2h0M598.5,218.4h0M598.6,209.3h0M598.8,200.1h0M598.9,211.8h0M599.0,218.9h0M599.1,212.2h0M599.2,218.3h0M599.4,214.9h0M599.5,206.3h0M599.6,213.5h0M599.8,191.5h0M599.9,181.4h0M600.0,176.2h0M600.1,174.1h0M600.2,144.8h0M600.4,149.7h0M600.5,143.1h0M600.6,141.5h0M600.8,151.7h0M600.9,163.9h0M601.0,169.1h0M601.1,145.9h0M601.2,145.4h0M601.4,163.7h0M601.5,160.9h0M601.6,145.3h0M601.8,141.0h0M601.9,139.0h0M602.0,149.2h0M602.1,146.4h0M602.2,169.3h0M602.4,156.4h0M602.5,158.1h0M602.6,173.8h0M602.8,162.6h0M602.9,159.3h0M603.0,160.9h0M603.1,150.4h0M603.2,142.7h0M603.4,135.5h0M603.5,150.3h0M603.6,163.7h0M603.8,136.8h0M603.9,134.7h0M604.0,149.0h0M604.1,169.8h0M604.2,170.2h0M604.4,180.0h0M604.5,168.7h0M604.6,171.8h0M604.8,161.0h0M604.9,165.3h0M605.0,152.9h0M605.1,133.9h0M605.2,112.3h0M605.4,108.2h0M605.5,101.7h0M605.6,116.1h0M605.8,115.3h0M605.9,112.4h0M606.0,103.5h0M606.1,120.8h0M606.2,133.6h0M606.4,137.7h0M606.5,116.0h0M606.6,114.2h0M606.8,113.5h0M606.9,101.4h0M607.0,130.1h0M607.1,132.9h0M607.2,130.8h0M607.4,126.9h0M607.5,126.4h0M607.6,126.9h0M607.8,127.7h0M607.9,128.7h0M608.0,128.2h0M608.1,121.0h0M608.2,123.5h0M608.4,116.9h0M608.5,110.3h0M608.6,102.8h0M608.8,99.1h0M608.9,95.7h0M609.0,87.6h0M609.1,82.8h0M609.2,77.7h0M609.4,72.8h0M609.5,70.7h0M609.6,67.5h0M609.8,62.8h0M609.9,63.8h0M610.0,62.5h0M610.1,59.7h0M610.2,56.2h0M610.4,55.1h0M610.5,55.4h0M610.6,55.4h0M610.8,56.1h0M610.9,54.4h0M611.0,51.4h0M611.1,48.1h0M611.2,46.6h0M611.4,46.0h0M611.5,46.7h0M611.6,46.2h0M611.8,51.1h0M611.9,52.3h0M612.0,55.4h0M612.1,59.1h0M612.2,64.8h0M612.4,69.3h0M612.5,80.2h0M612.6,81.1h0M612.8,84.8h0M612.9,84.8h0M613.0,88.5h0M613.1,90.7h0M613.2,92.1h0M613.4,91.9h0M613.5,96.4h0M613.6,102.1h0M613.8,105.1h0M613.9,112.6h0M614.0,125.7h0M614.1,126.5h0M614.2,131.5h0M614.4,141.3h0M614.5,144.1h0M614.6,148.5h0M614.8,150.8h0M614.9,151.6h0M615.0,154.2h0M615.1,159.0h0M615.2,157.0h0M615.4,156.5h0M615.5,157.3h0M615.6,163.0h0M615.8,162.7h0M615.9,163.8h0M616.0,164.4h0M616.1,164.9h0M616.2,168.4h0M616.4,168.5h0M616.5,169.7h0M616.6,174.0h0M616.8,172.2h0M616.9,170.9h0M617.0,169.3h0M617.1,167.3h0M617.2,162.5h0M617.4,161.2h0M617.5,154.8h0M617.6,150.8h0M617.8,145.0h0M617.9,144.9h0M618.0,138.0h0M618.1,132.2h0M618.2,129.1h0M618.4,129.3h0M618.5,124.4h0M618.6,127.5h0M618.8,123.0h0M618.9,122.1h0M619.0,115.5h0M619.1,110.1h0M619.2,103.8h0M619.4,98.6h0M619.5,97.6h0M619.6,93.8h0M619.8,89.9h0M619.9,83.0h0M620.0,78.1h0M620.1,80.6h0M620.2,74.1h0M620.4,73.6h0M620.5,74.0h0M620.6,72.7h0M620.8,70.5h0M620.9,69.9h0M621.0,71.7h0M621.1,73.7h0M621.2,71.5h0M621.4,73.7h0M621.5,76.3h0M621.6,77.7h0M621.8,83.7h0M621.9,83.6h0M622.0,86.9h0M622.1,89.3h0M622.2,90.0h0M622.4,89.1h0M622.5,93.9h0M622.6,95.2h0M622.8,100.3h0M622.9,104.3h0M623.0,102.9h0M623.1,104.8h0M623.2,104.5h0M623.4,112.3h0M623.5,115.7h0M623.6,114.2h0M623.8,121.2h0M623.9,120.2h0M624.0,121.9h0M624.1,121.8h0M624.2,123.4h0M624.4,126.3h0M624.5,129.5h0M624.6,126.9h0M624.8,125.5h0M624.9,123.5h0M625.0,121.0h0M625.1,116.3h0M625.2,117.3h0M625.4,113.7h0M625.5,108.6h0M625.6,110.3h0M625.8,114.7h0M625.9,114.0h0M626.0,111.3h0M626.1,116.4h0M626.2,115.3h0M626.4,117.2h0M626.5,113.0h0M626.6,109.6h0M626.8,104.4h0M626.9,101.5h0M627.0,99.3h0M627.1,96.8h0M627.2,91.3h0M627.4,87.7h0M627.5,84.9h0M627.6,86.3h0M627.8,81.6h0M627.9,76.4h0M628.0,72.8h0M628.1,70.3h0M628.2,70.9h0M628.4,74.6h0M628.5,77.1h0M628.6,75.3h0M628.8,72.9h0M628.9,77.1h0M629.0,77.7h0M629.1,82.3h0M629.2,82.2h0M629.4,88.8h0M629.5,97.8h0M629.6,97.3h0M629.8,94.5h0M629.9,94.0h0M630.0,97.3h0M630.1,105.0h0M630.2,112.2h0M630.4,116.5h0M630.5,121.5h0M630.6,127.2h0M630.8,136.3h0M630.9,136.3h0M631.0,140.3h0M631.1,136.0h0M631.2,142.6h0M631.4,142.5h0M631.5,146.1h0M631.6,146.0h0M631.8,150.3h0M631.9,150.1h0M632.0,153.0h0M632.1,150.8h0M632.2,149.5h0M632.4,152.8h0M632.5,154.5h0M632.6,150.6h0M632.8,158.7h0M632.9,159.6h0M633.0,163.0h0M633.1,164.9h0M633.2,168.5h0M633.4,168.8h0M633.5,166.8h0M633.6,164.1h0M633.8,162.9h0M633.9,162.0h0M634.0,163.2h0M634.1,160.3h0M634.2,158.0h0M634.4,158.3h0M634.5,158.1h0M634.6,153.4h0M634.8,148.5h0M634.9,146.9h0M635.0,147.4h0M635.1,149.9h0M635.2,149.9h0M635.4,148.7h0M635.5,150.0h0M635.6,145.8h0M635.8,147.9h0M635.9,149.9h0M636.0,147.7h0M636.1,147.9h0M636.2,144.4h0M636.4,146.7h0M636.5,137.8h0M636.6,137.1h0M636.8,135.7h0M636.9,134.8h0M637.0,131.3h0M637.1,126.8h0M637.2,122.7h0M637.4,122.4h0M637.5,120.4h0M637.6,119.4h0M637.8,113.7h0M637.9,102.1h0M638.0,96.7h0M638.1,99.1h0M638.2,99.6h0M638.4,100.3h0M638.5,98.6h0M638.6,98.3h0M638.8,97.8h0M638.9,94.1h0M639.0,94.4h0M639.1,90.7h0M639.2,87.1h0M639.4,80.5h0M639.5,83.5h0M639.6,83.6h0M639.8,85.0h0M639.9,85.3h0M640.0,78.0h0M640.1,74.8h0M640.2,73.7h0M640.4,71.1h0M640.5,70.8h0M640.6,69.5h0M640.8,69.4h0M640.9,69.4h0M641.0,69.0h0M641.1,70.3h0M641.2,72.9h0M641.4,74.4h0M641.5,79.0h0M641.6,80.2h0M641.8,78.7h0M641.9,86.6h0M642.0,89.6h0M642.1,95.1h0M642.2,96.8h0M642.4,100.9h0M642.5,108.0h0M642.6,109.8h0M642.8,118.2h0M642.9,119.9h0M643.0,123.4h0M643.1,128.5h0M643.2,127.8h0M643.4,126.9h0M643.5,126.9h0M643.6,129.7h0M643.8,137.6h0M643.9,133.6h0M644.0,138.6h0M644.1,143.1h0M644.2,152.9h0M644.4,155.2h0M644.5,158.1h0M644.6,158.6h0M644.8,164.0h0M644.9,167.0h0M645.0,170.5h0M645.1,167.0h0M645.2,165.8h0M645.4,164.7h0M645.5,155.6h0M645.6,157.0h0M645.8,156.5h0M645.9,151.4h0M646.0,151.2h0M646.1,149.7h0M646.2,147.4h0M646.4,143.2h0M646.5,141.0h0M646.6,139.3h0M646.8,137.5h0M646.9,131.8h0M647.0,129.7h0M647.1,127.0h0M647.2,121.9h0M647.4,118.5h0M647.5,115.5h0M647.6,110.0h0M647.8,104.8h0M647.9,112.3h0M648.0,119.2h0M648.1,120.8h0M648.2,122.9h0M648.4,127.6h0M648.5,128.6h0M648.6,125.4h0M648.8,122.5h0M648.9,118.2h0M649.0,116.4h0M649.1,118.8h0M649.2,120.5h0M649.4,122.4h0M649.5,125.4h0M649.6,127.6h0M649.8,130.1h0M649.9,129.3h0M650.0,129.3h0M650.1,138.3h0M650.2,146.2h0M650.4,156.0h0M650.5,163.2h0M650.6,168.1h0M650.8,173.1h0M650.9,177.6h0M651.0,176.7h0M651.1,173.5h0M651.2,170.2h0M651.4,166.1h0M651.5,166.6h0M651.6,165.0h0M651.8,166.3h0M651.9,161.9h0M652.0,158.7h0M652.1,153.0h0M652.2,153.4h0M652.4,148.0h0M652.5,142.9h0M652.6,146.1h0M652.8,143.5h0M652.9,142.3h0M653.0,136.8h0M653.1,140.0h0M653.2,139.6h0M653.4,146.1h0M653.5,148.4h0M653.6,146.8h0M653.8,146.9h0M653.9,148.7h0M654.0,152.2h0M654.1,149.4h0M654.2,151.1h0M654.4,157.8h0M654.5,161.7h0M654.6,169.3h0M654.8,169.3h0M654.9,172.2h0M655.0,172.0h0M655.1,174.5h0M655.2,176.0h0M655.4,182.9h0M655.5,189.0h0M655.6,190.5h0M655.8,191.8h0M655.9,192.1h0M656.0,194.9h0M656.1,190.0h0M656.2,188.6h0M656.4,185.0h0M656.5,186.6h0M656.6,181.2h0M656.8,180.9h0M656.9,176.1h0M657.0,173.9h0M657.1,170.3h0M657.2,165.5h0M657.4,165.6h0M657.5,161.8h0M657.6,160.9h0M657.8,154.1h0M657.9,149.7h0M658.0,147.7h0M658.1,146.1h0M658.2,147.0h0M658.4,143.2h0M658.5,143.8h0M658.6,147.4h0M658.8,149.8h0M658.9,152.0h0M659.0,152.6h0M659.1,151.9h0M659.2,157.1h0M659.4,156.9h0M659.5,159.8h0M659.6,161.4h0M659.8,162.2h0M659.9,161.3h0M660.0,164.5h0M660.1,168.0h0M660.2,168.8h0M660.4,166.2h0M660.5,171.7h0M660.6,174.5h0M660.8,174.9h0M660.9,175.1h0M661.0,172.7h0M661.1,168.3h0M661.2,166.2h0M661.4,165.3h0M661.5,162.8h0M661.6,163.1h0M661.8,160.7h0M661.9,156.5h0M662.0,154.6h0M662.1,151.4h0M662.2,148.7h0M662.4,144.9h0M662.5,146.2h0M662.6,145.2h0M662.8,144.1h0M662.9,142.4h0M663.0,138.9h0M663.1,138.8h0M663.2,137.1h0M663.4,136.8h0M663.5,134.7h0M663.6,138.3h0M663.8,140.7h0M663.9,140.4h0M664.0,140.1h0M664.1,142.9h0M664.2,143.0h0M664.4,136.8h0M664.5,131.7h0M664.6,127.9h0M664.8,129.2h0M664.9,127.8h0M665.0,128.9h0M665.1,128.7h0M665.2,127.4h0M665.4,127.3h0M665.5,130.1h0M665.6,129.0h0M665.8,119.4h0M665.9,117.3h0M666.0,103.8h0M666.1,103.8h0M666.2,102.0h0M666.4,101.0h0M666.5,99.2h0M666.6,96.7h0M666.8,96.3h0M666.9,91.9h0M667.0,91.0h0M667.1,90.2h0M667.2,89.7h0M667.4,84.0h0M667.5,84.1h0M667.6,79.8h0M667.8,76.2h0M667.9,76.3h0M668.0,72.3h0M668.1,74.3h0M668.2,76.4h0M668.4,77.0h0M668.5,78.4h0M668.6,79.7h0M668.8,83.8h0M668.9,82.9h0M669.0,84.0h0M669.1,92.0h0M669.2,93.5h0M669.4,96.6h0M669.5,97.7h0M669.6,99.8h0M669.8,101.9h0M669.9,106.0h0M670.0,106.4h0M670.1,110.0h0M670.2,115.8h0M670.4,111.7h0M670.5,113.1h0M670.6,117.8h0M670.8,119.7h0M670.9,122.5h0M671.0,128.2h0M671.1,133.2h0M671.2,134.4h0M671.4,132.1h0M671.5,131.9h0M671.6,128.4h0M671.8,128.0h0M671.9,126.2h0M672.0,122.0h0M672.1,120.6h0M672.2,122.9h0M672.4,122.8h0M672.5,119.9h0M672.6,116.5h0M672.8,112.9h0M672.9,113.3h0M673.0,110.8h0M673.1,112.2h0M673.2,110.3h0M673.4,102.4h0M673.5,101.9h0M673.6,99.1h0M673.8,95.9h0M673.9,91.6h0M674.0,92.4h0M674.1,94.3h0M674.2,97.6h0M674.4,96.1h0M674.5,98.8h0M674.6,105.6h0M674.8,109.6h0M674.9,111.7h0M675.0,113.5h0M675.1,115.2h0M675.2,114.8h0M675.4,117.3h0M675.5,118.1h0M675.6,121.1h0M675.8,121.8h0M675.9,120.9h0M676.0,121.5h0M676.1,121.6h0M676.2,120.9h0M676.4,121.0h0M676.5,122.6h0M676.6,123.7h0M676.8,125.0h0M676.9,125.3h0M677.0,124.2h0M677.1,125.0h0M677.2,124.0h0M677.4,125.2h0M677.5,127.0h0M677.6,129.8h0M677.8,133.0h0M677.9,129.8h0M678.0,127.7h0M678.1,129.8h0M678.2,129.9h0M678.4,126.2h0M678.5,123.1h0M678.6,121.3h0M678.8,120.6h0M678.9,113.6h0M679.0,115.1h0M679.1,118.4h0M679.2,118.8h0M679.4,111.8h0M679.5,107.9h0M679.6,101.4h0M679.8,104.0h0M679.9,101.7h0M680.0,102.2h0M680.1,96.6h0M680.2,93.3h0M680.4,90.8h0M680.5,89.8h0M680.6,87.8h0M680.8,86.7h0M680.9,86.4h0M681.0,83.9h0M681.1,89.0h0M681.2,93.0h0M681.4,92.8h0M681.5,95.7h0M681.6,96.9h0M681.8,96.7h0M681.9,95.6h0M682.0,99.4h0M682.1,99.3h0M682.2,105.0h0M682.4,106.4h0M682.5,104.3h0M682.6,105.4h0M682.8,107.6h0M682.9,110.4h0M683.0,121.9h0M683.1,127.2h0M683.2,132.2h0M683.4,131.3h0M683.5,136.8h0M683.6,140.6h0M683.8,140.7h0M683.9,144.6h0M684.0,148.3h0M684.1,149.7h0M684.2,150.6h0M684.4,152.2h0M684.5,153.2h0M684.6,149.8h0M684.8,149.3h0M684.9,148.1h0M685.0,149.1h0M685.1,148.9h0M685.2,147.4h0M685.4,145.6h0M685.5,148.7h0M685.6,145.9h0M685.8,144.8h0M685.9,144.2h0M686.0,143.9h0M686.1,143.5h0M686.2,141.6h0M686.4,142.1h0M686.5,146.1h0M686.6,144.8h0M686.8,143.1h0M686.9,141.7h0M687.0,144.0h0M687.1,144.8h0M687.2,140.4h0M687.4,139.1h0M687.5,138.8h0M687.6,135.2h0M687.8,133.7h0M687.9,143.4h0M688.0,145.4h0M688.1,149.7h0M688.2,153.5h0M688.4,153.8h0M688.5,155.9h0M688.6,156.9h0M688.8,157.1h0M688.9,161.8h0M689.0,166.0h0M689.1,165.3h0M689.2,168.1h0M689.4,167.6h0M689.5,167.8h0M689.6,167.6h0M689.8,170.2h0M689.9,174.3h0M690.0,175.7h0M690.1,179.5h0M690.2,182.7h0M690.4,182.9h0M690.5,184.9h0M690.6,182.7h0M690.8,184.1h0M690.9,185.9h0M691.0,187.2h0M691.1,185.7h0M691.2,183.4h0M691.4,182.9h0M691.5,181.3h0M691.6,178.3h0M691.8,175.5h0M691.9,174.4h0M692.0,177.0h0M692.1,178.3h0M692.2,177.3h0M692.4,176.1h0M692.5,174.3h0M692.6,172.6h0M692.8,167.5h0M692.9,167.5h0M693.0,169.4h0M693.1,171.0h0M693.2,167.4h0M693.4,167.5h0M693.5,166.2h0M693.6,165.4h0M693.8,159.9h0M693.9,160.2h0M694.0,159.9h0M694.1,150.7h0M694.2,144.2h0M694.4,142.6h0M694.5,139.9h0M694.6,135.4h0M694.8,133.0h0M694.9,130.1h0M695.0,125.3h0M695.1,124.7h0M695.2,123.6h0M695.4,121.4h0M695.5,121.2h0M695.6,121.0h0M695.8,123.6h0M695.9,119.6h0M696.0,120.3h0M696.1,118.3h0M696.2,117.0h0M696.4,116.9h0M696.5,114.2h0M696.6,116.4h0M696.8,117.7h0M696.9,116.8h0M697.0,117.1h0M697.1,116.7h0M697.2,122.2h0M697.4,121.4h0M697.5,122.4h0M697.6,121.7h0M697.8,121.7h0M697.9,122.5h0M698.0,125.7h0M698.1,127.8h0M698.2,132.1h0M698.4,133.3h0M698.5,134.0h0M698.6,137.3h0M698.8,142.0h0M698.9,142.8h0M699.0,147.1h0M699.1,147.4h0M699.2,146.1h0M699.4,150.0h0M699.5,155.9h0M699.6,158.9h0M699.8,157.4h0M699.9,154.7h0M700.0,158.2h0M700.1,161.0h0M700.2,164.7h0M700.4,167.6h0M700.5,168.9h0M700.6,170.8h0M700.8,173.1h0M700.9,179.5h0M701.0,178.8h0M701.1,176.4h0M701.2,176.8h0M701.4,176.9h0M701.5,176.6h0M701.6,177.1h0M701.8,176.2h0M701.9,179.6h0M702.0,178.3h0M702.1,184.7h0M702.2,186.0h0M702.4,188.4h0M702.5,188.2h0M702.6,184.6h0M702.8,179.0h0M702.9,174.1h0M703.0,168.7h0M703.1,166.1h0M703.2,161.3h0M703.4,159.0h0M703.5,156.2h0M703.6,156.6h0M703.8,155.0h0M703.9,152.9h0M704.0,150.8h0M704.1,146.0h0M704.2,145.4h0M704.4,144.5h0M704.5,142.9h0M704.6,140.5h0M704.8,143.3h0M704.9,148.5h0M705.0,154.3h0M705.1,158.8h0M705.2,157.5h0M705.4,160.4h0M705.5,155.3h0M705.6,160.1h0M705.8,157.0h0M705.9,159.1h0M706.0,163.5h0M706.1,167.9h0M706.2,165.9h0M706.4,166.9h0M706.5,167.3h0M706.6,168.7h0M706.8,165.2h0M706.9,163.5h0M707.0,163.3h0M707.1,159.6h0M707.2,151.8h0M707.4,151.3h0M707.5,151.7h0M707.6,153.0h0M707.8,148.8h0M707.9,146.0h0M708.0,141.8h0M708.1,142.5h0M708.2,142.4h0M708.4,139.7h0M708.5,138.3h0M708.6,138.9h0M708.8,136.2h0M708.9,135.1h0M709.0,140.0h0M709.1,142.9h0M709.2,144.0h0M709.4,147.6h0M709.5,151.5h0M709.6,152.7h0M709.8,157.6h0M709.9,161.9h0M710.0,160.9h0M710.1,166.7h0M710.2,168.5h0M710.4,172.4h0M710.5,174.4h0M710.6,174.1h0M710.8,175.6h0M710.9,177.1h0M711.0,175.6h0M711.1,173.2h0M711.2,169.9h0M711.4,169.0h0M711.5,163.7h0M711.6,161.7h0M711.8,160.6h0M711.9,157.4h0M712.0,152.8h0M712.1,153.9h0M712.2,147.3h0M712.4,150.0h0M712.5,150.4h0M712.6,145.4h0M712.8,141.6h0M712.9,137.5h0M713.0,131.1h0M713.1,132.9h0M713.2,130.6h0M713.4,132.0h0M713.5,132.2h0M713.6,132.8h0M713.8,136.2h0M713.9,136.9h0M714.0,138.9h0M714.1,140.1h0M714.2,141.9h0M714.4,143.5h0M714.5,146.5h0M714.6,145.6h0M714.8,151.5h0M714.9,154.8h0M715.0,153.6h0M715.1,157.8h0M715.2,159.1h0M715.4,159.6h0M715.5,162.3h0M715.6,163.5h0M715.8,163.8h0M715.9,163.3h0M716.0,161.1h0M716.1,161.8h0M716.2,161.9h0M716.4,161.4h0M716.5,157.7h0M716.6,154.7h0M716.8,152.4h0M716.9,148.5h0M717.0,147.5h0M717.1,145.3h0M717.2,143.4h0M717.4,144.3h0M717.5,144.5h0M717.6,143.2h0M717.8,141.9h0M717.9,137.8h0M718.0,134.6h0M718.1,131.4h0M718.2,129.2h0M718.4,131.6h0M718.5,133.7h0M718.6,129.9h0M718.8,131.3h0M718.9,132.4h0M719.0,131.4h0M719.1,130.0h0M719.2,132.4h0M719.4,135.0h0M719.5,135.9h0M719.6,134.3h0M719.8,135.4h0M719.9,133.6h0M720.0,134.2h0M720.1,135.9h0M720.2,136.2h0M720.4,137.3h0M720.5,136.4h0M720.6,137.6h0M720.8,138.4h0M720.9,138.1h0M721.0,135.6h0M721.1,135.6h0M721.2,133.7h0M721.4,131.3h0M721.5,129.9h0M721.6,127.6h0M721.8,128.5h0M721.9,126.7h0M722.0,125.0h0M722.1,124.0h0M722.2,123.0h0M722.4,122.8h0M722.5,124.3h0M722.6,121.5h0M722.8,120.7h0M722.9,118.7h0M723.0,119.1h0M723.1,118.1h0M723.2,117.3h0M723.4,119.4h0M723.5,122.3h0M723.6,120.9h0M723.8,122.8h0M723.9,124.7h0M724.0,128.2h0M724.1,127.8h0M724.2,127.9h0M724.4,130.5h0M724.5,131.7h0M724.6,134.0h0M724.8,135.1h0M724.9,136.6h0M725.0,139.0h0M725.1,139.8h0M725.2,141.6h0M725.4,141.8h0M725.5,144.1h0M725.6,141.9h0M725.8,139.2h0M725.9,139.2h0M726.0,138.5h0M726.1,137.9h0M726.2,137.5h0M726.4,135.7h0M726.5,133.7h0M726.6,130.6h0M726.8,129.5h0M726.9,127.7h0M727.0,126.2h0M727.1,122.2h0M727.2,121.1h0M727.4,120.9h0M727.5,121.5h0M727.6,119.8h0M727.8,119.0h0M727.9,117.5h0M728.0,117.1h0M728.1,117.5h0M728.2,119.9h0M728.4,122.0h0M728.5,124.2h0M728.6,128.3h0M728.8,131.2h0M728.9,133.0h0M729.0,141.2h0M729.1,144.3h0M729.2,145.1h0M729.4,150.7h0M729.5,151.6h0M729.6,152.1h0M729.8,153.8h0M729.9,156.1h0M730.0,155.7h0M730.1,160.4h0M730.2,158.7h0M730.4,165.0h0M730.5,163.9h0M730.6,170.1h0M730.8,171.2h0M730.9,173.2h0M731.0,174.4h0M731.1,174.4h0M731.2,177.3h0M731.4,181.2h0M731.5,180.6h0M731.6,178.9h0M731.8,181.9h0M731.9,182.8h0M732.0,183.0h0M732.1,179.4h0M732.2,173.6h0M732.4,174.2h0M732.5,174.9h0M732.6,175.3h0M732.8,172.0h0M732.9,175.8h0M733.0,173.3h0M733.1,171.1h0M733.2,171.4h0M733.4,170.7h0M733.5,173.6h0M733.6,171.2h0M733.8,169.9h0M733.9,171.7h0M734.0,174.7h0M734.1,176.5h0M734.2,181.0h0M734.4,180.9h0M734.5,183.7h0M734.6,190.1h0M734.8,194.0h0M734.9,195.1h0M735.0,198.2h0M735.1,198.2h0M735.2,198.8h0M735.4,202.7h0M735.5,208.6h0M735.6,210.7h0M735.8,210.6h0M735.9,214.7h0M736.0,215.4h0M736.1,216.3h0M736.2,219.2h0M736.4,221.5h0M736.5,228.1h0M736.6,233.0h0M736.8,232.4h0M736.9,231.5h0M737.0,232.3h0M737.1,230.2h0M737.2,230.1h0M737.4,228.8h0M737.5,226.9h0M737.6,224.2h0M737.8,221.4h0M737.9,221.5h0M738.0,220.9h0M738.1,216.9h0M738.2,212.7h0M738.4,211.7h0M738.5,211.8h0M738.6,207.3h0M738.8,205.1h0M738.9,207.0h0M739.0,207.1h0M739.1,210.6h0M739.2,205.7h0M739.4,204.1h0M739.5,200.3h0M739.6,199.6h0M739.8,194.9h0M739.9,195.0h0M740.0,192.9h0M740.1,195.9h0M740.2,198.2h0M740.4,201.8h0M740.5,200.3h0M740.6,203.3h0M740.8,206.9h0M740.9,208.8h0M741.0,210.4h0M741.1,209.6h0M741.2,212.5h0M741.4,212.0h0M741.5,213.4h0M741.6,213.6h0M741.8,212.6h0M741.9,216.4h0M742.0,216.6h0M742.1,216.7h0M742.2,217.2h0M742.4,218.5h0M742.5,220.7h0M742.6,218.5h0M742.8,219.1h0M742.9,220.6h0M743.0,224.1h0M743.1,220.1h0M743.2,219.1h0M743.4,217.7h0M743.5,217.5h0M743.6,220.1h0M743.8,216.4h0M743.9,216.6h0M744.0,216.4h0M744.1,213.7h0M744.2,210.5h0M744.4,212.5h0M744.5,208.3h0M744.6,203.6h0M744.8,200.2h0M744.9,197.5h0M745.0,192.2h0M745.1,192.3h0M745.2,191.4h0M745.4,185.3h0M745.5,184.2h0M745.6,182.4h0M745.8,182.1h0M745.9,178.9h0M746.0,177.0h0M746.1,181.2h0M746.2,182.3h0M746.4,186.5h0M746.5,186.2h0M746.6,187.5h0M746.8,188.7h0M746.9,192.9h0M747.0,191.3h0M747.1,194.4h0M747.2,196.2h0M747.4,197.9h0M747.5,202.7h0M747.6,199.3h0M747.8,200.9h0M747.9,203.0h0M748.0,206.9h0M748.1,205.3h0M748.2,206.6h0M748.4,210.1h0M748.5,208.3h0M748.6,211.8h0M748.8,215.1h0M748.9,214.8h0M749.0,216.9h0M749.1,214.1h0M749.2,216.5h0M749.4,217.2h0M749.5,216.4h0M749.6,220.3h0M749.8,219.5h0M749.9,214.1h0M750.0,214.0h0M750.1,210.9h0M750.2,209.7h0M750.4,207.9h0M750.5,206.2h0M750.6,210.0h0M750.8,207.0h0M750.9,203.7h0M751.0,206.4h0M751.1,207.9h0M751.2,207.8h0M751.4,209.7h0M751.5,207.6h0M751.6,205.0h0M751.8,205.2h0M751.9,202.8h0M752.0,201.2h0M752.1,201.2h0M752.2,197.4h0M752.4,194.6h0M752.5,192.8h0M752.6,192.4h0M752.8,189.8h0M752.9,190.8h0M753.0,189.3h0M753.1,190.4h0M753.2,191.3h0M753.4,195.2h0M753.5,197.5h0M753.6,197.9h0M753.8,198.9h0M753.9,200.5h0M754.0,204.6h0M754.1,205.0h0M754.2,210.2h0M754.4,212.4h0M754.5,215.7h0M754.6,217.6h0M754.8,224.0h0M754.9,228.0h0M755.0,233.2h0M755.1,234.3h0M755.2,237.0h0M755.4,239.0h0M755.5,247.4h0M755.6,248.7h0M755.8,250.7h0M755.9,253.3h0M756.0,258.2h0M756.1,258.8h0M756.2,258.9h0M756.4,259.2h0M756.5,259.6h0M756.6,259.8h0M756.8,258.7h0M756.9,259.7h0M757.0,255.8h0M757.1,250.7h0M757.2,247.3h0M757.4,244.9h0M757.5,241.2h0M757.6,236.9h0M757.8,234.0h0M757.9,233.7h0M758.0,229.0h0M758.1,224.8h0M758.2,221.5h0M758.4,216.8h0M758.5,211.5h0M758.6,207.0h0M758.8,202.0h0M758.9,201.1h0M759.0,192.5h0M759.1,191.1h0M759.2,192.4h0M759.4,191.2h0M759.5,189.6h0M759.6,189.1h0M759.8,190.0h0M759.9,190.5h0M760.0,191.0h0M760.1,192.4h0M760.2,194.7h0M760.4,198.6h0M760.5,196.1h0M760.6,196.6h0M760.8,198.9h0M760.9,199.9h0M761.0,200.2h0M761.1,200.4h0M761.2,199.5h0M761.4,198.2h0M761.5,197.3h0M761.6,200.1h0M761.8,198.4h0M761.9,195.7h0M762.0,191.8h0M762.1,188.8h0M762.2,187.9h0M762.4,188.7h0M762.5,187.7h0M762.6,189.0h0M762.8,185.7h0M762.9,184.1h0M763.0,182.4h0M763.1,181.3h0M763.2,179.6h0M763.4,177.6h0M763.5,177.2h0M763.6,175.8h0M763.8,174.5h0M763.9,173.0h0M764.0,170.6h0M764.1,169.2h0M764.2,167.7h0M764.4,165.8h0M764.5,167.4h0M764.6,166.9h0M764.8,168.3h0M764.9,167.2h0M765.0,168.5h0M765.1,169.9h0M765.2,170.3h0M765.4,173.3h0M765.5,172.8h0M765.6,173.6h0M765.8,177.3h0M765.9,178.2h0M766.0,180.8h0M766.1,182.6h0M766.2,185.9h0M766.4,185.0h0M766.5,185.2h0M766.6,187.8h0M766.8,186.9h0M766.9,190.0h0M767.0,190.2h0M767.1,189.8h0M767.2,190.2h0M767.4,189.5h0M767.5,190.5h0M767.6,189.8h0M767.8,190.0h0M767.9,189.4h0M768.0,190.0h0M768.1,189.5h0M768.2,188.7h0M768.4,188.0h0M768.5,188.8h0M768.6,189.9h0M768.8,186.8h0M768.9,184.4h0M769.0,183.2h0M769.1,184.8h0M769.2,183.8h0M769.4,182.4h0M769.5,180.7h0M769.6,184.1h0M769.8,184.1h0M769.9,185.7h0M770.0,188.1h0M770.1,187.2h0M770.2,189.1h0M770.4,190.9h0M770.5,194.1h0M770.6,197.5h0M770.8,198.2h0M770.9,199.8h0M771.0,200.9h0M771.1,204.6h0M771.2,204.9h0M771.4,206.7h0M771.5,209.6h0M771.6,210.2h0M771.8,211.8h0M771.9,213.0h0M772.0,216.5h0M772.1,214.3h0M772.2,214.7h0M772.4,216.7h0M772.5,215.5h0M772.6,217.2h0M772.8,217.2h0M772.9,216.8h0M773.0,218.3h0M773.1,215.8h0M773.2,217.2h0M773.4,216.7h0M773.5,216.1h0M773.6,213.2h0M773.8,213.2h0M773.9,208.0h0M774.0,210.0h0M774.1,206.0h0M774.2,206.7h0M774.4,203.5h0M774.5,205.8h0M774.6,204.1h0M774.8,204.3h0M774.9,206.1h0M775.0,208.1h0M775.1,210.7h0M775.2,213.6h0M775.4,215.9h0M775.5,217.5h0M775.6,218.8h0M775.8,219.6h0M775.9,221.0h0M776.0,222.8h0M776.1,221.9h0M776.2,224.6h0M776.4,225.4h0M776.5,227.3h0M776.6,227.6h0M776.8,229.6h0M776.9,233.0h0M777.0,235.7h0M777.1,234.8h0M777.2,237.7h0M777.4,236.7h0M777.5,233.3h0M777.6,232.9h0M777.8,232.2h0M777.9,228.0h0M778.0,227.7h0M778.1,226.8h0M778.2,223.8h0M778.4,222.8h0M778.5,222.3h0M778.6,223.4h0M778.8,221.7h0M778.9,221.1h0M779.0,220.3h0M779.1,221.8h0M779.2,219.3h0M779.4,216.7h0M779.5,214.7h0M779.6,214.4h0M779.8,214.8h0M779.9,214.6h0M780.0,215.9h0M780.1,216.3h0M780.2,218.9h0M780.4,221.8h0M780.5,221.2h0M780.6,221.8h0M780.8,222.1h0M780.9,224.4h0M781.0,224.1h0M781.1,225.1h0M781.2,227.4h0M781.4,228.3h0M781.5,226.3h0M781.6,228.2h0M781.8,229.7h0M781.9,231.1h0M782.0,234.2h0M782.1,233.9h0M782.2,236.1h0M782.4,237.8h0M782.5,238.9h0M782.6,239.0h0M782.8,238.5h0M782.9,238.3h0M783.0,235.1h0M783.1,234.8h0M783.2,231.0h0M783.4,229.0h0M783.5,225.4h0M783.6,224.6h0M783.8,225.1h0M783.9,225.1h0M784.0,222.3h0M784.1,220.0h0M784.2,219.4h0M784.4,215.8h0M784.5,215.1h0M784.6,212.3h0M784.8,209.4h0M784.9,206.4h0M785.0,205.3h0M785.1,208.1h0M785.2,211.0h0M785.4,211.9h0M785.5,214.2h0M785.6,216.3h0M785.8,216.0h0M785.9,217.3h0M786.0,218.5h0M786.1,221.1h0M786.2,220.6h0M786.4,223.5h0M786.5,227.0h0M786.6,230.8h0M786.8,228.9h0M786.9,230.1h0M787.0,231.6h0M787.1,233.3h0M787.2,235.4h0M787.4,235.2h0M787.5,233.7h0M787.6,230.7h0M787.8,230.1h0M787.9,228.5h0M788.0,229.4h0M788.1,228.7h0M788.2,225.0h0M788.4,225.8h0M788.5,223.4h0M788.6,221.9h0M788.8,222.9h0M788.9,221.3h0M789.0,219.7h0M789.1,216.4h0M789.2,217.7h0M789.4,215.4h0M789.5,215.6h0M789.6,214.5h0M789.8,218.9h0M789.9,221.1h0M790.0,224.5h0M790.1,225.4h0M790.2,224.9h0M790.4,227.3h0M790.5,229.0h0M790.6,229.5h0M790.8,233.9h0M790.9,237.2h0M791.0,240.1h0M791.1,240.5h0M791.2,242.6h0M791.4,246.2h0M791.5,249.4h0M791.6,251.6h0M791.8,252.4h0M791.9,252.2h0M792.0,252.3h0M792.1,247.3h0M792.2,246.9h0M792.4,246.7h0M792.5,243.8h0M792.6,244.7h0M792.8,244.4h0M792.9,243.4h0M793.0,244.5h0M793.1,243.3h0M793.2,241.2h0M793.4,239.9h0M793.5,239.1h0M793.6,238.9h0M793.8,237.9h0M793.9,233.7h0M794.0,233.0h0M794.1,231.5h0M794.2,232.8h0M794.4,234.3h0M794.5,234.4h0M794.6,236.3h0M794.8,235.3h0M794.9,237.2h0M795.0,237.3h0M795.1,237.9h0M795.2,239.1h0M795.4,240.7h0M795.5,240.6h0M795.6,240.0h0M795.8,242.6h0M795.9,245.0h0M796.0,246.1h0M796.1,249.7h0M796.2,249.2h0M796.4,250.6h0M796.5,250.9h0M796.6,251.2h0M796.8,249.3h0M796.9,248.4h0M797.0,248.9h0M797.1,247.9h0M797.2,246.4h0M797.4,245.6h0M797.5,244.4h0M797.6,244.6h0M797.8,242.9h0M797.9,240.1h0M798.0,239.5h0M798.1,237.2h0M798.2,236.4h0M798.4,234.7h0M798.5,234.5h0M798.6,234.0h0M798.8,234.6h0M798.9,235.3h0M799.0,237.2h0M799.1,237.0h0M799.2,237.9h0M799.4,240.6h0M799.5,242.7h0M799.6,242.8h0M799.8,243.7h0M799.9,246.0h0M800.0,247.4h0M800.1,251.6h0M800.2,251.2h0M800.4,251.7h0M800.5,249.2h0M800.6,249.1h0M800.8,249.9h0M800.9,252.1h0M801.0,250.3h0M801.1,249.7h0M801.2,250.2h0M801.4,249.5h0M801.5,247.6h0M801.6,244.8h0M801.8,243.6h0M801.9,244.0h0M802.0,243.8h0M802.1,241.8h0M802.2,239.3h0M802.4,240.3h0M802.5,239.3h0M802.6,238.4h0M802.8,235.3h0M802.9,235.7h0M803.0,234.7h0M803.1,232.5h0M803.2,232.9h0M803.4,232.0h0M803.5,233.4h0M803.6,235.1h0M803.8,236.2h0M803.9,238.1h0M804.0,239.6h0M804.1,241.4h0M804.2,242.3h0M804.4,242.9h0M804.5,246.1h0M804.6,247.7h0M804.8,248.8h0M804.9,248.8h0M805.0,253.4h0M805.1,252.8h0M805.2,253.1h0M805.4,254.6h0M805.5,256.5h0M805.6,255.4h0M805.8,252.2h0M805.9,250.7h0M806.0,251.0h0M806.1,258.1h0M806.2,268.6h0M806.4,274.9h0M806.5,282.1h0M806.6,281.1h0M806.8,280.5h0M806.9,278.1h0M807.0,276.9h0M807.1,274.9h0M807.2,272.8h0M807.4,272.8h0M807.5,269.4h0M807.6,267.8h0M807.8,268.2h0M807.9,270.6h0M808.0,274.1h0M808.1,276.2h0M808.2,276.1h0M808.4,279.7h0M808.5,283.6h0M808.6,284.1h0M808.8,284.4h0M808.9,289.3h0M809.0,289.6h0M809.1,291.6h0M809.2,291.8h0M809.4,294.1h0M809.5,294.3h0M809.6,294.9h0M809.8,298.7h0M809.9,299.9h0M810.0,301.4h0M810.1,299.0h0M810.2,297.3h0M810.4,295.5h0M810.5,295.1h0M810.6,292.4h0M810.8,290.8h0M810.9,288.5h0M811.0,286.6h0M811.1,283.8h0M811.2,283.3h0M811.4,282.1h0M811.5,281.1h0M811.6,281.2h0M811.8,277.8h0M811.9,278.9h0M812.0,275.2h0M812.1,273.8h0M812.2,270.5h0M812.4,271.0h0M812.5,272.2h0M812.6,274.4h0M812.8,274.8h0M812.9,275.9h0M813.0,278.7h0M813.1,280.9h0M813.2,282.9h0M813.4,284.6h0M813.5,286.4h0M813.6,288.0h0M813.8,288.3h0M813.9,290.0h0M814.0,290.6h0M814.1,289.7h0M814.2,293.0h0M814.4,292.6h0M814.5,291.9h0M814.6,288.7h0M814.8,290.0h0M814.9,287.0h0M815.0,285.3h0M815.1,284.4h0M815.2,283.2h0M815.4,281.7h0M815.5,279.7h0M815.6,277.5h0M815.8,274.8h0M815.9,273.8h0M816.0,272.8h0M816.1,273.2h0M816.2,272.0h0M816.4,269.5h0M816.5,268.6h0M816.6,267.5h0M816.8,267.9h0M816.9,270.6h0M817.0,269.9h0M817.1,271.6h0M817.2,274.4h0M817.4,275.3h0M817.5,275.6h0M817.6,277.4h0M817.8,280.3h0M817.9,281.0h0M818.0,281.9h0M818.1,282.3h0M818.2,285.8h0M818.4,285.3h0M818.5,286.4h0M818.6,287.7h0M818.8,287.5h0M818.9,290.4h0M819.0,288.0h0M819.1,285.3h0M819.2,283.3h0M819.4,285.6h0M819.5,282.4h0M819.6,281.8h0M819.8,280.4h0M819.9,278.3h0M820.0,277.4h0M820.1,279.3h0M820.2,277.5h0M820.4,277.1h0M820.5,275.2h0M820.6,273.6h0M820.8,273.2h0M820.9,269.6h0M821.0,268.8h0M821.1,270.1h0M821.2,269.2h0M821.4,268.3h0M821.5,268.2h0M821.6,268.7h0M821.8,272.4h0M821.9,272.8h0M822.0,273.8h0M822.1,274.8h0M822.2,275.4h0M822.4,278.5h0M822.5,281.6h0M822.6,281.5h0M822.8,284.5h0M822.9,284.4h0M823.0,288.3h0M823.1,289.4h0M823.2,286.2h0M823.4,287.5h0M823.5,286.4h0M823.6,284.5h0M823.8,283.1h0M823.9,281.6h0M824.0,283.1h0M824.1,282.1h0M824.2,282.3h0M824.4,284.5h0M824.5,284.5h0M824.6,286.2h0M824.8,280.3h0M824.9,283.5h0M825.0,287.6h0M825.1,292.3h0M825.2,294.6h0M825.4,295.7h0M825.5,293.5h0M825.6,294.2h0M825.8,292.4h0M825.9,291.5h0M826.0,287.7h0M826.1,283.8h0M826.2,283.6h0M826.4,279.4h0M826.5,278.3h0M826.6,279.0h0M826.8,286.0h0M826.9,284.7h0M827.0,286.3h0M827.1,283.4h0M827.2,282.6h0M827.4,282.4h0M827.5,281.6h0M827.6,285.2h0M827.8,287.1h0M827.9,286.8h0M828.0,282.6h0M828.1,279.7h0M828.2,277.5h0M828.4,274.4h0M828.5,275.9h0M828.6,273.4h0M828.8,274.5h0M828.9,269.6h0M829.0,270.5h0M829.1,267.2h0M829.2,265.3h0M829.4,263.7h0M829.5,261.7h0M829.6,259.0h0M829.8,258.5h0M829.9,257.5h0M830.0,257.0h0M830.1,260.0h0M830.2,261.6h0M830.4,259.5h0M830.5,260.8h0M830.6,263.4h0M830.8,265.5h0M830.9,265.5h0M831.0,268.4h0M831.1,269.3h0M831.2,268.8h0M831.4,270.5h0M831.5,271.6h0M831.6,276.9h0M831.8,278.0h0M831.9,276.0h0M832.0,276.0h0M832.1,276.5h0M832.2,277.1h0M832.4,282.1h0M832.5,280.8h0M832.6,287.0h0M832.8,292.9h0M832.9,294.7h0M833.0,298.7h0M833.1,299.6h0M833.2,298.5h0M833.4,298.8h0M833.5,297.4h0M833.6,298.9h0M833.8,297.7h0M833.9,298.2h0M834.0,297.8h0M834.1,294.3h0M834.2,294.5h0M834.4,293.5h0M834.5,293.5h0M834.6,292.6h0M834.8,293.5h0M834.9,292.5h0M835.0,292.9h0M835.1,291.6h0M835.2,293.0h0M835.4,291.7h0M835.5,292.0h0M835.6,290.9h0M835.8,291.5h0M835.9,292.3h0M836.0,292.7h0M836.1,293.7h0M836.2,296.5h0M836.4,289.3h0M836.5,293.9h0M836.6,289.4h0M836.8,292.4h0M836.9,291.2h0M837.0,297.2h0M837.1,294.9h0M837.2,299.9h0M837.4,301.4h0M837.5,303.2h0M837.6,308.1h0M837.8,308.2h0M837.9,314.2h0M838.0,308.7h0M838.1,305.6h0M838.2,303.7h0M838.4,298.8h0M838.5,296.6h0M838.6,300.2h0M838.8,292.9h0M838.9,293.6h0M839.0,295.0h0M839.1,293.3h0M839.2,294.9h0M839.4,292.3h0M839.5,301.2h0M839.6,298.3h0M839.8,299.7h0M839.9,300.2h0M840.0,294.6h0M840.1,291.8h0M840.2,291.2h0M840.4,294.3h0M840.5,289.7h0M840.6,290.4h0M840.8,292.3h0M840.9,289.4h0M841.0,289.8h0M841.1,292.9h0M841.2,294.3h0M841.4,289.4h0M841.5,288.9h0M841.6,291.0h0M841.8,294.8h0M841.9,302.9h0M842.0,299.9h0M842.1,301.7h0M842.2,302.5h0M842.4,303.2h0M842.5,301.2h0M842.6,297.3h0M842.8,296.4h0M842.9,297.4h0M843.0,299.9h0M843.1,297.8h0M843.2,300.8h0M843.4,304.0h0M843.5,300.3h0M843.6,294.7h0M843.8,295.1h0M843.9,292.9h0M844.0,293.3h0M844.1,291.5h0M844.2,290.0h0M844.4,288.7h0M844.5,288.6h0M844.6,286.7h0M844.8,287.7h0M844.9,290.7h0M845.0,291.7h0M845.1,287.3h0M845.2,292.5h0M845.4,293.8h0M845.5,294.5h0M845.6,290.6h0M845.8,289.0h0M845.9,288.6h0M846.0,287.3h0M846.1,285.2h0M846.2,289.7h0M846.4,287.2h0M846.5,288.8h0M846.6,288.1h0M846.8,285.7h0M846.9,286.8h0M847.0,285.8h0M847.1,290.0h0M847.2,289.6h0M847.4,294.4h0M847.5,299.1h0M847.6,298.2h0M847.8,300.7h0M847.9,303.6h0M848.0,300.6h0M848.1,302.3h0M848.2,298.5h0M848.4,297.6h0M848.5,298.7h0M848.6,297.0h0M848.8,299.2h0M848.9,298.8h0M849.0,301.4h0M849.1,304.6h0M849.2,305.3h0M849.4,306.5h0M849.5,304.9h0M849.6,306.2h0M849.8,309.2h0M849.9,311.3h0M850.0,312.4h0M850.1,310.9h0M850.2,314.5h0M850.4,316.1h0M850.5,317.5h0M850.6,316.5h0M850.8,316.1h0M850.9,314.6h0M851.0,312.3h0M851.1,311.6h0M851.2,310.7h0M851.4,309.6h0M851.5,308.5h0M851.6,305.7h0M851.8,305.1h0M851.9,304.1h0M852.0,304.0h0M852.1,300.5h0M852.2,301.3h0M852.4,297.4h0M852.5,296.9h0M852.6,293.9h0M852.8,294.1h0M852.9,294.1h0M853.0,293.6h0M853.1,295.4h0M853.2,297.4h0M853.4,299.0h0M853.5,299.5h0M853.6,300.2h0M853.8,298.6h0M853.9,299.3h0M854.0,301.6h0M854.1,303.7h0M854.2,303.3h0M854.4,302.3h0M854.5,303.7h0M854.6,307.4h0M854.8,307.7h0M854.9,307.4h0M855.0,307.3h0M855.1,308.5h0M855.2,306.9h0M855.4,307.7h0M855.5,305.2h0M855.6,304.7h0M855.8,303.4h0M855.9,302.4h0M856.0,301.7h0M856.1,298.7h0M856.2,295.9h0M856.4,293.6h0M856.5,293.3h0M856.6,291.4h0M856.8,287.7h0M856.9,287.7h0M857.0,284.8h0M857.1,282.2h0M857.2,279.6h0M857.4,278.4h0M857.5,280.4h0M857.6,283.8h0M857.8,284.9h0M857.9,286.1h0M858.0,286.4h0M858.1,285.9h0M858.2,286.9h0M858.4,289.5h0M858.5,287.1h0M858.6,287.3h0M858.8,290.4h0M858.9,289.5h0M859.0,288.2h0M859.1,289.2h0M859.2,289.7h0M859.4,291.5h0M859.5,291.6h0M859.6,289.4h0M859.8,285.7h0M859.9,284.6h0M860.0,287.7h0M860.1,292.0h0M860.2,290.5h0M860.4,288.6h0M860.5,284.5h0M860.6,280.5h0M860.8,278.5h0M860.9,274.3h0M861.0,274.0h0M861.1,272.8h0M861.2,272.4h0M861.4,270.9h0M861.5,271.7h0M861.6,274.1h0M861.8,272.3h0M861.9,272.0h0M862.0,274.3h0M862.1,275.4h0M862.2,276.6h0M862.4,273.0h0M862.5,271.6h0M862.6,271.3h0M862.8,270.7h0M862.9,274.8h0M863.0,278.2h0M863.1,274.5h0M863.2,273.0h0M863.4,271.2h0M863.5,267.0h0M863.6,262.7h0M863.8,266.2h0M863.9,270.4h0M864.0,267.7h0M864.1,276.7h0M864.2,275.2h0M864.4,271.3h0M864.5,268.2h0M864.6,265.5h0M864.8,266.6h0M864.9,265.4h0M865.0,261.8h0M865.1,260.6h0M865.2,258.2h0M865.4,255.3h0M865.5,256.4h0M865.6,253.5h0M865.8,250.2h0M865.9,247.7h0M866.0,246.7h0M866.1,242.4h0M866.2,244.4h0M866.4,243.2h0M866.5,244.0h0M866.6,243.1h0M866.8,246.0h0M866.9,246.4h0M867.0,248.1h0M867.1,250.7h0M867.2,251.0h0M867.4,251.8h0M867.5,253.3h0M867.6,253.3h0M867.8,254.9h0M867.9,257.2h0M868.0,259.2h0M868.1,259.5h0M868.2,261.6h0M868.4,262.8h0M868.5,261.9h0M868.6,261.2h0M868.8,263.4h0M868.9,263.3h0M869.0,259.1h0M869.1,256.9h0M869.2,254.7h0M869.4,251.6h0M869.5,249.3h0M869.6,248.7h0M869.8,247.1h0M869.9,243.5h0M870.0,243.2h0M870.1,241.9h0M870.2,241.6h0M870.4,237.5h0M870.5,238.1h0M870.6,237.1h0M870.8,236.1h0M870.9,235.4h0M871.0,234.1h0M871.1,233.7h0M871.2,235.5h0M871.4,236.5h0M871.5,238.1h0M871.6,239.7h0M871.8,239.4h0M871.9,240.5h0M872.0,239.1h0M872.1,241.5h0M872.2,242.4h0M872.4,243.8h0M872.5,244.2h0M872.6,248.1h0M872.8,249.6h0M872.9,251.3h0M873.0,251.7h0M873.1,254.6h0M873.2,256.0h0M873.4,255.2h0M873.5,253.6h0M873.6,252.5h0M873.8,249.3h0M873.9,247.9h0M874.0,246.5h0M874.1,246.3h0M874.2,243.4h0M874.4,242.9h0M874.5,242.1h0M874.6,242.8h0M874.8,241.1h0M874.9,239.2h0M875.0,238.9h0M875.1,236.1h0M875.2,236.5h0M875.4,236.4h0M875.5,234.3h0M875.6,238.1h0M875.8,235.8h0M875.9,238.8h0M876.0,236.7h0M876.1,238.0h0M876.2,238.6h0M876.4,237.9h0M876.5,239.2h0M876.6,239.6h0M876.8,237.6h0M876.9,237.9h0M877.0,239.7h0M877.1,239.8h0M877.2,240.3h0M877.4,244.7h0M877.5,245.2h0M877.6,245.7h0M877.8,246.4h0M877.9,247.3h0M878.0,242.8h0M878.1,239.0h0M878.2,237.2h0M878.4,236.9h0M878.5,233.9h0M878.6,233.7h0M878.8,229.8h0M878.9,229.2h0M879.0,226.2h0M879.1,222.8h0M879.2,222.5h0M879.4,219.3h0M879.5,219.8h0M879.6,217.1h0M879.8,212.6h0M879.9,210.3h0M880.0,208.7h0M880.1,209.9h0M880.2,212.8h0M880.4,216.0h0M880.5,215.2h0M880.6,218.4h0M880.8,219.8h0M880.9,222.3h0M881.0,222.9h0M881.1,224.7h0M881.2,229.7h0M881.4,230.0h0M881.5,229.3h0M881.6,232.2h0M881.8,234.0h0M881.9,237.2h0M882.0,237.2h0M882.1,243.0h0M882.2,246.3h0M882.4,247.8h0M882.5,249.3h0M882.6,249.3h0M882.8,249.6h0M882.9,250.1h0M883.0,252.7h0M883.1,252.2h0M883.2,251.0h0M883.4,248.7h0M883.5,248.1h0M883.6,244.0h0M883.8,242.0h0M883.9,243.1h0M884.0,241.2h0M884.1,239.8h0M884.2,241.4h0M884.4,239.9h0M884.5,236.6h0M884.6,236.4h0M884.8,237.1h0M884.9,235.5h0M885.0,235.4h0M885.1,234.2h0M885.2,233.3h0M885.4,231.4h0M885.5,232.2h0M885.6,232.5h0M885.8,232.0h0M885.9,231.3h0M886.0,229.7h0M886.1,232.6h0M886.2,234.4h0M886.4,236.7h0M886.5,237.4h0M886.6,240.0h0M886.8,241.7h0M886.9,243.7h0M887.0,246.5h0M887.1,251.3h0M887.2,251.0h0M887.4,253.6h0M887.5,253.6h0M887.6,253.5h0M887.8,255.0h0M887.9,256.5h0M888.0,257.1h0M888.1,259.4h0M888.2,258.2h0M888.4,263.0h0M888.5,262.6h0M888.6,265.2h0M888.8,264.3h0M888.9,264.9h0M889.0,266.2h0M889.1,263.5h0M889.2,262.3h0M889.4,259.8h0M889.5,261.2h0M889.6,259.7h0M889.8,257.3h0M889.9,256.6h0M890.0,253.9h0M890.1,251.3h0M890.2,249.5h0M890.4,249.4h0M890.5,246.3h0M890.6,245.0h0M890.8,244.0h0M890.9,241.2h0M891.0,241.0h0M891.1,241.4h0M891.2,241.4h0M891.4,241.5h0M891.5,239.0h0M891.6,237.9h0M891.8,238.8h0M891.9,237.2h0M892.0,238.5h0M892.1,239.9h0M892.2,242.6h0M892.4,243.1h0M892.5,244.6h0M892.6,245.6h0M892.8,250.2h0M892.9,252.0h0M893.0,249.5h0M893.1,248.1h0M893.2,243.5h0M893.4,238.5h0M893.5,237.5h0M893.6,235.2h0M893.8,235.6h0M893.9,234.4h0M894.0,233.5h0M894.1,233.4h0M894.2,229.1h0M894.4,223.6h0M894.5,221.0h0M894.6,216.7h0M894.8,214.6h0M894.9,216.0h0M895.0,218.1h0M895.1,217.9h0M895.2,219.2h0M895.4,222.5h0M895.5,223.0h0M895.6,221.9h0M895.8,223.7h0M895.9,225.1h0M896.0,225.5h0M896.1,227.3h0M896.2,229.8h0M896.4,231.8h0M896.5,231.5h0M896.6,231.1h0M896.8,231.2h0M896.9,234.9h0M897.0,234.6h0M897.1,236.8h0M897.2,239.8h0M897.4,240.4h0M897.5,239.5h0M897.6,241.8h0M897.8,243.0h0M897.9,243.2h0M898.0,243.0h0M898.1,243.7h0M898.2,244.1h0M898.4,245.0h0M898.5,244.1h0M898.6,245.3h0M898.8,246.2h0M898.9,248.1h0M899.0,249.8h0M899.1,250.0h0M899.2,252.4h0M899.4,251.0h0M899.5,249.8h0M899.6,247.6h0M899.8,245.7h0M899.9,243.3h0M900.0,244.3h0M900.1,244.8h0M900.2,242.4h0M900.4,239.9h0M900.5,240.1h0M900.6,237.6h0M900.8,236.5h0M900.9,235.9h0M901.0,232.9h0M901.1,228.9h0M901.2,225.5h0M901.4,228.0h0M901.5,225.3h0M901.6,223.7h0M901.8,220.6h0M901.9,220.8h0M902.0,221.7h0M902.1,222.0h0M902.2,225.1h0M902.4,224.6h0M902.5,227.4h0M902.6,227.9h0M902.8,228.5h0M902.9,229.9h0M903.0,230.3h0M903.1,230.5h0M903.2,232.4h0M903.4,233.9h0M903.5,232.5h0M903.6,229.7h0M903.8,231.0h0M903.9,229.5h0M904.0,229.3h0M904.1,233.7h0M904.2,237.8h0M904.4,234.2h0M904.5,233.0h0M904.6,233.6h0M904.8,230.6h0M904.9,231.2h0M905.0,227.3h0M905.1,226.3h0M905.2,225.5h0M905.4,221.8h0M905.5,220.5h0M905.6,220.5h0M905.8,220.9h0M905.9,216.6h0M906.0,216.7h0M906.1,214.9h0M906.2,214.3h0M906.4,211.4h0M906.5,210.2h0M906.6,213.0h0M906.8,212.2h0M906.9,210.6h0M907.0,211.4h0M907.1,216.0h0M907.2,217.3h0M907.4,220.5h0M907.5,220.9h0M907.6,223.3h0M907.8,226.3h0M907.9,226.7h0M908.0,229.5h0M908.1,232.1h0M908.2,232.2h0M908.4,233.9h0M908.5,234.7h0M908.6,233.2h0M908.8,232.7h0M908.9,233.2h0M909.0,234.0h0M909.1,235.6h0M909.2,235.7h0M909.4,236.2h0M909.5,233.7h0M909.6,230.6h0M909.8,228.8h0M909.9,228.2h0M910.0,226.4h0M910.1,222.4h0M910.2,221.4h0M910.4,219.4h0M910.5,216.9h0M910.6,214.2h0M910.8,212.8h0M910.9,214.7h0M911.0,212.1h0M911.1,208.6h0M911.2,207.7h0M911.4,206.8h0M911.5,206.0h0M911.6,204.9h0M911.8,203.1h0M911.9,205.3h0M912.0,207.9h0M912.1,210.0h0M912.2,208.6h0M912.4,210.8h0M912.5,210.5h0M912.6,210.0h0M912.8,211.9h0M912.9,212.3h0M913.0,211.6h0M913.1,213.9h0M913.2,212.8h0M913.4,213.1h0M913.5,215.1h0M913.6,218.1h0M913.8,217.7h0M913.9,216.9h0M914.0,220.8h0M914.1,220.1h0M914.2,222.9h0M914.4,222.7h0M914.5,220.8h0M914.6,219.4h0M914.8,216.5h0M914.9,214.9h0M915.0,214.6h0M915.1,210.0h0M915.2,210.9h0M915.4,208.4h0M915.5,208.8h0M915.6,206.4h0M915.8,206.8h0M915.9,205.7h0M916.0,205.1h0M916.1,203.0h0M916.2,203.0h0M916.4,199.9h0M916.5,198.4h0M916.6,195.1h0M916.8,197.0h0M916.9,196.6h0M917.0,197.0h0M917.1,199.3h0M917.2,200.8h0M917.4,201.5h0M917.5,202.9h0M917.6,204.6h0M917.8,208.1h0M917.9,209.3h0M918.0,210.4h0M918.1,209.3h0M918.2,212.0h0M918.4,213.4h0M918.5,215.9h0M918.6,216.0h0M918.8,217.7h0M918.9,217.8h0M919.0,221.3h0M919.1,222.3h0M919.2,223.5h0M919.4,221.9h0M919.5,219.6h0M919.6,219.2h0M919.8,218.8h0M919.9,218.6h0M920.0,214.7h0M920.1,216.0h0M920.2,211.7h0M920.4,209.1h0M920.5,208.7h0M920.6,205.9h0M920.8,205.6h0M920.9,202.2h0M921.0,200.1h0M921.1,201.8h0M921.2,198.8h0M921.4,196.9h0M921.5,194.7h0M921.6,194.5h0M921.8,192.4h0M921.9,194.2h0M922.0,194.1h0M922.1,194.9h0M922.2,195.2h0M922.4,197.0h0M922.5,198.3h0M922.6,199.8h0M922.8,203.4h0M922.9,203.1h0M923.0,205.8h0M923.1,207.8h0M923.2,210.3h0M923.4,211.4h0M923.5,212.8h0M923.6,212.1h0M923.8,211.9h0M923.9,212.0h0M924.0,210.4h0M924.1,213.8h0M924.2,212.9h0M924.4,213.0h0M924.5,210.1h0M924.6,209.2h0M924.8,207.3h0M924.9,207.5h0M925.0,205.5h0M925.1,206.9h0M925.2,204.6h0M925.4,207.4h0M925.5,206.4h0M925.6,207.2h0M925.8,202.6h0M925.9,202.7h0M926.0,198.5h0M926.1,196.9h0M926.2,196.7h0M926.4,193.4h0M926.5,195.6h0M926.6,191.0h0M926.8,190.8h0M926.9,189.6h0M927.0,192.9h0M927.1,194.9h0M927.2,196.5h0M927.4,196.3h0M927.5,195.0h0M927.6,194.5h0M927.8,196.4h0M927.9,197.7h0M928.0,199.7h0M928.1,200.0h0M928.2,197.5h0M928.4,200.5h0M928.5,201.6h0M928.6,201.5h0M928.8,202.0h0M928.9,202.2h0M929.0,200.2h0M929.1,203.2h0M929.2,206.2h0M929.4,204.5h0M929.5,203.7h0M929.6,201.9h0M929.8,201.5h0M929.9,201.0h0M930.0,200.7h0M930.1,197.7h0M930.2,192.2h0M930.4,190.8h0M930.5,185.1h0M930.6,182.7h0M930.8,180.4h0M930.9,176.1h0M931.0,174.0h0M931.1,173.6h0M931.2,174.5h0M931.4,170.2h0M931.5,172.0h0M931.6,169.0h0M931.8,168.1h0M931.9,167.2h0M932.0,168.9h0M932.1,169.5h0M932.2,170.8h0M932.4,169.3h0M932.5,169.6h0M932.6,171.0h0M932.8,173.1h0M932.9,173.9h0M933.0,176.4h0M933.1,175.1h0M933.2,173.2h0M933.4,173.4h0M933.5,175.0h0M933.6,175.8h0M933.8,171.4h0M933.9,171.1h0M934.0,169.7h0M934.1,171.8h0M934.2,172.6h0M934.4,172.5h0M934.5,168.4h0M934.6,166.8h0M934.8,162.8h0M934.9,160.5h0M935.0,162.6h0M935.1,161.0h0M935.2,158.1h0M935.4,158.5h0M935.5,154.9h0M935.6,154.2h0M935.8,153.8h0M935.9,150.9h0M936.0,149.9h0M936.1,149.5h0M936.2,148.2h0M936.4,146.1h0M936.5,144.7h0M936.6,147.5h0M936.8,149.9h0M936.9,149.6h0M937.0,146.4h0M937.1,148.2h0M937.2,151.0h0M937.4,150.0h0M937.5,157.1h0M937.6,156.2h0M937.8,154.1h0M937.9,157.4h0M938.0,161.1h0M938.1,157.8h0M938.2,154.2h0M938.4,153.0h0M938.5,151.9h0M938.6,150.4h0M938.8,150.3h0M938.9,148.1h0M939.0,146.5h0M939.1,150.5h0M939.2,147.8h0M939.4,147.9h0M939.5,147.3h0M601.5,97.0h0M601.5,103.5h0M601.3,126.0h0M601.2,130.5h0M601.4,138.0h0M601.0,150.0h0M601.2,157.0h0M122.0,483.0h0M285.0,411.0h0M285.5,418.0h0M285.0,425.0h0M611.5,39.4h0M627.5,52.4h0M627.4,63.0h0M473.0,440.0h0M473.0,447.0h0M756.0,276.0h0M871.0,222.0h0M871.0,228.0h0M871.0,234.0h0" stroke="#000" stroke-width="5.56" stroke-linecap="round" fill="none"/>
<path d="M120.6,488.1 120.9,488.9 121.2,489.1 121.5,487.9 121.8,488.0 122.1,488.3 122.4,487.9 122.7,488.6 123.0,489.1 123.3,488.6 123.6,489.0 123.9,489.5 124.2,488.3 124.5,486.9 124.8,487.1 125.1,485.7 125.4,483.7 125.7,483.9 126.0,482.3 126.3,481.3 126.6,481.3 126.9,481.1 127.2,479.7 127.5,480.6 127.8,480.3 128.1,479.3 128.4,479.3 128.7,480.1 129.0,479.4 129.3,480.0 129.6,479.7 129.9,479.0 130.2,479.1 130.5,479.4 130.8,479.0 131.1,478.7 131.4,479.7 131.7,479.4 132.0,479.4 132.3,480.6 132.6,480.1 132.9,480.1 133.2,480.2 133.5,479.6 133.8,479.3 134.1,478.7 134.4,478.4 134.7,477.4 135.0,477.6 135.3,477.7 135.6,476.5 135.9,476.5 136.2,476.4 136.5,475.6 136.8,475.9 137.1,475.9 137.4,474.7 137.7,475.4 138.0,475.5 138.3,473.6 138.6,474.0 138.9,473.5 139.2,472.4 139.5,472.3 139.8,473.1 140.1,473.0 140.4,474.8 140.7,477.0 141.0,477.1 141.3,479.0 141.6,481.3 141.9,480.4 142.2,480.8 142.5,480.9 142.8,479.5 143.1,477.8 143.4,477.1 143.7,475.6 144.0,474.8 144.3,476.2 144.6,475.5 144.9,475.4 145.2,476.7 145.5,476.5 145.8,475.8 146.1,476.0 146.4,476.1 146.7,475.1 147.0,476.3 147.3,476.6 147.6,476.0 147.9,477.1 148.2,477.1 148.5,476.3 148.8,475.6 149.1,475.1 149.4,472.4 149.7,472.1 150.0,471.3 150.3,470.3 150.6,471.3 150.9,472.7 151.2,473.5 151.5,475.3 151.8,476.2 152.1,476.3 152.4,476.7 152.7,477.5 153.0,476.6 153.3,476.0 153.6,477.1 153.9,476.8 154.2,476.1 154.5,477.6 154.8,477.8 155.1,476.9 155.4,477.9 155.7,477.0 156.0,476.1 156.3,475.6 156.6,474.7 156.9,472.7 157.2,472.6 157.5,471.6 157.8,470.4 158.1,470.8 158.4,470.1 158.7,469.8 159.0,469.0 159.3,470.2 159.6,468.9 159.9,469.5 160.2,470.1 160.5,469.0 160.8,469.8 161.1,470.6 161.4,469.3 161.7,468.9 162.0,469.6 162.3,468.8 162.6,469.1 162.9,469.7 163.2,469.8 163.5,469.5 163.8,470.7 164.1,470.5 164.4,470.7 164.7,470.9 165.0,470.8 165.3,469.4 165.6,469.4 165.9,469.1 166.2,467.9 166.5,468.3 166.8,468.3 167.1,467.2 167.4,467.1 167.7,467.6 168.0,467.2 168.3,466.6 168.6,467.0 168.9,466.4 169.2,466.7 169.5,466.2 169.8,465.5 170.1,464.9 170.4,464.9 170.7,464.6 171.0,464.1 171.3,465.2 171.6,465.2 171.9,466.5 172.2,468.7 172.5,470.2 172.8,471.0 173.1,473.0 173.4,474.2 173.7,472.9 174.0,473.3 174.3,472.0 174.6,469.9 174.9,469.5 175.2,469.2 175.5,467.8 175.8,468.6 176.1,469.4 176.4,469.4 176.7,470.1 177.0,470.7 177.3,469.5 177.6,469.4 177.9,470.6 178.2,469.8 178.5,469.8 178.8,471.0 179.1,470.8 179.4,471.1 179.7,471.9 180.0,470.5 180.3,470.0 180.6,468.9 180.9,467.8 181.2,466.3 181.5,466.7 181.8,466.6 182.1,466.5 182.4,467.5 182.7,468.4 183.0,469.8 183.3,471.1 183.6,472.0 183.9,471.8 184.2,471.8 184.5,471.6 184.8,471.4 185.1,471.9 185.4,472.3 185.7,471.9 186.0,472.6 186.3,473.2 186.6,472.8 186.9,472.7 187.2,472.6 187.5,471.7 187.8,470.8 188.1,470.7 188.4,468.6 188.7,467.9 189.0,467.9 189.3,466.7 189.6,466.4 189.9,466.6 190.2,466.1 190.5,465.5 190.8,466.8 191.1,465.4 191.4,465.7 191.7,466.3 192.0,466.3 192.3,465.3 192.6,466.3 192.9,466.6 193.2,465.5 193.5,466.1 193.8,466.1 194.1,465.9 194.4,466.4 194.7,466.5 195.0,466.6 195.3,467.0 195.6,467.3 195.9,467.4 196.2,468.1 196.5,468.0 196.8,466.4 197.1,466.2 197.4,467.1 197.7,465.7 198.0,465.4 198.3,466.0 198.6,465.2 198.9,465.0 199.2,465.6 199.5,464.8 199.8,463.9 200.1,465.1 200.4,464.2 200.7,464.1 201.0,463.9 201.3,463.7 201.6,462.7 201.9,462.6 202.2,463.2 202.5,462.3 202.8,462.8 203.1,464.2 203.4,464.6 203.7,466.0 204.0,468.9 204.3,469.6 204.6,471.2 204.9,471.8 205.2,471.1 205.5,470.6 205.8,470.4 206.1,468.1 206.4,467.0 206.7,467.5 207.0,465.8 207.3,466.0 207.6,466.8 207.9,467.6 208.2,467.6 208.5,468.5 208.8,467.9 209.1,467.2 209.4,467.9 209.7,467.4 210.0,467.1 210.3,468.3 210.6,469.0 210.9,468.3 211.2,468.8 211.5,468.2 211.8,466.5 212.1,466.7 212.4,465.3 212.7,463.3 213.0,463.2 213.3,463.3 213.6,463.4 213.9,465.1 214.2,466.4 214.5,466.9 214.8,468.1 215.1,469.4 215.4,468.3 215.7,468.8 216.0,469.1 216.3,468.7 216.6,468.2 216.9,469.6 217.2,469.6 217.5,469.3 217.8,470.3 218.1,470.1 218.4,469.4 218.7,469.4 219.0,468.6 219.3,467.6 219.6,466.8 219.9,465.7 220.2,464.0 220.5,464.5 220.8,463.5 221.1,462.3 221.4,463.3 221.7,462.5 222.0,462.1 222.3,462.7 222.6,462.6 222.9,461.9 223.2,462.9 223.5,462.8 223.8,461.9 224.1,461.9 224.4,462.8 224.7,462.2 225.0,462.1 225.3,462.2 225.6,461.6 225.9,462.0 226.2,463.4 226.5,463.0 226.8,463.2 227.1,464.3 227.4,463.6 227.7,463.0 228.0,463.6 228.3,462.7 228.6,461.9 228.9,462.7 229.2,461.7 229.5,460.7 229.8,460.7 230.1,461.0 230.4,459.4 230.7,460.0 231.0,460.7 231.3,459.6 231.6,459.8 231.9,459.5 232.2,458.8 232.5,458.9 232.8,459.4 233.1,458.6 233.4,457.8 233.7,457.8 234.0,456.9 234.3,457.7 234.6,459.3 234.9,459.7 235.2,461.7 235.5,463.9 235.8,465.4 236.1,466.3 236.4,467.5 236.7,466.2 237.0,465.3 237.3,464.7 237.6,463.0 237.9,461.4 238.2,461.3 238.5,460.8 238.8,461.0 239.1,461.9 239.4,462.5 239.7,462.3 240.0,462.3 240.3,462.6 240.6,461.9 240.9,462.3 241.2,462.4 241.5,462.2 241.8,462.8 242.1,463.2 242.4,462.6 242.7,463.3 243.0,463.2 243.3,460.7 243.6,460.6 243.9,459.9 244.2,458.4 244.5,457.3 244.8,458.2 245.1,458.0 245.4,459.9 245.7,461.2 246.0,462.4 246.3,462.2 246.6,463.8 246.9,463.1 247.2,462.8 247.5,463.9 247.8,462.8 248.1,462.9 248.4,463.7 248.7,463.6 249.0,463.4 249.3,464.4 249.6,464.6 249.9,463.3 250.2,463.2 250.5,462.8 250.8,460.8 251.1,460.2 251.4,460.1 251.7,458.7 252.0,457.5 252.3,457.9 252.6,456.3 252.9,455.9 253.2,456.7 253.5,455.3 253.8,455.6 254.1,455.6 254.4,455.3 254.7,454.9 255.0,455.6 255.3,455.4 255.6,454.6 255.9,455.4 256.2,454.6 256.5,453.5 256.8,454.6 257.1,454.5 257.4,454.3 257.7,454.8 258.0,455.3 258.3,454.3 258.6,455.8 258.9,455.3 259.2,453.9 259.5,454.5 259.8,454.6 260.1,452.4 260.4,452.5 260.7,452.6 261.0,451.3 261.3,451.7 261.6,451.6 261.9,450.6 262.2,450.8 262.5,450.8 262.8,450.1 263.1,449.4 263.4,449.9 263.7,448.8 264.0,449.3 264.3,449.0 264.6,448.0 264.9,447.1 265.2,447.6 265.5,447.2 265.8,447.6 266.1,448.5 266.4,449.4 266.7,450.6 267.0,452.9 267.3,454.9 267.6,455.0 267.9,455.4 268.2,454.9 268.5,453.4 268.8,453.2 269.1,450.9 269.4,449.9 269.7,449.2 270.0,450.0 270.3,448.7 270.6,449.5 270.9,450.1 271.2,449.7 271.5,450.5 271.8,450.8 272.1,449.4 272.4,449.0 272.7,449.4 273.0,449.3 273.3,449.5 273.6,450.6 273.9,450.1 274.2,449.2 274.5,449.6 274.8,448.2 275.1,446.7 275.4,446.4 275.7,444.6 276.0,443.3 276.3,444.3 276.6,444.7 276.9,445.0 277.2,447.0 277.5,447.9 277.8,448.4 278.1,448.9 278.4,449.1 278.7,447.7 279.0,447.4 279.3,447.4 279.6,446.5 279.9,446.6 280.2,447.5 280.5,446.7 280.8,446.3 281.1,447.1 281.4,445.3 281.7,444.5 282.0,444.2 282.3,441.7 282.6,440.9 282.9,440.5 283.2,438.8 283.5,437.4 283.8,437.4 284.1,436.1 284.4,435.1 284.7,435.3 285.0,434.7 285.3,433.3 285.6,434.2 285.9,433.9 286.2,432.9 286.5,433.2 286.8,433.3 287.1,431.5 287.4,432.2 287.7,432.0 288.0,430.7 288.3,430.9 288.6,430.9 288.9,430.2 289.2,430.8 289.5,431.5 289.8,430.6 290.1,430.0 290.4,430.9 290.7,429.8 291.0,429.0 291.3,428.8 291.6,426.8 291.9,426.7 292.2,426.5 292.5,424.7 292.8,424.7 293.1,424.5 293.4,423.6 293.7,422.8 294.0,423.7 294.3,422.5 294.6,421.6 294.9,422.3 295.2,421.7 295.5,419.9 295.8,419.8 296.1,418.9 296.4,417.5 296.7,417.9 297.0,418.0 297.3,417.3 297.6,418.8 297.9,419.9 298.2,420.7 298.5,422.6 298.8,424.3 299.1,424.2 299.4,424.0 299.7,423.7 300.0,421.9 300.3,419.8 300.6,418.9 300.9,417.6 301.2,416.4 301.5,416.9 301.8,415.7 302.1,415.9 302.4,416.8 302.7,416.3 303.0,415.1 303.3,416.1 303.6,415.7 303.9,414.5 304.2,414.7 304.5,414.8 304.8,414.4 305.1,414.2 305.4,414.9 305.7,413.8 306.0,413.5 306.3,412.7 306.6,410.2 306.9,409.0 307.2,408.3 307.5,406.9 307.8,406.8 308.1,408.0 308.4,408.4 308.7,409.8 309.0,410.7 309.3,410.5 309.6,410.7 309.9,411.6 310.2,410.1 310.5,409.9 310.8,409.6 311.1,409.1 311.4,408.7 311.7,410.0 312.0,409.8 312.3,408.4 312.6,409.1 312.9,408.5 313.2,406.6 313.5,406.0 313.8,405.5 314.1,403.3 314.4,402.8 314.7,401.6 315.0,400.4 315.3,399.8 315.6,399.8 315.9,397.7 316.2,397.6 316.5,397.9 316.8,396.4 317.1,396.8 317.4,397.1 317.7,395.8 318.0,396.0 318.3,396.2 318.6,395.5 318.9,394.6 319.2,395.0 319.5,394.4 319.8,394.3 320.1,395.0 320.4,393.9 320.7,393.7 321.0,395.1 321.3,394.2 321.6,393.3 321.9,394.1 322.2,393.4 322.5,391.7 322.8,391.4 323.1,390.7 323.4,389.9 323.7,389.6 324.0,389.4 324.3,388.2 324.6,388.4 324.9,387.9 325.2,386.9 325.5,386.4 325.8,386.6 326.1,385.1 326.4,385.6 326.7,385.4 327.0,383.7 327.3,383.3 327.6,383.3 327.9,382.1 328.2,380.9 328.5,381.8 328.8,381.7 329.1,383.2 329.4,384.8 329.7,385.5 330.0,386.8 330.3,389.2 330.6,388.8 330.9,388.3 331.2,389.0 331.5,387.5 331.8,385.5 332.1,384.7 332.4,384.4 332.7,383.0 333.0,383.3 333.3,383.7 333.6,382.4 333.9,384.1 334.2,384.4 334.5,383.6 334.8,383.9 335.1,383.8 335.4,382.4 335.7,383.3 336.0,383.8 336.3,383.4 336.6,383.7 336.9,384.5 337.2,382.8 337.5,383.0 337.8,382.4 338.1,380.7 338.4,379.5 338.7,378.9 339.0,377.5 339.3,377.6 339.6,379.1 339.9,380.1 340.2,380.9 340.5,382.2 340.8,383.3 341.1,382.4 341.4,383.7 341.7,383.3 342.0,382.2 342.3,382.8 342.6,382.9 342.9,382.3 343.2,382.8 343.5,383.9 343.8,383.7 344.1,384.0 344.4,383.7 344.7,381.9 345.0,380.8 345.3,381.0 345.6,378.7 345.9,377.9 346.2,377.7 346.5,376.4 346.8,375.6 347.1,376.0 347.4,374.6 347.7,374.3 348.0,375.7 348.3,374.3 348.6,373.8 348.9,374.9 349.2,374.6 349.5,373.6 349.8,374.6 350.1,374.5 350.4,373.4 350.7,373.9 351.0,374.2 351.3,372.8 351.6,373.8 351.9,374.0 352.2,374.2 352.5,374.0 352.8,374.9 353.1,374.1 353.4,374.7 353.7,374.8 354.0,373.7 354.3,372.5 354.6,373.3 354.9,371.7 355.2,371.4 355.5,372.1 355.8,370.6 356.1,370.0 356.4,371.0 356.7,370.1 357.0,370.3 357.3,371.6 357.6,371.3 357.9,371.5 358.2,371.9 358.5,371.1 358.8,370.7 359.1,371.4 359.4,371.0 359.7,371.1 360.0,372.1 360.3,372.7 360.6,374.3 360.9,376.7 361.2,379.0 361.5,380.2 361.8,382.5 362.1,383.7 362.4,383.5 362.7,383.5 363.0,383.1 363.3,381.4 363.6,380.2 363.9,380.7 364.2,379.8 364.5,380.4 364.8,381.3 365.1,382.3 365.4,382.5 365.7,383.4 366.0,382.9 366.3,383.3 366.6,384.4 366.9,383.9 367.2,384.2 367.5,385.5 367.8,386.2 368.1,386.0 368.4,387.4 368.7,387.4 369.0,386.8 369.3,385.7 369.6,384.9 369.9,383.3 370.2,384.1 370.5,383.8 370.8,383.9 371.1,385.9 371.4,387.4 371.7,388.2 372.0,390.2 372.3,391.2 372.6,391.2 372.9,392.1 373.2,393.0 373.5,392.2 373.8,392.1 374.1,393.7 374.4,394.0 374.7,394.6 375.0,395.9 375.3,395.4 375.6,395.9 375.9,396.2 376.2,395.1 376.5,394.2 376.8,395.1 377.1,393.7 377.4,393.0 377.7,392.9 378.0,392.9 378.3,391.6 378.6,392.4 378.9,393.2 379.2,392.0 379.5,392.5 379.8,393.0 380.1,392.7 380.4,394.0 380.7,394.2 381.0,393.4 381.3,394.6 381.6,395.3 381.9,394.7 382.2,395.5 382.5,396.1 382.8,395.8 383.1,395.8 383.4,397.8 383.7,398.1 384.0,398.3 384.3,399.4 384.6,399.1 384.9,399.5 385.2,399.4 385.5,399.0 385.8,398.6 386.1,399.4 386.4,398.5 386.7,398.2 387.0,398.9 387.3,398.9 387.6,398.2 387.9,398.8 388.2,399.1 388.5,398.7 388.8,399.0 389.1,399.5 389.4,399.0 389.7,399.1 390.0,399.7 390.3,398.3 390.6,399.3 390.9,400.0 391.2,399.2 391.5,399.4 391.8,401.3 392.1,401.9 392.4,403.9 392.7,407.1 393.0,407.4 393.3,409.5 393.6,410.9 393.9,410.9 394.2,409.8 394.5,409.5 394.8,408.3 395.1,407.2 395.4,407.3 395.7,407.0 396.0,406.5 396.3,407.5 396.6,408.9 396.9,408.9 397.2,409.9 397.5,410.1 397.8,409.8 398.1,410.1 398.4,410.4 398.7,410.1 399.0,411.7 399.3,411.9 399.6,412.4 399.9,412.6 400.2,412.7 400.5,412.0 400.8,411.0 401.1,410.3 401.4,409.0 401.7,409.1 402.0,410.0 402.3,409.6 402.6,411.0 402.9,413.4 403.2,413.8 403.5,415.2 403.8,416.8 404.1,416.7 404.4,416.6 404.7,417.7 405.0,417.4 405.3,416.9 405.6,418.2 405.9,419.1 406.2,418.8 406.5,420.4 406.8,420.8 407.1,420.0 407.4,420.9 407.7,419.6 408.0,418.6 408.3,418.1 408.6,418.4 408.9,416.9 409.2,415.6 409.5,415.8 409.8,415.0 410.1,415.0 410.4,415.2 410.7,414.0 411.0,414.2 411.3,414.9 411.6,414.0 411.9,414.5 412.2,414.4 412.5,414.7 412.8,414.0 413.1,415.3 413.4,414.3 413.7,413.6 414.0,414.9 414.3,414.3 414.6,414.0 414.9,415.1 415.2,415.8 415.5,415.7 415.8,416.9 416.1,416.6 416.4,416.0 416.7,416.1 417.0,415.8 417.3,414.8 417.6,415.1 417.9,414.7 418.2,413.6 418.5,413.9 418.8,414.2 419.1,412.9 419.4,413.7 419.7,413.7 420.0,413.0 420.3,412.6 420.6,413.5 420.9,412.7 421.2,412.2 421.5,413.3 421.8,411.8 422.1,411.6 422.4,411.9 422.7,410.9 423.0,411.0 423.3,413.0 423.6,413.9 423.9,415.0 424.2,417.6 424.5,418.5 424.8,419.6 425.1,420.3 425.4,420.9 425.7,419.1 426.0,418.6 426.3,417.7 426.6,415.9 426.9,415.3 427.2,415.3 427.5,414.8 427.8,415.4 428.1,416.7 428.4,417.0 428.7,416.7 429.0,417.7 429.3,416.2 429.6,416.7 429.9,417.2 430.2,416.8 430.5,417.3 430.8,418.9 431.1,418.0 431.4,417.8 431.7,417.9 432.0,416.9 432.3,415.2 432.6,415.2 432.9,413.5 433.2,413.0 433.5,412.7 433.8,413.6 434.1,414.4 434.4,416.1 434.7,417.2 435.0,417.6 435.3,418.6 435.6,419.5 435.9,419.4 436.2,419.5 436.5,419.1 436.8,418.4 437.1,419.3 437.4,420.6 437.7,419.7 438.0,420.5 438.3,421.7 438.6,420.7 438.9,420.0 439.2,419.8 439.5,418.0 439.8,417.4 440.1,416.9 440.4,416.4 440.7,415.2 441.0,415.9 441.3,415.4 441.6,414.5 441.9,414.5 442.2,414.6 442.5,414.1 442.8,414.5 443.1,414.4 443.4,414.2 443.7,414.7 444.0,415.7 444.3,413.8 444.6,414.9 444.9,415.2 445.2,414.4 445.5,415.1 445.8,415.7 446.1,415.1 446.4,416.4 446.7,416.4 447.0,416.7 447.3,417.0 447.6,418.0 447.9,417.1 448.2,416.6 448.5,417.0 448.8,416.4 449.1,415.9 449.4,416.1 449.7,416.1 450.0,415.8 450.3,415.4 450.6,415.3 450.9,415.5 451.2,415.8 451.5,415.1 451.8,414.4 452.1,415.1 452.4,414.9 452.7,414.0 453.0,414.9 453.3,414.2 453.6,413.1 453.9,413.3 454.2,413.9 454.5,413.4 454.8,415.2 455.1,417.3 455.4,418.1 455.7,420.4 456.0,422.5 456.3,422.7 456.6,423.5 456.9,423.9 457.2,422.6 457.5,421.1 457.8,421.3 458.1,419.2 458.4,418.4 458.7,419.1 459.0,418.7 459.3,419.3 459.6,420.4 459.9,420.8 460.2,420.1 460.5,420.5 460.8,420.5 461.1,419.6 461.4,421.1 461.7,421.6 462.0,421.3 462.3,422.0 462.6,422.5 462.9,422.6 463.2,422.4 463.5,421.6 463.8,420.1 464.1,420.0 464.4,419.1 464.7,417.5 465.0,418.3 465.3,419.6 465.6,419.5 465.9,421.1 466.2,423.3 466.5,423.3 466.8,424.4 467.1,425.4 467.4,425.4 467.7,424.3 468.0,425.3 468.3,424.8 468.6,425.1 468.9,426.7 469.2,426.2 469.5,426.1 469.8,426.9 470.1,426.6 470.4,426.0 470.7,426.0 471.0,424.7 471.3,423.4 471.6,423.5 471.9,422.9 472.2,421.3 472.5,421.7 472.8,421.1 473.1,420.2 473.4,421.4 473.7,420.5 474.0,420.2 474.3,421.0 474.6,421.5 474.9,420.7 475.2,421.5 475.5,422.2 475.8,421.5 476.1,421.1 476.4,422.2 476.7,421.3 477.0,421.5 477.3,422.8 477.6,422.7 477.9,423.1 478.2,424.1 478.5,424.4 478.8,424.5 479.1,425.4 479.4,425.0 479.7,423.8 480.0,424.3 480.3,424.0 480.6,422.5 480.9,423.5 481.2,423.1 481.5,422.3 481.8,422.6 482.1,422.9 482.4,422.3 482.7,423.1 483.0,423.4 483.3,422.2 483.6,422.6 483.9,422.8 484.2,422.2 484.5,422.0 484.8,422.5 485.1,421.8 485.4,421.3 485.7,421.7 486.0,421.8 486.3,422.7 486.6,425.1 486.9,427.1 487.2,428.4 487.5,430.4 487.8,431.6 488.1,431.8 488.4,431.9 488.7,430.6 489.0,429.1 489.3,428.9 489.6,427.9 489.9,426.9 490.2,427.6 490.5,427.9 490.8,427.8 491.1,428.8 491.4,428.7 491.7,428.5 492.0,429.2 492.3,429.2 492.6,428.7 492.9,428.9 493.2,429.5 493.5,429.8 493.8,430.4 494.1,431.1 494.4,430.4 494.7,430.1 495.0,429.7 495.3,427.0 495.6,426.4 495.9,426.4 496.2,425.2 496.5,425.6 496.8,427.6 497.1,427.8 497.4,428.5 497.7,431.6 498.0,431.5 498.3,431.3 498.6,432.8 498.9,432.6 499.2,431.5 499.5,432.7 499.8,432.4 500.1,431.9 500.4,433.4 500.7,434.2 501.0,433.3 501.3,434.3 501.6,434.2 501.9,433.7 502.2,432.3 502.5,432.5 502.8,430.4 503.1,429.8 503.4,430.0 503.7,428.7 504.0,428.5 504.3,428.6 504.6,427.3 504.9,427.0 505.2,428.0 505.5,427.4 505.8,427.5 506.1,428.3 506.4,428.1 506.7,428.1 507.0,428.6 507.3,427.8 507.6,427.3 507.9,428.0 508.2,428.7 508.5,427.4 508.8,429.1 509.1,429.3 509.4,429.4 509.7,430.4 510.0,430.6 510.3,430.0 510.6,430.7 510.9,430.8 511.2,429.5 511.5,429.7 511.8,430.3 512.1,428.2 512.4,428.8 512.7,428.9 513.0,428.3 513.3,428.5 513.6,428.9 513.9,428.2 514.2,427.4 514.5,428.9 514.8,427.6 515.1,427.7 515.4,428.3 515.7,426.7 516.0,426.5 516.3,427.3 516.6,427.0 516.9,425.9 517.2,426.9 517.5,426.8 517.8,428.2 518.1,430.6 518.4,431.9 518.7,432.9 519.0,434.6 519.3,436.5 519.6,436.5 519.9,436.2 520.2,435.7 520.5,433.5 520.8,432.3 521.1,432.5 521.4,430.5 521.7,431.0 522.0,432.1 522.3,432.0 522.6,432.5 522.9,433.5 523.2,432.6 523.5,432.3 523.8,433.4 524.1,432.4 524.4,432.2 524.7,433.4 525.0,433.5 525.3,433.2 525.6,434.4 525.9,433.8 526.2,433.2 526.5,433.2 526.8,432.3 527.1,429.5 527.4,429.7 527.7,429.8 528.0,429.1 528.3,430.6 528.6,432.5 528.9,432.4 529.2,434.0 529.5,435.1 529.8,435.3 530.1,435.9 530.4,435.7 530.7,434.9 531.0,435.6 531.3,436.4 531.6,435.5 531.9,436.5 532.2,437.6 532.5,436.4 532.8,436.8 533.1,437.5 533.4,436.0 533.7,434.5 534.0,435.0 534.3,433.9 534.6,432.9 534.9,432.0 535.2,432.5 535.5,430.4 535.8,431.5 536.1,431.1 536.4,430.1 536.7,430.5 537.0,430.1 537.3,430.0 537.6,430.4 537.9,430.2 538.2,431.1 538.5,431.2 538.8,431.8 539.1,430.0 539.4,431.1 539.7,431.6 540.0,430.3 540.3,429.6 540.6,429.4 540.9,428.6 541.2,427.8 541.5,428.3 541.8,427.5 542.1,426.3 542.4,426.3 542.7,424.6 543.0,423.8 543.3,423.3 543.6,421.2 543.9,420.2 544.2,419.5 544.5,418.3 544.8,417.3 545.1,416.5 545.4,415.7 545.7,413.8 546.0,414.2 546.3,413.7 546.6,411.4 546.9,411.4 547.2,410.2 547.5,408.2 547.8,407.6 548.1,407.6 548.4,406.1 548.7,405.4 549.0,405.4 549.3,405.4 549.6,406.2 549.9,408.2 550.2,408.2 550.5,409.0 550.8,409.9 551.1,408.2 551.4,407.0 551.7,405.6 552.0,403.4 552.3,400.9 552.6,400.5 552.9,398.6 553.2,397.7 553.5,398.3 553.8,397.1 554.1,396.5 554.4,396.8 554.7,396.4 555.0,395.2 555.3,394.8 555.6,393.6 555.9,392.7 556.2,392.1 556.5,392.8 556.8,391.0 557.1,390.3 557.4,391.2 557.7,388.7 558.0,386.5 558.3,385.4 558.6,382.6 558.9,381.4 559.2,380.5 559.5,379.6 559.8,380.2 560.1,381.2 560.4,381.3 560.7,381.3 561.0,382.9 561.3,381.0 561.6,380.4 561.9,379.7 562.2,378.4 562.5,378.0 562.8,377.6 563.1,377.2 563.4,376.2 563.7,376.4 564.0,375.8 564.3,374.3 564.6,374.0 564.9,372.9 565.2,370.5 565.5,369.1 565.8,367.5 566.1,365.2 566.4,363.4 566.7,361.8 567.0,359.4 567.3,357.4 567.6,355.6 567.9,353.0 568.2,351.3 568.5,350.3 568.8,347.9 569.1,346.8 569.4,346.0 569.7,344.2 570.0,342.2 570.3,341.4 570.6,338.8 570.9,337.7 571.2,336.6 571.5,335.0 571.8,333.0 572.1,332.8 572.4,330.8 572.7,329.4 573.0,329.6 573.3,326.7 573.6,325.2 573.9,324.3 574.2,321.9 574.5,319.2 574.8,318.1 575.1,315.7 575.4,313.4 575.7,311.8 576.0,310.4 576.3,307.8 576.6,306.7 576.9,305.5 577.2,303.0 577.5,301.0 577.8,301.0 578.1,298.2 578.4,296.4 578.7,294.9 579.0,292.3 579.3,290.4 579.6,289.2 579.9,286.3 580.2,285.5 580.5,286.1 580.8,283.8 581.1,284.3 581.4,285.2 581.7,284.8 582.0,284.5 582.3,283.8 582.6,282.5 582.9,280.1 583.2,277.7 583.5,274.8 583.8,271.5 584.1,269.6 584.4,268.4 584.7,265.3 585.0,265.2 585.3,263.8 585.6,262.4 585.9,261.3 586.2,259.4 586.5,257.6 586.8,255.9 587.1,255.0 587.4,253.4 587.7,251.5 588.0,251.1 588.3,249.9 588.6,247.9 588.9,247.3 589.2,243.9 589.5,240.7 589.8,239.0 590.1,236.2 590.4,233.5 590.7,232.3 591.0,230.8 591.3,229.6 591.6,229.9 591.9,230.2 592.2,228.5 592.5,228.3 592.8,227.5 593.1,225.8 593.4,225.0 593.7,223.4 594.0,221.0 594.3,220.7 594.6,219.5 594.9,217.8 595.2,218.0 595.5,216.8 595.8,214.8 596.1,213.6 596.4,212.0 596.7,208.7 597.0,207.2 597.3,205.2 597.6,202.0 597.9,200.3 598.2,199.1 598.5,196.2 598.8,194.6 599.1,193.7 599.4,191.0 599.7,189.8 600.0,189.2 600.3,187.6 600.6,185.6 600.9,185.8 601.2,184.5 601.5,182.7 601.8,181.7 602.1,180.9 602.4,178.2 602.7,177.9 603.0,177.4 603.3,175.0 603.6,174.8 603.9,174.8 604.2,172.7 604.5,172.2 604.8,171.7 605.1,169.8 605.4,167.5 605.7,166.9 606.0,164.4 606.3,162.5 606.6,161.3 606.9,158.7 607.2,157.2 607.5,155.8 607.8,153.7 608.1,151.8 608.4,150.6 608.7,148.6 609.0,146.9 609.3,145.7 609.6,143.3 609.9,141.1 610.2,139.8 610.5,137.9 610.8,135.4 611.1,133.8 611.4,132.3 611.7,130.6 612.0,130.0 612.3,130.1 612.6,129.0 612.9,129.8 613.2,130.3 613.5,129.9 613.8,128.7 614.1,127.7 614.4,124.8 614.7,122.7 615.0,120.9 615.3,117.4 615.6,115.9 615.9,114.4 616.2,112.7 616.5,112.7 616.8,114.1 617.1,113.3 617.4,113.7 617.7,114.6 618.0,113.9 618.3,111.4 618.6,112.7 618.9,112.2 619.2,112.1 619.5,113.5 619.8,113.8 620.1,113.4 620.4,113.4 620.7,112.7 621.0,111.3 621.3,110.8 621.6,109.8 621.9,108.3 622.2,108.8 622.5,109.9 622.8,110.5 623.1,111.9 623.4,114.7 623.7,115.1 624.0,116.0 624.3,117.6 624.6,116.5 624.9,116.7 625.2,117.6 625.5,117.1 625.8,117.3 626.1,118.5 626.4,118.5 626.7,118.0 627.0,119.8 627.3,118.6 627.6,118.0 627.9,118.3 628.2,116.8 628.5,115.4 628.8,115.5 629.1,114.9 629.4,113.8 629.7,114.1 630.0,113.2 630.3,112.2 630.6,112.6 630.9,113.0 631.2,111.5 631.5,113.3 631.8,113.3 632.1,112.7 632.4,113.8 632.7,114.7 633.0,113.8 633.3,114.4 633.6,114.8 633.9,114.4 634.2,114.7 634.5,115.3 634.8,115.5 635.1,115.6 635.4,117.0 635.7,116.7 636.0,117.1 636.3,118.5 636.6,117.4 636.9,117.5 637.2,118.0 637.5,117.3 637.8,115.9 638.1,117.2 638.4,117.1 638.7,116.0 639.0,117.1 639.3,116.3 639.6,116.5 639.9,116.8 640.2,117.4 640.5,115.9 640.8,117.3 641.1,117.3 641.4,116.8 641.7,116.5 642.0,116.9 642.3,116.6 642.6,115.9 642.9,116.7 643.2,116.5 643.5,117.5 643.8,120.4 644.1,121.7 644.4,122.9 644.7,125.2 645.0,126.7 645.3,127.2 645.6,128.0 645.9,126.9 646.2,125.0 646.5,124.9 646.8,123.2 647.1,122.1 647.4,123.5 647.7,123.1 648.0,123.9 648.3,124.7 648.6,124.9 648.9,124.9 649.2,126.0 649.5,125.8 649.8,124.4 650.1,125.6 650.4,126.6 650.7,125.7 651.0,126.6 651.3,128.0 651.6,127.0 651.9,126.7 652.2,126.7 652.5,124.8 652.8,124.2 653.1,124.0 653.4,123.1 653.7,123.0 654.0,123.9 654.3,125.0 654.6,126.3 654.9,128.4 655.2,129.2 655.5,129.1 655.8,130.3 656.1,130.5 656.4,129.4 656.7,129.9 657.0,130.8 657.3,130.0 657.6,131.4 657.9,131.6 658.2,131.3 658.5,132.3 658.8,132.6 659.1,131.6 659.4,130.8 659.7,131.2 660.0,129.0 660.3,128.7 660.6,129.0 660.9,127.4 661.2,126.9 661.5,128.2 661.8,126.3 662.1,126.6 662.4,127.3 662.7,126.9 663.0,126.5 663.3,127.9 663.6,127.0 663.9,127.6 664.2,128.1 664.5,127.8 664.8,128.1 665.1,128.5 665.4,128.1 665.7,128.4 666.0,128.9 666.3,128.8 666.6,129.2 666.9,130.0 667.2,131.1 667.5,130.8 667.8,131.1 668.1,131.2 668.4,130.4 668.7,130.7 669.0,130.4 669.3,129.7 669.6,129.2 669.9,130.0 670.2,129.1 670.5,129.4 670.8,130.2 671.1,128.9 671.4,129.5 671.7,130.0 672.0,129.1 672.3,128.8 672.6,129.6 672.9,129.4 673.2,128.5 673.5,129.4 673.8,128.9 674.1,128.4 674.4,129.5 674.7,129.2 675.0,129.5 675.3,132.5 675.6,133.9 675.9,135.4 676.2,137.6 676.5,139.1 676.8,138.9 677.1,139.5 677.4,138.8 677.7,137.0 678.0,136.4 678.3,135.8 678.6,134.6 678.9,134.6 679.2,136.0 679.5,135.2 679.8,136.4 680.1,137.2 680.4,136.6 680.7,137.5 681.0,137.5 681.3,136.4 681.6,136.7 681.9,138.0 682.2,138.6 682.5,138.4 682.8,139.8 683.1,138.8 683.4,138.4 683.7,138.6 684.0,137.5 684.3,135.2 684.6,135.6 684.9,134.9 685.2,134.1 685.5,135.9 685.8,137.0 686.1,137.1 686.4,140.0 686.7,141.2 687.0,140.8 687.3,141.5 687.6,142.7 687.9,141.4 688.2,142.1 688.5,142.9 688.8,141.8 689.1,143.1 689.4,143.9 689.7,143.5 690.0,143.8 690.3,144.4 690.6,143.6 690.9,142.6 691.2,142.5 691.5,141.0 691.8,140.2 692.1,140.0 692.4,139.1 692.7,138.5 693.0,138.9 693.3,138.4 693.6,137.6 693.9,139.2 694.2,138.8 694.5,138.0 694.8,138.9 695.1,139.8 695.4,138.7 695.7,139.5 696.0,139.8 696.3,139.0 696.6,139.9 696.9,139.8 697.2,139.8 697.5,139.7 697.8,141.1 698.1,140.4 698.4,142.1 698.7,142.6 699.0,142.3 699.3,142.9 699.6,143.6 699.9,142.0 700.2,141.9 700.5,142.1 700.8,141.7 701.1,141.3 701.4,142.0 701.7,141.3 702.0,141.1 702.3,141.8 702.6,141.8 702.9,141.6 703.2,141.4 703.5,141.8 703.8,141.1 704.1,142.2 704.4,141.6 704.7,140.9 705.0,141.1 705.3,141.5 705.6,140.5 705.9,141.2 706.2,142.3 706.5,142.5 706.8,144.2 707.1,147.2 707.4,148.2 707.7,150.1 708.0,152.2 708.3,152.0 708.6,151.3 708.9,151.4 709.2,150.3 709.5,149.2 709.8,148.5 710.1,147.3 710.4,147.2 710.7,148.5 711.0,148.3 711.3,149.1 711.6,150.0 711.9,150.0 712.2,150.2 712.5,150.5 712.8,150.6 713.1,150.4 713.4,151.6 713.7,151.8 714.0,151.8 714.3,152.6 714.6,153.5 714.9,152.0 715.2,151.3 715.5,150.9 715.8,149.2 716.1,148.9 716.4,149.5 716.7,148.8 717.0,149.5 717.3,151.5 717.6,151.8 717.9,153.7 718.2,155.5 718.5,156.2 718.8,155.7 719.1,155.9 719.4,155.7 719.7,155.8 720.0,156.4 720.3,156.5 720.6,156.8 720.9,158.5 721.2,158.4 721.5,157.8 721.8,159.0 722.1,158.0 722.4,156.7 722.7,156.4 723.0,155.8 723.3,154.9 723.6,154.8 723.9,155.3 724.2,154.8 724.5,155.2 724.8,155.9 725.1,154.9 725.4,156.5 725.7,157.4 726.0,156.9 726.3,157.3 726.6,158.8 726.9,159.2 727.2,160.2 727.5,161.0 727.8,161.0 728.1,160.8 728.4,162.2 728.7,162.2 729.0,162.9 729.3,164.1 729.6,165.3 729.9,166.0 730.2,167.0 730.5,167.4 730.8,167.9 731.1,168.8 731.4,168.2 731.7,168.7 732.0,169.4 732.3,169.4 732.6,169.7 732.9,170.1 733.2,170.4 733.5,170.2 733.8,170.8 734.1,171.6 734.4,171.5 734.7,172.1 735.0,173.1 735.3,173.3 735.6,173.7 735.9,174.6 736.2,173.9 736.5,174.2 736.8,175.3 737.1,174.5 737.4,175.7 737.7,176.8 738.0,178.0 738.3,179.5 738.6,183.0 738.9,185.1 739.2,187.0 739.5,188.8 739.8,189.4 740.1,189.0 740.4,189.3 740.7,188.3 741.0,187.4 741.3,187.3 741.6,187.8 741.9,187.5 742.2,188.9 742.5,189.9 742.8,190.1 743.1,192.5 743.4,192.5 743.7,193.0 744.0,193.6 744.3,194.2 744.6,193.8 744.9,195.6 745.2,197.3 745.5,196.7 745.8,197.8 746.1,199.2 746.4,198.2 746.7,198.3 747.0,197.6 747.3,196.7 747.6,195.7 747.9,197.8 748.2,197.2 748.5,197.8 748.8,201.0 749.1,202.4 749.4,204.3 749.7,206.0 750.0,207.1 750.3,207.4 750.6,209.1 750.9,209.1 751.2,209.3 751.5,210.7 751.8,211.6 752.1,212.0 752.4,213.7 752.7,214.7 753.0,215.1 753.3,215.2 753.6,216.5 753.9,215.4 754.2,215.2 754.5,215.3 754.8,214.5 755.1,214.9 755.4,215.8 755.7,215.1 756.0,215.6 756.3,216.2 756.6,216.3 756.9,216.1 757.2,218.3 757.5,218.3 757.8,218.6 758.1,220.8 758.4,221.1 758.7,220.3 759.0,222.6 759.3,222.5 759.6,223.2 759.9,225.1 760.2,224.9 760.5,225.3 760.8,226.9 761.1,228.4 761.4,228.8 761.7,230.6 762.0,231.1 762.3,231.7 762.6,231.9 762.9,233.0 763.2,232.7 763.5,233.2 763.8,233.6 764.1,233.3 764.4,234.0 764.7,235.3 765.0,235.5 765.3,235.2 765.6,237.1 765.9,237.1 766.2,237.4 766.5,238.8 766.8,239.2 767.1,239.0 767.4,240.4 767.7,240.3 768.0,240.4 768.3,240.5 768.6,241.8 768.9,241.6 769.2,243.7 769.5,245.3 769.8,246.6 770.1,250.2 770.4,252.7 770.7,254.4 771.0,255.9 771.3,258.0 771.6,257.0 771.9,257.0 772.2,256.8 772.5,255.5 772.8,255.5 773.1,256.5 773.4,256.5 773.7,257.7 774.0,259.2 774.3,259.9 774.6,260.7 774.9,262.6 775.2,263.0 775.5,263.0 775.8,263.7 776.1,262.9 776.4,262.8 776.7,264.0 777.0,264.6 777.3,263.8 777.6,264.6 777.9,263.4 778.2,261.9 778.5,261.9 778.8,260.0 779.1,258.5 779.4,258.8 779.7,259.7 780.0,259.2 780.3,260.9 780.6,262.3 780.9,262.6 781.2,264.4 781.5,265.8 781.8,263.9 782.1,264.6 782.4,264.8 782.7,263.5 783.0,264.0 783.3,265.0 783.6,264.5 783.9,265.6 784.2,265.4 784.5,265.3 784.8,264.6 785.1,264.5 785.4,263.3 785.7,262.1 786.0,261.8 786.3,260.6 786.6,259.4 786.9,258.8 787.2,259.1 787.5,258.3 787.8,258.3 788.1,258.0 788.4,256.3 788.7,257.3 789.0,257.3 789.3,256.6 789.6,257.8 789.9,257.6 790.2,256.9 790.5,256.7 790.8,257.5 791.1,256.6 791.4,256.5 791.7,257.2 792.0,257.3 792.3,256.9 792.6,258.0 792.9,257.7 793.2,258.6 793.5,259.7 793.8,258.4 794.1,257.6 794.4,258.1 794.7,257.5 795.0,256.1 795.3,257.2 795.6,256.5 795.9,255.4 796.2,256.1 796.5,255.8 796.8,255.1 797.1,254.9 797.4,255.4 797.7,254.0 798.0,254.4 798.3,254.6 798.6,253.5 798.9,253.5 799.2,253.2 799.5,252.1 799.8,252.8 800.1,253.3 800.4,252.2 800.7,253.4 801.0,254.6 801.3,255.5 801.6,257.5 801.9,259.4 802.2,260.0 802.5,261.1 802.8,261.8 803.1,260.3 803.4,259.4 803.7,258.8 804.0,257.4 804.3,255.9 804.6,256.2 804.9,255.9 805.2,255.6 805.5,256.8 805.8,257.0 806.1,257.0 806.4,257.7 806.7,257.7 807.0,255.8 807.3,256.8 807.6,257.1 807.9,256.7 808.2,257.5 808.5,258.1 808.8,257.7 809.1,257.6 809.4,256.9 809.7,255.7 810.0,254.6 810.3,253.6 810.6,252.4 810.9,251.9 811.2,253.5 811.5,253.2 811.8,254.2 812.1,256.3 812.4,256.6 812.7,257.4 813.0,258.6 813.3,258.0 813.6,257.3 813.9,257.0 814.2,257.7 814.5,256.7 814.8,258.5 815.1,258.9 815.4,258.3 815.7,259.0 816.0,258.9 816.3,257.7 816.6,257.5 816.9,256.7 817.2,254.8 817.5,255.1 817.8,254.2 818.1,252.9 818.4,252.3 818.7,252.4 819.0,251.0 819.3,251.2 819.6,251.6 819.9,250.4 820.2,250.2 820.5,250.9 820.8,251.0 821.1,250.4 821.4,251.3 821.7,251.1 822.0,250.7 822.3,251.1 822.6,250.2 822.9,250.6 823.2,250.9 823.5,250.8 823.8,250.4 824.1,251.3 824.4,251.5 824.7,251.6 825.0,252.4 825.3,252.0 825.6,250.7 825.9,250.8 826.2,250.8 826.5,249.2 826.8,250.1 827.1,250.2 827.4,249.6 827.7,249.3 828.0,249.1 828.3,247.9 828.6,247.2 828.9,248.5 829.2,247.6 829.5,247.9 829.8,248.4 830.1,247.4 830.4,246.9 830.7,247.3 831.0,246.5 831.3,245.1 831.6,246.0 831.9,245.5 832.2,246.7 832.5,248.7 832.8,249.8 833.1,250.4 833.4,253.3 833.7,254.2 834.0,254.3 834.3,255.0 834.6,254.5 834.9,252.3 835.2,252.1 835.5,250.9 835.8,249.1 836.1,249.3 836.4,249.6 836.7,249.5 837.0,250.0 837.3,251.0 837.6,250.2 837.9,250.1 838.2,251.2 838.5,249.6 838.8,250.2 839.1,250.9 839.4,249.9 839.7,250.5 840.0,251.7 840.3,250.9 840.6,250.2 840.9,250.8 841.2,248.8 841.5,247.4 841.8,246.9 842.1,246.0 842.4,245.0 842.7,246.5 843.0,247.5 843.3,247.9 843.6,249.7 843.9,250.5 844.2,250.8 844.5,251.8 844.8,251.7 845.1,250.6 845.4,251.3 845.7,252.2 846.0,250.7 846.3,251.6 846.6,252.5 846.9,251.0 847.2,252.2 847.5,252.4 847.8,251.7 848.1,250.5 848.4,250.1 848.7,248.6 849.0,247.7 849.3,247.4 849.6,246.2 849.9,245.0 850.2,245.7 850.5,245.0 850.8,244.7 851.1,244.9 851.4,244.2 851.7,243.9 852.0,244.8 852.3,244.8 852.6,244.1 852.9,244.5 853.2,244.6 853.5,243.7 853.8,244.2 854.1,244.2 854.4,243.0 854.7,243.3 855.0,244.2 855.3,243.4 855.6,244.8 855.9,245.6 856.2,244.5 856.5,245.5 856.8,246.0 857.1,244.6 857.4,244.8 857.7,245.0 858.0,242.9 858.3,243.2 858.6,243.5 858.9,242.6 859.2,242.3 859.5,242.4 859.8,241.8 860.1,241.1 860.4,241.8 860.7,241.5 861.0,240.4 861.3,241.1 861.6,241.1 861.9,239.9 862.2,240.4 862.5,239.2 862.8,238.5 863.1,239.1 863.4,239.8 863.7,239.6 864.0,241.9 864.3,243.6 864.6,244.5 864.9,246.6 865.2,248.4 865.5,247.7 865.8,248.4 866.1,248.0 866.4,245.9 866.7,244.7 867.0,244.4 867.3,243.1 867.6,242.7 867.9,243.4 868.2,243.3 868.5,243.3 868.8,244.8 869.1,244.1 869.4,243.0 869.7,244.7 870.0,243.8 870.3,242.8 870.6,244.1 870.9,244.0 871.2,244.6 871.5,245.2 871.8,244.5 872.1,243.9 872.4,243.5 872.7,243.1 873.0,240.1 873.3,239.3 873.6,239.7 873.9,238.7 874.2,239.6 874.5,240.5 874.8,241.7 875.1,243.6 875.4,244.1 875.7,244.8 876.0,244.6 876.3,246.1 876.6,244.6 876.9,244.2 877.2,245.3 877.5,244.7 877.8,244.5 878.1,246.1 878.4,245.5 878.7,244.8 879.0,246.5 879.3,244.9 879.6,243.5 879.9,243.6 880.2,241.9 880.5,240.3 880.8,240.6 881.1,239.8 881.4,238.7 881.7,239.2 882.0,238.4 882.3,237.6 882.6,237.9 882.9,237.6 883.2,237.1 883.5,237.2 883.8,238.4 884.1,237.5 884.4,237.6 884.7,237.7 885.0,237.2 885.3,236.9 885.6,237.9 885.9,236.9 886.2,236.7 886.5,238.3 886.8,238.0 887.1,237.8 887.4,239.5 887.7,238.7 888.0,238.3 888.3,239.1 888.6,238.1 888.9,237.2 889.2,237.7 889.5,237.5 889.8,236.5 890.1,236.5 890.4,236.8 890.7,235.3 891.0,235.9 891.3,236.0 891.6,234.8 891.9,235.8 892.2,235.3 892.5,233.9 892.8,234.9 893.1,234.5 893.4,233.3 893.7,232.4 894.0,233.7 894.3,232.5 894.6,232.6 894.9,233.8 895.2,234.1 895.5,234.9 895.8,237.6 896.1,238.3 896.4,239.7 896.7,242.1 897.0,241.8 897.3,240.7 897.6,241.2 897.9,239.4 898.2,237.5 898.5,237.6 898.8,236.4 899.1,235.1 899.4,236.2 899.7,237.4 900.0,236.2 900.3,237.7 900.6,238.1 900.9,237.2 901.2,237.0 901.5,237.4 901.8,236.7 902.1,237.5 902.4,237.9 902.7,237.3 903.0,238.4 903.3,238.9 903.6,237.4 903.9,236.3 904.2,236.1 904.5,234.0 904.8,233.2 905.1,232.8 905.4,232.6 905.7,232.9 906.0,234.5 906.3,235.6 906.6,236.3 906.9,238.0 907.2,238.4 907.5,237.5 907.8,238.7 908.1,238.4 908.4,237.5 908.7,238.5 909.0,238.0 909.3,237.5 909.6,239.1 909.9,239.6 910.2,239.3 910.5,239.2 910.8,238.4 911.1,237.2 911.4,236.2 911.7,235.5 912.0,234.9 912.3,233.7 912.6,233.8 912.9,232.3 913.2,232.4 913.5,232.2 913.8,231.4 914.1,230.5 914.4,231.0 914.7,231.2 915.0,231.1 915.3,231.7 915.6,231.2 915.9,230.8 916.2,231.3 916.5,231.4 916.8,230.5 917.1,231.1 917.4,230.9 917.7,230.6 918.0,231.5 918.3,231.9 918.6,231.0 918.9,232.5 919.2,233.3 919.5,231.6 919.8,232.1 920.1,232.3 920.4,231.0 920.7,230.9 921.0,230.3 921.3,229.7 921.6,229.2 921.9,229.7 922.2,229.1 922.5,228.7 922.8,229.5 923.1,229.3 923.4,228.4 923.7,229.0 924.0,227.7 924.3,227.3 924.6,227.7 924.9,227.0 925.2,226.0 925.5,226.5 925.8,226.0 926.1,225.3 926.4,226.4 926.7,227.2 927.0,228.5 927.3,230.9 927.6,232.8 927.9,233.6 928.2,234.9 928.5,235.7 928.8,233.9 929.1,234.7 929.4,233.5 929.7,230.9 930.0,230.0 930.3,230.3 930.6,228.6 930.9,229.4 931.2,230.9 931.5,230.3 931.8,230.6 932.1,231.8 932.4,230.3 932.7,230.5 933.0,230.9 933.3,230.1 933.6,230.5 933.9,231.3 934.2,232.0 934.5,231.1 934.8,232.5 935.1,230.6 935.4,229.7 935.7,228.7 936.0,227.2 936.3,226.1 936.6,226.5 936.9,226.0 937.2,226.7 937.5,227.9 937.8,229.5 938.1,230.0 938.4,231.5 938.6,229.0 938.7,236.0 938.8,236.6 938.9,234.8 939.0,231.8 939.1,230.1 939.1,231.0 939.2,233.7 939.3,236.3 939.4,236.6 939.5,234.4 939.6,231.4 939.7,229.8 939.8,231.0 939.9,234.0 940.0,236.5 940.0,236.5 940.1,234.0 940.2,230.9 940.3,229.5 940.4,231.1 940.5,234.3 940.6,236.8 940.7,236.4 940.8,233.6 940.9,230.4 940.9,229.3 941.0,231.2 941.1,234.7 941.2,237.0 941.3,236.3 941.4,233.1 941.5,229.9 941.6,229.1 941.7,231.4 941.8,235.0 941.8,237.1 941.9,236.0 942.0,232.6 942.1,229.4 942.2,228.9 942.3,231.7 942.4,235.4 942.5,237.3 942.6,235.8 942.7,232.0 942.7,228.9 942.8,228.9 942.9,231.9 943.0,235.8 943.1,237.4 943.2,235.4 943.3,231.4 943.4,228.4 943.5,228.8 943.6,232.3 943.6,236.2 943.7,237.4 943.8,235.0 943.9,230.8 944.0,228.0 944.1,228.8 944.2,232.7 944.3,236.5 944.4,237.4 944.5,234.6" stroke="#0072B2" stroke-width="2.08" fill="none" stroke-linejoin="round" stroke-linecap="butt"/>
<g fill="#ff0000" fill-opacity="0.6" stroke="#ff0000" stroke-opacity="0.6" stroke-width="1"><circle cx="941.4" cy="118.3" r="2.2"/><circle cx="941.4" cy="137.3" r="2.2"/><circle cx="941.5" cy="145.3" r="2.2"/><circle cx="941.3" cy="146.8" r="2.2"/><circle cx="941.7" cy="148" r="2.2"/><circle cx="941.0" cy="149.2" r="2.2"/><circle cx="941.6" cy="150.3" r="2.2"/><circle cx="940.9" cy="151.5" r="2.2"/><circle cx="941.4" cy="152.6" r="2.2"/><circle cx="941.1" cy="153.8" r="2.2"/><circle cx="941.7" cy="154.8" r="2.2"/><circle cx="941.2" cy="156" r="2.2"/><circle cx="940.8" cy="157.2" r="2.2"/><circle cx="941.0" cy="163.5" r="2.2"/></g>
<g stroke="#000" stroke-width="1.11" fill="none"><path d="M74.64,493.50H79.5"/><path d="M74.64,417.50H79.5"/><path d="M74.64,340.50H79.5"/><path d="M74.64,264.50H79.5"/><path d="M74.64,187.50H79.5"/><path d="M74.64,111.50H79.5"/><path d="M74.64,34.50H79.5"/><path d="M152.50,542.5V547.36"/><path d="M278.50,542.5V547.36"/><path d="M404.50,542.5V547.36"/><path d="M530.50,542.5V547.36"/><path d="M656.50,542.5V547.36"/><path d="M781.50,542.5V547.36"/><path d="M907.50,542.5V547.36"/></g>
<rect x="79.5" y="15.5" width="906.0" height="527.0" fill="none" stroke="#000" stroke-width="1.11"/>
<g><text x="69.0" y="498.50" text-anchor="end">1000</text><text x="69.0" y="422.50" text-anchor="end">2000</text><text x="69.0" y="345.50" text-anchor="end">3000</text><text x="69.0" y="269.50" text-anchor="end">4000</text><text x="69.0" y="192.50" text-anchor="end">5000</text><text x="69.0" y="116.50" text-anchor="end">6000</text><text x="69.0" y="39.50" text-anchor="end">7000</text><text x="152.20" y="561.9" text-anchor="middle" style="font-size:13.89px;letter-spacing:-0.12px">2001</text><text x="278.20" y="561.9" text-anchor="middle" style="font-size:13.89px;letter-spacing:-0.12px">2005</text><text x="404.20" y="561.9" text-anchor="middle" style="font-size:13.89px;letter-spacing:-0.12px">2009</text><text x="530.20" y="561.9" text-anchor="middle" style="font-size:13.89px;letter-spacing:-0.12px">2013</text><text x="656.20" y="561.9" text-anchor="middle" style="font-size:13.89px;letter-spacing:-0.12px">2017</text><text x="781.20" y="561.9" text-anchor="middle" style="font-size:13.89px;letter-spacing:-0.12px">2021</text><text x="907.20" y="561.9" text-anchor="middle" style="font-size:13.89px;letter-spacing:-0.12px">2025</text>
<text x="532.5" y="581.5" text-anchor="middle">ds</text>
<text transform="translate(25.6,278.8) rotate(-90)" text-anchor="middle">y</text>
</g>
</svg>
</body></html>
